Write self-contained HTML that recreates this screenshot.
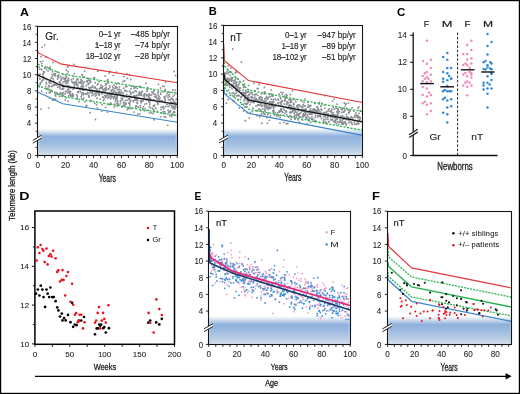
<!DOCTYPE html><html><head><meta charset="utf-8"><style>html,body{margin:0;padding:0;background:#fff;}svg{display:block;will-change:transform;}</style></head><body>
<svg width="520" height="394" viewBox="0 0 520 394" font-family='"Liberation Sans", sans-serif'>
<defs>
<linearGradient id="gb" x1="0" y1="0" x2="0" y2="1">
<stop offset="0" stop-color="#ffffff"/>
<stop offset="0.1" stop-color="#dfe8f3"/>
<stop offset="0.3" stop-color="#8fb1dc"/>
<stop offset="0.55" stop-color="#a0bde1"/>
<stop offset="0.9" stop-color="#c7d5e8"/>
<stop offset="0.96" stop-color="#d9e3ef"/>
<stop offset="1" stop-color="#cdd9ea"/>
</linearGradient>
</defs>
<rect x="0" y="0" width="520" height="394" fill="#fff"/>
<rect x="38.20" y="128.60" width="139.10" height="26.90" fill="url(#gb)"/>
<rect x="38.20" y="131.60" width="1.2" height="23.90" fill="#bcd4f0" opacity="0.8"/>
<rect x="175.70" y="131.60" width="1.0" height="23.90" fill="#c4d8f0" opacity="0.7"/>
<g fill="#898d93"><circle cx="100.85" cy="84.88" r="0.92"/><circle cx="108.59" cy="97.10" r="0.92"/><circle cx="63.48" cy="94.95" r="0.92"/><circle cx="50.84" cy="91.32" r="0.92"/><circle cx="50.36" cy="81.42" r="0.92"/><circle cx="174.81" cy="106.02" r="0.92"/><circle cx="128.99" cy="95.96" r="0.92"/><circle cx="111.46" cy="91.72" r="0.92"/><circle cx="64.25" cy="78.25" r="0.92"/><circle cx="99.20" cy="90.33" r="0.92"/><circle cx="110.17" cy="104.34" r="0.92"/><circle cx="101.54" cy="92.22" r="0.92"/><circle cx="81.71" cy="98.67" r="0.92"/><circle cx="78.05" cy="86.95" r="0.92"/><circle cx="155.88" cy="108.30" r="0.92"/><circle cx="171.44" cy="98.49" r="0.92"/><circle cx="164.77" cy="102.39" r="0.92"/><circle cx="174.56" cy="94.80" r="0.92"/><circle cx="146.38" cy="94.91" r="0.92"/><circle cx="49.87" cy="66.89" r="0.92"/><circle cx="54.17" cy="85.22" r="0.92"/><circle cx="51.81" cy="78.28" r="0.92"/><circle cx="115.78" cy="98.88" r="0.92"/><circle cx="64.32" cy="79.13" r="0.92"/><circle cx="53.96" cy="73.82" r="0.92"/><circle cx="67.42" cy="73.84" r="0.92"/><circle cx="80.16" cy="91.17" r="0.92"/><circle cx="67.12" cy="80.34" r="0.92"/><circle cx="51.71" cy="90.35" r="0.92"/><circle cx="67.47" cy="85.83" r="0.92"/><circle cx="79.07" cy="101.48" r="0.92"/><circle cx="50.28" cy="80.07" r="0.92"/><circle cx="89.59" cy="80.46" r="0.92"/><circle cx="171.60" cy="116.53" r="0.92"/><circle cx="63.22" cy="92.66" r="0.92"/><circle cx="164.52" cy="102.35" r="0.92"/><circle cx="140.92" cy="93.85" r="0.92"/><circle cx="65.14" cy="79.07" r="0.92"/><circle cx="96.54" cy="104.77" r="0.92"/><circle cx="43.10" cy="76.45" r="0.92"/><circle cx="73.57" cy="76.40" r="0.92"/><circle cx="120.97" cy="90.12" r="0.92"/><circle cx="47.30" cy="67.30" r="0.92"/><circle cx="115.79" cy="98.97" r="0.92"/><circle cx="165.76" cy="106.45" r="0.92"/><circle cx="40.01" cy="79.07" r="0.92"/><circle cx="62.31" cy="84.91" r="0.92"/><circle cx="117.57" cy="104.73" r="0.92"/><circle cx="174.58" cy="92.32" r="0.92"/><circle cx="134.19" cy="96.25" r="0.92"/><circle cx="40.20" cy="74.34" r="0.92"/><circle cx="135.56" cy="87.46" r="0.92"/><circle cx="105.02" cy="91.42" r="0.92"/><circle cx="82.22" cy="80.98" r="0.92"/><circle cx="140.59" cy="94.35" r="0.92"/><circle cx="140.60" cy="94.18" r="0.92"/><circle cx="86.82" cy="105.42" r="0.92"/><circle cx="163.46" cy="113.35" r="0.92"/><circle cx="158.24" cy="94.96" r="0.92"/><circle cx="124.94" cy="104.65" r="0.92"/><circle cx="48.90" cy="85.59" r="0.92"/><circle cx="140.31" cy="105.62" r="0.92"/><circle cx="99.20" cy="81.38" r="0.92"/><circle cx="41.86" cy="69.54" r="0.92"/><circle cx="104.84" cy="95.48" r="0.92"/><circle cx="123.48" cy="103.85" r="0.92"/><circle cx="73.41" cy="94.61" r="0.92"/><circle cx="65.98" cy="76.12" r="0.92"/><circle cx="164.14" cy="116.63" r="0.92"/><circle cx="83.34" cy="83.83" r="0.92"/><circle cx="65.41" cy="80.86" r="0.92"/><circle cx="160.59" cy="116.87" r="0.92"/><circle cx="119.10" cy="89.47" r="0.92"/><circle cx="154.56" cy="94.33" r="0.92"/><circle cx="136.99" cy="98.68" r="0.92"/><circle cx="100.61" cy="87.72" r="0.92"/><circle cx="67.59" cy="92.74" r="0.92"/><circle cx="81.73" cy="95.07" r="0.92"/><circle cx="174.79" cy="102.38" r="0.92"/><circle cx="159.55" cy="99.91" r="0.92"/><circle cx="136.62" cy="102.55" r="0.92"/><circle cx="40.37" cy="61.56" r="0.92"/><circle cx="101.19" cy="87.04" r="0.92"/><circle cx="57.37" cy="93.54" r="0.92"/><circle cx="125.53" cy="103.36" r="0.92"/><circle cx="150.41" cy="107.83" r="0.92"/><circle cx="133.26" cy="101.85" r="0.92"/><circle cx="39.20" cy="74.87" r="0.92"/><circle cx="137.40" cy="98.94" r="0.92"/><circle cx="135.04" cy="90.99" r="0.92"/><circle cx="123.48" cy="105.87" r="0.92"/><circle cx="164.21" cy="86.33" r="0.92"/><circle cx="167.89" cy="97.44" r="0.92"/><circle cx="125.03" cy="90.19" r="0.92"/><circle cx="90.30" cy="81.00" r="0.92"/><circle cx="169.52" cy="112.10" r="0.92"/><circle cx="128.62" cy="98.95" r="0.92"/><circle cx="127.27" cy="109.60" r="0.92"/><circle cx="67.48" cy="66.88" r="0.92"/><circle cx="112.66" cy="96.47" r="0.92"/><circle cx="82.43" cy="85.00" r="0.92"/><circle cx="49.26" cy="86.12" r="0.92"/><circle cx="114.52" cy="96.06" r="0.92"/><circle cx="150.66" cy="99.86" r="0.92"/><circle cx="149.36" cy="106.45" r="0.92"/><circle cx="57.31" cy="71.98" r="0.92"/><circle cx="109.81" cy="87.60" r="0.92"/><circle cx="169.73" cy="112.60" r="0.92"/><circle cx="170.20" cy="100.11" r="0.92"/><circle cx="78.21" cy="79.72" r="0.92"/><circle cx="126.89" cy="91.14" r="0.92"/><circle cx="81.21" cy="96.71" r="0.92"/><circle cx="155.70" cy="97.27" r="0.92"/><circle cx="172.89" cy="90.02" r="0.92"/><circle cx="117.69" cy="103.22" r="0.92"/><circle cx="122.19" cy="99.40" r="0.92"/><circle cx="173.03" cy="114.34" r="0.92"/><circle cx="116.28" cy="86.96" r="0.92"/><circle cx="134.16" cy="112.07" r="0.92"/><circle cx="171.28" cy="105.27" r="0.92"/><circle cx="75.28" cy="82.59" r="0.92"/><circle cx="151.57" cy="94.73" r="0.92"/><circle cx="104.22" cy="89.04" r="0.92"/><circle cx="166.87" cy="93.33" r="0.92"/><circle cx="146.49" cy="95.87" r="0.92"/><circle cx="133.61" cy="92.49" r="0.92"/><circle cx="87.31" cy="80.62" r="0.92"/><circle cx="54.84" cy="74.74" r="0.92"/><circle cx="72.68" cy="95.24" r="0.92"/><circle cx="90.15" cy="91.88" r="0.92"/><circle cx="111.60" cy="90.94" r="0.92"/><circle cx="126.83" cy="86.45" r="0.92"/><circle cx="156.54" cy="97.79" r="0.92"/><circle cx="141.11" cy="102.75" r="0.92"/><circle cx="163.71" cy="108.78" r="0.92"/><circle cx="68.15" cy="71.75" r="0.92"/><circle cx="161.60" cy="101.12" r="0.92"/><circle cx="73.93" cy="64.41" r="0.92"/><circle cx="153.87" cy="99.72" r="0.92"/><circle cx="93.93" cy="94.66" r="0.92"/><circle cx="40.18" cy="84.25" r="0.92"/><circle cx="108.29" cy="104.38" r="0.92"/><circle cx="64.09" cy="86.59" r="0.92"/><circle cx="52.52" cy="99.81" r="0.92"/><circle cx="117.10" cy="97.53" r="0.92"/><circle cx="63.46" cy="74.21" r="0.92"/><circle cx="46.35" cy="92.84" r="0.92"/><circle cx="83.33" cy="86.38" r="0.92"/><circle cx="109.63" cy="94.49" r="0.92"/><circle cx="135.56" cy="98.41" r="0.92"/><circle cx="63.01" cy="86.53" r="0.92"/><circle cx="64.94" cy="93.74" r="0.92"/><circle cx="109.25" cy="72.98" r="0.92"/><circle cx="136.07" cy="105.93" r="0.92"/><circle cx="125.56" cy="103.08" r="0.92"/><circle cx="174.88" cy="109.08" r="0.92"/><circle cx="73.75" cy="88.20" r="0.92"/><circle cx="151.42" cy="112.87" r="0.92"/><circle cx="162.86" cy="106.32" r="0.92"/><circle cx="144.53" cy="110.83" r="0.92"/><circle cx="138.58" cy="107.11" r="0.92"/><circle cx="39.18" cy="67.26" r="0.92"/><circle cx="126.86" cy="94.35" r="0.92"/><circle cx="130.69" cy="79.53" r="0.92"/><circle cx="129.80" cy="103.85" r="0.92"/><circle cx="135.59" cy="96.16" r="0.92"/><circle cx="123.61" cy="95.98" r="0.92"/><circle cx="73.53" cy="83.17" r="0.92"/><circle cx="90.14" cy="87.41" r="0.92"/><circle cx="72.72" cy="95.83" r="0.92"/><circle cx="172.71" cy="106.37" r="0.92"/><circle cx="121.12" cy="98.08" r="0.92"/><circle cx="44.00" cy="72.59" r="0.92"/><circle cx="61.31" cy="78.30" r="0.92"/><circle cx="123.02" cy="81.38" r="0.92"/><circle cx="111.24" cy="96.35" r="0.92"/><circle cx="88.73" cy="95.41" r="0.92"/><circle cx="77.28" cy="96.05" r="0.92"/><circle cx="79.03" cy="88.47" r="0.92"/><circle cx="59.56" cy="82.36" r="0.92"/><circle cx="92.14" cy="90.74" r="0.92"/><circle cx="175.73" cy="106.51" r="0.92"/><circle cx="47.96" cy="88.14" r="0.92"/><circle cx="173.55" cy="100.27" r="0.92"/><circle cx="110.76" cy="95.11" r="0.92"/><circle cx="174.34" cy="112.01" r="0.92"/><circle cx="121.97" cy="106.92" r="0.92"/><circle cx="66.13" cy="97.82" r="0.92"/><circle cx="111.42" cy="103.93" r="0.92"/><circle cx="101.30" cy="88.40" r="0.92"/><circle cx="118.98" cy="93.48" r="0.92"/><circle cx="140.21" cy="86.86" r="0.92"/><circle cx="147.19" cy="89.50" r="0.92"/><circle cx="87.84" cy="93.75" r="0.92"/><circle cx="120.30" cy="103.86" r="0.92"/><circle cx="142.87" cy="98.75" r="0.92"/><circle cx="165.53" cy="82.23" r="0.92"/><circle cx="43.22" cy="79.89" r="0.92"/><circle cx="124.72" cy="80.79" r="0.92"/><circle cx="113.31" cy="75.42" r="0.92"/><circle cx="114.57" cy="88.68" r="0.92"/><circle cx="89.80" cy="88.71" r="0.92"/><circle cx="141.68" cy="92.22" r="0.92"/><circle cx="48.08" cy="71.12" r="0.92"/><circle cx="145.02" cy="108.70" r="0.92"/><circle cx="96.94" cy="88.93" r="0.92"/><circle cx="128.95" cy="103.14" r="0.92"/><circle cx="83.12" cy="89.67" r="0.92"/><circle cx="97.40" cy="107.94" r="0.92"/><circle cx="51.24" cy="78.00" r="0.92"/><circle cx="116.46" cy="93.20" r="0.92"/><circle cx="133.37" cy="96.89" r="0.92"/><circle cx="67.47" cy="89.60" r="0.92"/><circle cx="49.11" cy="82.03" r="0.92"/><circle cx="77.19" cy="99.37" r="0.92"/><circle cx="87.65" cy="92.42" r="0.92"/><circle cx="136.71" cy="95.19" r="0.92"/><circle cx="165.93" cy="95.92" r="0.92"/><circle cx="149.81" cy="104.04" r="0.92"/><circle cx="82.04" cy="74.94" r="0.92"/><circle cx="72.36" cy="93.69" r="0.92"/><circle cx="88.73" cy="95.88" r="0.92"/><circle cx="64.92" cy="81.94" r="0.92"/><circle cx="148.97" cy="95.04" r="0.92"/><circle cx="62.35" cy="93.84" r="0.92"/><circle cx="160.67" cy="93.08" r="0.92"/><circle cx="113.66" cy="92.96" r="0.92"/><circle cx="172.61" cy="102.79" r="0.92"/><circle cx="114.04" cy="96.74" r="0.92"/><circle cx="49.43" cy="83.05" r="0.92"/><circle cx="49.52" cy="97.81" r="0.92"/><circle cx="57.79" cy="87.21" r="0.92"/><circle cx="68.47" cy="91.31" r="0.92"/><circle cx="110.51" cy="98.88" r="0.92"/><circle cx="172.87" cy="99.65" r="0.92"/><circle cx="106.62" cy="95.12" r="0.92"/><circle cx="165.43" cy="113.74" r="0.92"/><circle cx="153.04" cy="92.55" r="0.92"/><circle cx="154.10" cy="111.17" r="0.92"/><circle cx="171.41" cy="114.79" r="0.92"/><circle cx="149.69" cy="101.69" r="0.92"/><circle cx="96.40" cy="92.63" r="0.92"/><circle cx="90.12" cy="112.69" r="0.92"/><circle cx="66.23" cy="91.57" r="0.92"/><circle cx="45.97" cy="56.99" r="0.92"/><circle cx="53.73" cy="81.24" r="0.92"/><circle cx="46.40" cy="84.12" r="0.92"/><circle cx="119.24" cy="91.68" r="0.92"/><circle cx="63.46" cy="85.31" r="0.92"/><circle cx="70.56" cy="91.53" r="0.92"/><circle cx="63.52" cy="89.02" r="0.92"/><circle cx="61.78" cy="89.05" r="0.92"/><circle cx="151.77" cy="91.83" r="0.92"/><circle cx="74.06" cy="82.10" r="0.92"/><circle cx="114.11" cy="97.67" r="0.92"/><circle cx="105.07" cy="76.00" r="0.92"/><circle cx="149.58" cy="94.54" r="0.92"/><circle cx="111.35" cy="97.21" r="0.92"/><circle cx="129.49" cy="74.86" r="0.92"/><circle cx="39.22" cy="86.84" r="0.92"/><circle cx="137.27" cy="88.61" r="0.92"/><circle cx="59.66" cy="87.16" r="0.92"/><circle cx="159.05" cy="96.42" r="0.92"/><circle cx="126.62" cy="97.20" r="0.92"/><circle cx="58.73" cy="74.91" r="0.92"/><circle cx="49.21" cy="92.72" r="0.92"/><circle cx="137.73" cy="114.29" r="0.92"/><circle cx="171.09" cy="102.41" r="0.92"/><circle cx="157.39" cy="99.37" r="0.92"/><circle cx="165.68" cy="117.21" r="0.92"/><circle cx="153.06" cy="109.08" r="0.92"/><circle cx="59.69" cy="87.11" r="0.92"/><circle cx="81.17" cy="83.44" r="0.92"/><circle cx="102.92" cy="89.60" r="0.92"/><circle cx="87.92" cy="84.31" r="0.92"/><circle cx="102.16" cy="87.84" r="0.92"/><circle cx="153.53" cy="93.55" r="0.92"/><circle cx="136.82" cy="97.36" r="0.92"/><circle cx="116.45" cy="72.19" r="0.92"/><circle cx="149.30" cy="98.44" r="0.92"/><circle cx="123.70" cy="102.25" r="0.92"/><circle cx="79.33" cy="82.29" r="0.92"/><circle cx="92.45" cy="90.97" r="0.92"/><circle cx="139.81" cy="93.54" r="0.92"/><circle cx="169.63" cy="104.26" r="0.92"/><circle cx="153.13" cy="113.42" r="0.92"/><circle cx="57.36" cy="94.19" r="0.92"/><circle cx="62.81" cy="96.25" r="0.92"/><circle cx="154.53" cy="96.36" r="0.92"/><circle cx="59.63" cy="81.73" r="0.92"/><circle cx="94.50" cy="77.62" r="0.92"/><circle cx="109.11" cy="97.12" r="0.92"/><circle cx="144.75" cy="104.11" r="0.92"/><circle cx="95.23" cy="82.64" r="0.92"/><circle cx="93.64" cy="78.20" r="0.92"/><circle cx="129.87" cy="98.25" r="0.92"/><circle cx="40.29" cy="83.29" r="0.92"/><circle cx="52.54" cy="71.80" r="0.92"/><circle cx="108.81" cy="88.85" r="0.92"/><circle cx="59.80" cy="93.86" r="0.92"/><circle cx="163.76" cy="107.39" r="0.92"/><circle cx="57.49" cy="76.47" r="0.92"/><circle cx="175.45" cy="107.11" r="0.92"/><circle cx="65.23" cy="99.88" r="0.92"/><circle cx="125.25" cy="91.33" r="0.92"/><circle cx="118.18" cy="92.19" r="0.92"/><circle cx="83.65" cy="94.57" r="0.92"/><circle cx="55.01" cy="75.92" r="0.92"/><circle cx="56.63" cy="92.85" r="0.92"/><circle cx="115.92" cy="97.06" r="0.92"/><circle cx="164.64" cy="98.33" r="0.92"/><circle cx="54.82" cy="92.23" r="0.92"/><circle cx="77.99" cy="87.90" r="0.92"/><circle cx="153.67" cy="91.14" r="0.92"/><circle cx="114.18" cy="85.29" r="0.92"/><circle cx="175.49" cy="103.22" r="0.92"/><circle cx="129.61" cy="102.40" r="0.92"/><circle cx="90.98" cy="101.00" r="0.92"/><circle cx="149.91" cy="94.92" r="0.92"/><circle cx="57.66" cy="75.59" r="0.92"/><circle cx="117.20" cy="100.40" r="0.92"/><circle cx="117.00" cy="95.43" r="0.92"/><circle cx="127.28" cy="100.25" r="0.92"/><circle cx="171.62" cy="107.09" r="0.92"/><circle cx="103.30" cy="100.44" r="0.92"/><circle cx="143.52" cy="106.79" r="0.92"/><circle cx="105.52" cy="85.35" r="0.92"/><circle cx="94.80" cy="103.30" r="0.92"/><circle cx="116.71" cy="103.43" r="0.92"/><circle cx="98.04" cy="93.11" r="0.92"/><circle cx="82.47" cy="93.93" r="0.92"/><circle cx="139.89" cy="113.83" r="0.92"/><circle cx="142.66" cy="101.15" r="0.92"/><circle cx="55.07" cy="84.28" r="0.92"/><circle cx="107.87" cy="82.64" r="0.92"/><circle cx="111.16" cy="90.19" r="0.92"/><circle cx="80.46" cy="88.60" r="0.92"/><circle cx="164.92" cy="99.71" r="0.92"/><circle cx="130.63" cy="108.50" r="0.92"/><circle cx="68.66" cy="80.70" r="0.92"/><circle cx="116.83" cy="84.19" r="0.92"/><circle cx="54.98" cy="74.52" r="0.92"/><circle cx="170.46" cy="102.86" r="0.92"/><circle cx="83.04" cy="77.00" r="0.92"/><circle cx="162.66" cy="107.52" r="0.92"/><circle cx="119.44" cy="86.90" r="0.92"/><circle cx="42.05" cy="80.64" r="0.92"/><circle cx="168.08" cy="94.96" r="0.92"/><circle cx="103.68" cy="97.20" r="0.92"/><circle cx="162.89" cy="86.32" r="0.92"/><circle cx="154.67" cy="105.18" r="0.92"/><circle cx="160.51" cy="100.96" r="0.92"/><circle cx="65.90" cy="81.11" r="0.92"/><circle cx="44.68" cy="45.11" r="0.92"/><circle cx="139.02" cy="86.37" r="0.92"/><circle cx="137.25" cy="106.59" r="0.92"/><circle cx="134.85" cy="100.37" r="0.92"/><circle cx="68.86" cy="85.98" r="0.92"/><circle cx="136.89" cy="95.68" r="0.92"/><circle cx="130.48" cy="92.05" r="0.92"/><circle cx="89.70" cy="83.07" r="0.92"/><circle cx="69.67" cy="93.55" r="0.92"/><circle cx="167.07" cy="104.53" r="0.92"/><circle cx="50.26" cy="69.02" r="0.92"/><circle cx="99.17" cy="94.03" r="0.92"/><circle cx="121.42" cy="95.86" r="0.92"/><circle cx="72.73" cy="82.51" r="0.92"/><circle cx="143.19" cy="95.83" r="0.92"/><circle cx="76.66" cy="82.19" r="0.92"/><circle cx="175.59" cy="75.58" r="0.92"/><circle cx="102.14" cy="104.87" r="0.92"/><circle cx="107.49" cy="82.10" r="0.92"/><circle cx="115.32" cy="101.22" r="0.92"/><circle cx="147.01" cy="91.32" r="0.92"/><circle cx="108.29" cy="96.86" r="0.92"/><circle cx="170.53" cy="111.41" r="0.92"/><circle cx="146.54" cy="103.62" r="0.92"/><circle cx="99.18" cy="95.20" r="0.92"/><circle cx="147.50" cy="98.89" r="0.92"/><circle cx="68.58" cy="78.53" r="0.92"/><circle cx="107.36" cy="112.07" r="0.92"/><circle cx="117.64" cy="101.41" r="0.92"/><circle cx="62.83" cy="77.54" r="0.92"/><circle cx="98.38" cy="90.77" r="0.92"/><circle cx="74.41" cy="73.62" r="0.92"/><circle cx="117.12" cy="87.76" r="0.92"/><circle cx="148.21" cy="95.93" r="0.92"/><circle cx="43.61" cy="71.71" r="0.92"/><circle cx="124.42" cy="96.81" r="0.92"/><circle cx="50.05" cy="69.57" r="0.92"/><circle cx="61.66" cy="79.44" r="0.92"/><circle cx="153.70" cy="91.23" r="0.92"/><circle cx="46.24" cy="82.69" r="0.92"/><circle cx="173.19" cy="96.12" r="0.92"/><circle cx="106.04" cy="88.91" r="0.92"/><circle cx="101.26" cy="92.54" r="0.92"/><circle cx="43.18" cy="73.77" r="0.92"/><circle cx="92.55" cy="93.35" r="0.92"/><circle cx="96.95" cy="44.14" r="0.92"/><circle cx="144.25" cy="93.93" r="0.92"/><circle cx="69.79" cy="92.25" r="0.92"/><circle cx="102.13" cy="94.06" r="0.92"/><circle cx="88.51" cy="80.21" r="0.92"/><circle cx="43.24" cy="78.90" r="0.92"/><circle cx="128.41" cy="108.94" r="0.92"/><circle cx="158.37" cy="92.04" r="0.92"/><circle cx="161.44" cy="112.82" r="0.92"/><circle cx="90.91" cy="81.80" r="0.92"/><circle cx="67.77" cy="83.07" r="0.92"/><circle cx="60.58" cy="76.44" r="0.92"/><circle cx="67.64" cy="89.62" r="0.92"/><circle cx="158.14" cy="103.44" r="0.92"/><circle cx="134.21" cy="95.59" r="0.92"/><circle cx="76.02" cy="83.43" r="0.92"/><circle cx="92.56" cy="85.62" r="0.92"/><circle cx="137.54" cy="100.73" r="0.92"/><circle cx="168.45" cy="99.79" r="0.92"/><circle cx="144.59" cy="97.93" r="0.92"/><circle cx="82.66" cy="90.01" r="0.92"/><circle cx="49.31" cy="86.58" r="0.92"/><circle cx="110.19" cy="71.40" r="0.92"/><circle cx="92.70" cy="86.79" r="0.92"/><circle cx="120.82" cy="93.22" r="0.92"/><circle cx="81.29" cy="92.76" r="0.92"/><circle cx="136.34" cy="98.91" r="0.92"/><circle cx="138.98" cy="95.29" r="0.92"/><circle cx="76.84" cy="84.32" r="0.92"/><circle cx="94.28" cy="87.60" r="0.92"/><circle cx="78.47" cy="92.40" r="0.92"/><circle cx="67.82" cy="66.52" r="0.92"/><circle cx="116.71" cy="93.10" r="0.92"/><circle cx="173.89" cy="111.69" r="0.92"/><circle cx="67.88" cy="101.13" r="0.92"/><circle cx="130.76" cy="93.33" r="0.92"/><circle cx="126.00" cy="104.00" r="0.92"/><circle cx="97.41" cy="84.92" r="0.92"/><circle cx="83.51" cy="86.69" r="0.92"/><circle cx="76.76" cy="95.00" r="0.92"/><circle cx="60.97" cy="80.36" r="0.92"/><circle cx="71.18" cy="95.66" r="0.92"/><circle cx="58.75" cy="77.59" r="0.92"/><circle cx="135.61" cy="98.20" r="0.92"/><circle cx="92.34" cy="92.24" r="0.92"/><circle cx="46.49" cy="69.59" r="0.92"/><circle cx="119.49" cy="92.26" r="0.92"/><circle cx="83.14" cy="82.63" r="0.92"/><circle cx="162.19" cy="101.01" r="0.92"/><circle cx="74.26" cy="84.64" r="0.92"/><circle cx="123.59" cy="88.25" r="0.92"/><circle cx="88.32" cy="78.42" r="0.92"/><circle cx="125.28" cy="100.48" r="0.92"/><circle cx="95.07" cy="93.43" r="0.92"/><circle cx="160.51" cy="88.23" r="0.92"/><circle cx="164.68" cy="91.02" r="0.92"/><circle cx="80.78" cy="82.37" r="0.92"/><circle cx="174.09" cy="102.06" r="0.92"/><circle cx="132.65" cy="92.34" r="0.92"/><circle cx="106.61" cy="89.72" r="0.92"/><circle cx="114.22" cy="107.00" r="0.92"/><circle cx="172.95" cy="108.84" r="0.92"/><circle cx="86.10" cy="94.22" r="0.92"/><circle cx="134.78" cy="86.94" r="0.92"/><circle cx="172.26" cy="98.15" r="0.92"/><circle cx="106.20" cy="84.44" r="0.92"/><circle cx="89.29" cy="90.32" r="0.92"/><circle cx="70.79" cy="96.27" r="0.92"/><circle cx="83.07" cy="93.02" r="0.92"/><circle cx="46.53" cy="79.68" r="0.92"/><circle cx="51.97" cy="74.58" r="0.92"/><circle cx="145.49" cy="94.12" r="0.92"/><circle cx="60.39" cy="83.26" r="0.92"/><circle cx="73.14" cy="89.42" r="0.92"/><circle cx="148.88" cy="101.03" r="0.92"/><circle cx="137.62" cy="103.45" r="0.92"/><circle cx="84.30" cy="81.94" r="0.92"/><circle cx="116.92" cy="106.11" r="0.92"/><circle cx="136.39" cy="91.47" r="0.92"/><circle cx="55.18" cy="94.97" r="0.92"/><circle cx="131.14" cy="96.51" r="0.92"/><circle cx="119.44" cy="94.01" r="0.92"/><circle cx="173.17" cy="106.66" r="0.92"/><circle cx="125.85" cy="103.15" r="0.92"/><circle cx="168.00" cy="91.97" r="0.92"/><circle cx="54.23" cy="74.75" r="0.92"/><circle cx="77.63" cy="84.71" r="0.92"/><circle cx="83.78" cy="89.67" r="0.92"/><circle cx="113.44" cy="98.53" r="0.92"/><circle cx="149.45" cy="95.48" r="0.92"/><circle cx="77.31" cy="97.48" r="0.92"/><circle cx="174.64" cy="112.35" r="0.92"/><circle cx="134.59" cy="96.28" r="0.92"/><circle cx="62.14" cy="93.55" r="0.92"/><circle cx="168.02" cy="106.61" r="0.92"/><circle cx="82.88" cy="88.69" r="0.92"/><circle cx="116.70" cy="98.78" r="0.92"/><circle cx="69.47" cy="91.19" r="0.92"/><circle cx="88.77" cy="87.66" r="0.92"/><circle cx="162.31" cy="101.17" r="0.92"/><circle cx="48.65" cy="108.11" r="0.92"/><circle cx="65.93" cy="83.91" r="0.92"/><circle cx="105.30" cy="90.28" r="0.92"/><circle cx="45.75" cy="86.59" r="0.92"/><circle cx="129.40" cy="99.63" r="0.92"/><circle cx="158.40" cy="84.44" r="0.92"/><circle cx="99.57" cy="92.62" r="0.92"/><circle cx="41.44" cy="82.13" r="0.92"/><circle cx="54.28" cy="98.99" r="0.92"/><circle cx="80.98" cy="79.49" r="0.92"/><circle cx="39.16" cy="74.43" r="0.92"/><circle cx="111.30" cy="94.08" r="0.92"/><circle cx="148.30" cy="110.33" r="0.92"/><circle cx="153.24" cy="92.80" r="0.92"/><circle cx="175.34" cy="90.06" r="0.92"/><circle cx="136.15" cy="100.07" r="0.92"/><circle cx="164.69" cy="111.65" r="0.92"/><circle cx="91.92" cy="93.11" r="0.92"/><circle cx="129.41" cy="103.56" r="0.92"/><circle cx="87.13" cy="82.12" r="0.92"/><circle cx="164.06" cy="96.84" r="0.92"/><circle cx="141.23" cy="94.96" r="0.92"/><circle cx="141.45" cy="100.59" r="0.92"/><circle cx="52.47" cy="86.04" r="0.92"/><circle cx="86.61" cy="81.25" r="0.92"/><circle cx="94.01" cy="90.51" r="0.92"/><circle cx="112.68" cy="89.82" r="0.92"/><circle cx="82.50" cy="74.78" r="0.92"/><circle cx="52.83" cy="100.22" r="0.92"/><circle cx="68.36" cy="78.96" r="0.92"/><circle cx="136.26" cy="99.42" r="0.92"/><circle cx="170.00" cy="92.43" r="0.92"/><circle cx="63.31" cy="81.97" r="0.92"/><circle cx="126.31" cy="96.49" r="0.92"/><circle cx="127.59" cy="107.75" r="0.92"/><circle cx="157.25" cy="111.35" r="0.92"/><circle cx="108.18" cy="82.85" r="0.92"/><circle cx="134.00" cy="88.34" r="0.92"/><circle cx="130.60" cy="100.85" r="0.92"/><circle cx="121.55" cy="91.97" r="0.92"/><circle cx="109.63" cy="104.56" r="0.92"/><circle cx="120.53" cy="100.97" r="0.92"/><circle cx="167.75" cy="125.32" r="0.92"/><circle cx="140.72" cy="94.07" r="0.92"/><circle cx="140.55" cy="110.45" r="0.92"/><circle cx="55.39" cy="73.71" r="0.92"/><circle cx="106.25" cy="87.34" r="0.92"/><circle cx="168.60" cy="111.91" r="0.92"/><circle cx="149.06" cy="97.22" r="0.92"/><circle cx="159.17" cy="101.61" r="0.92"/><circle cx="72.70" cy="96.23" r="0.92"/><circle cx="158.53" cy="98.84" r="0.92"/><circle cx="76.74" cy="79.96" r="0.92"/><circle cx="147.58" cy="95.52" r="0.92"/><circle cx="71.46" cy="79.74" r="0.92"/><circle cx="114.38" cy="104.16" r="0.92"/><circle cx="148.93" cy="102.08" r="0.92"/><circle cx="42.84" cy="74.33" r="0.92"/><circle cx="158.43" cy="97.98" r="0.92"/><circle cx="91.95" cy="87.59" r="0.92"/><circle cx="123.84" cy="76.38" r="0.92"/><circle cx="66.56" cy="77.17" r="0.92"/><circle cx="160.07" cy="98.12" r="0.92"/><circle cx="97.84" cy="71.21" r="0.92"/><circle cx="85.11" cy="93.62" r="0.92"/><circle cx="121.89" cy="99.78" r="0.92"/><circle cx="62.92" cy="88.84" r="0.92"/><circle cx="55.72" cy="99.30" r="0.92"/><circle cx="169.07" cy="106.11" r="0.92"/><circle cx="140.48" cy="101.25" r="0.92"/><circle cx="58.12" cy="76.71" r="0.92"/><circle cx="96.99" cy="98.26" r="0.92"/><circle cx="108.41" cy="88.99" r="0.92"/><circle cx="86.05" cy="88.84" r="0.92"/><circle cx="77.47" cy="78.83" r="0.92"/><circle cx="77.69" cy="91.96" r="0.92"/><circle cx="168.04" cy="110.11" r="0.92"/><circle cx="141.46" cy="101.17" r="0.92"/><circle cx="96.21" cy="90.53" r="0.92"/><circle cx="99.25" cy="94.85" r="0.92"/><circle cx="131.52" cy="86.26" r="0.92"/><circle cx="95.15" cy="86.82" r="0.92"/><circle cx="96.42" cy="94.79" r="0.92"/><circle cx="152.24" cy="108.09" r="0.92"/><circle cx="51.58" cy="86.60" r="0.92"/><circle cx="50.04" cy="89.71" r="0.92"/><circle cx="131.12" cy="88.73" r="0.92"/><circle cx="163.05" cy="91.94" r="0.92"/><circle cx="103.20" cy="91.00" r="0.92"/><circle cx="102.59" cy="97.13" r="0.92"/><circle cx="173.17" cy="112.48" r="0.92"/><circle cx="176.27" cy="99.26" r="0.92"/><circle cx="135.57" cy="106.99" r="0.92"/><circle cx="46.99" cy="89.13" r="0.92"/><circle cx="68.14" cy="80.68" r="0.92"/><circle cx="66.94" cy="82.12" r="0.92"/><circle cx="141.26" cy="87.22" r="0.92"/><circle cx="60.99" cy="93.93" r="0.92"/><circle cx="73.08" cy="96.01" r="0.92"/><circle cx="139.73" cy="92.41" r="0.92"/><circle cx="39.91" cy="69.19" r="0.92"/><circle cx="169.56" cy="96.49" r="0.92"/><circle cx="112.51" cy="92.97" r="0.92"/><circle cx="53.23" cy="84.85" r="0.92"/><circle cx="55.09" cy="73.81" r="0.92"/><circle cx="55.81" cy="95.90" r="0.92"/><circle cx="146.24" cy="99.89" r="0.92"/><circle cx="95.48" cy="88.04" r="0.92"/><circle cx="115.61" cy="86.69" r="0.92"/><circle cx="156.46" cy="96.11" r="0.92"/><circle cx="173.16" cy="107.17" r="0.92"/><circle cx="94.44" cy="78.80" r="0.92"/><circle cx="95.41" cy="119.53" r="0.92"/><circle cx="59.16" cy="85.57" r="0.92"/><circle cx="59.55" cy="96.38" r="0.92"/><circle cx="41.68" cy="91.19" r="0.92"/><circle cx="127.47" cy="78.43" r="0.92"/><circle cx="44.13" cy="71.97" r="0.92"/><circle cx="53.30" cy="78.94" r="0.92"/><circle cx="83.60" cy="97.95" r="0.92"/><circle cx="169.82" cy="115.72" r="0.92"/><circle cx="107.63" cy="98.05" r="0.92"/><circle cx="140.91" cy="94.79" r="0.92"/><circle cx="89.05" cy="97.00" r="0.92"/><circle cx="97.80" cy="90.64" r="0.92"/><circle cx="44.62" cy="68.35" r="0.92"/><circle cx="114.14" cy="90.89" r="0.92"/><circle cx="68.78" cy="95.72" r="0.92"/><circle cx="105.27" cy="88.28" r="0.92"/><circle cx="142.32" cy="91.38" r="0.92"/><circle cx="172.60" cy="102.83" r="0.92"/><circle cx="120.53" cy="101.81" r="0.92"/><circle cx="89.20" cy="82.91" r="0.92"/><circle cx="122.74" cy="99.04" r="0.92"/><circle cx="109.76" cy="85.73" r="0.92"/><circle cx="45.11" cy="78.47" r="0.92"/><circle cx="148.77" cy="94.06" r="0.92"/><circle cx="157.76" cy="103.73" r="0.92"/><circle cx="49.63" cy="68.16" r="0.92"/><circle cx="153.78" cy="106.17" r="0.92"/><circle cx="147.75" cy="87.40" r="0.92"/><circle cx="45.62" cy="67.14" r="0.92"/><circle cx="114.77" cy="91.34" r="0.92"/><circle cx="126.86" cy="74.03" r="0.92"/><circle cx="118.64" cy="104.74" r="0.92"/><circle cx="140.57" cy="107.44" r="0.92"/><circle cx="146.78" cy="99.45" r="0.92"/><circle cx="100.20" cy="99.10" r="0.92"/><circle cx="54.17" cy="82.53" r="0.92"/><circle cx="53.87" cy="85.15" r="0.92"/><circle cx="130.71" cy="94.16" r="0.92"/><circle cx="80.98" cy="86.54" r="0.92"/><circle cx="115.90" cy="92.72" r="0.92"/><circle cx="112.57" cy="86.70" r="0.92"/><circle cx="54.92" cy="84.52" r="0.92"/><circle cx="98.00" cy="91.35" r="0.92"/><circle cx="131.84" cy="108.23" r="0.92"/><circle cx="91.86" cy="90.23" r="0.92"/><circle cx="52.39" cy="76.13" r="0.92"/><circle cx="65.92" cy="78.14" r="0.92"/><circle cx="60.57" cy="92.59" r="0.92"/><circle cx="91.94" cy="95.47" r="0.92"/><circle cx="155.28" cy="108.08" r="0.92"/><circle cx="174.59" cy="108.17" r="0.92"/><circle cx="135.06" cy="98.46" r="0.92"/><circle cx="117.97" cy="83.13" r="0.92"/><circle cx="46.66" cy="88.61" r="0.92"/><circle cx="98.11" cy="83.65" r="0.92"/><circle cx="115.81" cy="87.77" r="0.92"/><circle cx="105.66" cy="97.21" r="0.92"/><circle cx="142.84" cy="108.69" r="0.92"/><circle cx="42.60" cy="61.33" r="0.92"/><circle cx="117.00" cy="96.80" r="0.92"/><circle cx="170.44" cy="99.71" r="0.92"/><circle cx="150.18" cy="97.89" r="0.92"/><circle cx="65.52" cy="91.42" r="0.92"/><circle cx="122.83" cy="94.76" r="0.92"/><circle cx="163.25" cy="111.74" r="0.92"/><circle cx="133.92" cy="86.41" r="0.92"/><circle cx="78.31" cy="92.00" r="0.92"/><circle cx="139.17" cy="98.28" r="0.92"/><circle cx="112.69" cy="92.55" r="0.92"/><circle cx="78.61" cy="82.87" r="0.92"/><circle cx="75.76" cy="81.92" r="0.92"/><circle cx="76.45" cy="85.18" r="0.92"/><circle cx="157.70" cy="104.33" r="0.92"/><circle cx="122.77" cy="96.56" r="0.92"/><circle cx="129.83" cy="105.73" r="0.92"/><circle cx="145.92" cy="83.28" r="0.92"/><circle cx="88.33" cy="84.39" r="0.92"/><circle cx="70.29" cy="95.28" r="0.92"/><circle cx="169.43" cy="94.61" r="0.92"/><circle cx="116.72" cy="92.69" r="0.92"/><circle cx="53.09" cy="62.38" r="0.92"/><circle cx="129.44" cy="91.22" r="0.92"/><circle cx="116.63" cy="98.57" r="0.92"/><circle cx="175.74" cy="102.38" r="0.92"/><circle cx="130.72" cy="100.66" r="0.92"/><circle cx="41.84" cy="63.60" r="0.92"/><circle cx="157.10" cy="102.37" r="0.92"/><circle cx="110.46" cy="102.83" r="0.92"/><circle cx="111.23" cy="94.58" r="0.92"/><circle cx="107.36" cy="95.28" r="0.92"/><circle cx="105.53" cy="107.39" r="0.92"/><circle cx="105.68" cy="83.70" r="0.92"/><circle cx="56.53" cy="84.97" r="0.92"/><circle cx="84.55" cy="71.08" r="0.92"/><circle cx="170.31" cy="110.74" r="0.92"/><circle cx="157.57" cy="92.88" r="0.92"/><circle cx="120.15" cy="94.16" r="0.92"/><circle cx="123.24" cy="92.90" r="0.92"/><circle cx="110.19" cy="94.88" r="0.92"/><circle cx="42.15" cy="47.08" r="0.92"/><circle cx="41.06" cy="109.11" r="0.92"/><circle cx="153.53" cy="110.11" r="0.92"/><circle cx="143.43" cy="100.16" r="0.92"/><circle cx="154.04" cy="119.72" r="0.92"/><circle cx="84.54" cy="77.08" r="0.92"/><circle cx="74.31" cy="86.68" r="0.92"/><circle cx="111.15" cy="97.42" r="0.92"/><circle cx="70.42" cy="94.36" r="0.92"/><circle cx="62.23" cy="85.92" r="0.92"/><circle cx="147.10" cy="91.26" r="0.92"/><circle cx="70.96" cy="87.88" r="0.92"/><circle cx="73.29" cy="78.86" r="0.92"/><circle cx="63.46" cy="88.17" r="0.92"/><circle cx="139.11" cy="92.11" r="0.92"/><circle cx="148.03" cy="88.84" r="0.92"/><circle cx="71.82" cy="81.60" r="0.92"/><circle cx="95.55" cy="95.96" r="0.92"/><circle cx="164.88" cy="97.47" r="0.92"/><circle cx="91.75" cy="87.53" r="0.92"/><circle cx="84.91" cy="101.86" r="0.92"/><circle cx="90.67" cy="100.45" r="0.92"/><circle cx="104.13" cy="99.27" r="0.92"/><circle cx="39.63" cy="78.33" r="0.92"/><circle cx="165.37" cy="100.68" r="0.92"/><circle cx="66.40" cy="70.25" r="0.92"/><circle cx="85.43" cy="93.78" r="0.92"/><circle cx="57.49" cy="78.96" r="0.92"/><circle cx="56.64" cy="85.01" r="0.92"/><circle cx="160.90" cy="94.19" r="0.92"/><circle cx="89.67" cy="92.83" r="0.92"/><circle cx="75.81" cy="83.90" r="0.92"/><circle cx="86.21" cy="85.72" r="0.92"/><circle cx="80.55" cy="82.47" r="0.92"/><circle cx="113.13" cy="87.89" r="0.92"/><circle cx="144.11" cy="96.25" r="0.92"/><circle cx="68.82" cy="88.92" r="0.92"/><circle cx="80.89" cy="81.26" r="0.92"/><circle cx="60.08" cy="88.87" r="0.92"/><circle cx="117.05" cy="89.55" r="0.92"/><circle cx="101.88" cy="111.09" r="0.92"/><circle cx="155.80" cy="94.62" r="0.92"/><circle cx="174.22" cy="71.39" r="0.92"/><circle cx="144.17" cy="94.99" r="0.92"/><circle cx="61.86" cy="84.18" r="0.92"/><circle cx="67.24" cy="81.79" r="0.92"/><circle cx="107.39" cy="80.38" r="0.92"/><circle cx="102.63" cy="86.24" r="0.92"/><circle cx="43.50" cy="76.91" r="0.92"/><circle cx="124.08" cy="105.88" r="0.92"/><circle cx="81.97" cy="87.36" r="0.92"/><circle cx="161.09" cy="109.68" r="0.92"/><circle cx="101.96" cy="87.78" r="0.92"/><circle cx="165.25" cy="89.39" r="0.92"/><circle cx="160.83" cy="107.36" r="0.92"/><circle cx="108.74" cy="94.46" r="0.92"/><circle cx="138.69" cy="93.89" r="0.92"/><circle cx="119.17" cy="89.45" r="0.92"/><circle cx="51.23" cy="83.12" r="0.92"/><circle cx="86.16" cy="106.21" r="0.92"/><circle cx="109.48" cy="93.22" r="0.92"/><circle cx="125.91" cy="86.72" r="0.92"/><circle cx="50.26" cy="92.18" r="0.92"/><circle cx="173.13" cy="102.57" r="0.92"/><circle cx="99.51" cy="88.62" r="0.92"/><circle cx="153.44" cy="105.64" r="0.92"/><circle cx="73.25" cy="95.34" r="0.92"/><circle cx="115.20" cy="94.62" r="0.92"/><circle cx="106.09" cy="96.49" r="0.92"/><circle cx="107.92" cy="79.76" r="0.92"/><circle cx="65.13" cy="79.75" r="0.92"/><circle cx="174.32" cy="115.28" r="0.92"/><circle cx="133.34" cy="100.51" r="0.92"/><circle cx="149.56" cy="112.83" r="0.92"/><circle cx="151.44" cy="99.66" r="0.92"/><circle cx="40.89" cy="56.60" r="0.92"/></g>
<polyline points="37.70,50.85 38.26,52.87 60.59,63.86 177.30,82.77" fill="none" stroke="#e8343c" stroke-width="1.1" stroke-linejoin="round" />
<polyline points="37.70,64.18 62.83,74.20 177.30,93.36" fill="none" stroke="#2db54e" stroke-width="1.3" stroke-linejoin="round" stroke-dasharray="2.2 1.4"/>
<polyline points="37.70,75.09 62.83,86.00 177.30,104.43" fill="none" stroke="#151515" stroke-width="1.3" stroke-linejoin="round" />
<polyline points="37.70,85.19 62.83,96.51 177.30,115.50" fill="none" stroke="#2db54e" stroke-width="1.3" stroke-linejoin="round" stroke-dasharray="2.2 1.4"/>
<polyline points="37.70,92.06 62.83,103.78 177.30,122.21" fill="none" stroke="#3a86cc" stroke-width="1.1" stroke-linejoin="round" />
<rect x="37.5" y="26.5" width="140.0" height="129.0" fill="none" stroke="#151515" stroke-width="1.1"/>
<line x1="35.70" y1="34.28" x2="37.70" y2="34.28" stroke="#1a1a1a" stroke-width="0.9" />
<line x1="35.70" y1="50.44" x2="37.70" y2="50.44" stroke="#1a1a1a" stroke-width="0.9" />
<line x1="35.70" y1="66.61" x2="37.70" y2="66.61" stroke="#1a1a1a" stroke-width="0.9" />
<line x1="35.70" y1="82.77" x2="37.70" y2="82.77" stroke="#1a1a1a" stroke-width="0.9" />
<line x1="35.70" y1="98.93" x2="37.70" y2="98.93" stroke="#1a1a1a" stroke-width="0.9" />
<line x1="35.70" y1="115.09" x2="37.70" y2="115.09" stroke="#1a1a1a" stroke-width="0.9" />
<line x1="35.70" y1="131.26" x2="37.70" y2="131.26" stroke="#1a1a1a" stroke-width="0.9" />
<line x1="35.70" y1="139.34" x2="37.70" y2="139.34" stroke="#1a1a1a" stroke-width="0.9" />
<line x1="35.70" y1="147.42" x2="37.70" y2="147.42" stroke="#1a1a1a" stroke-width="0.9" />
<line x1="34.90" y1="26.20" x2="37.70" y2="26.20" stroke="#1a1a1a" stroke-width="0.9" />
<text transform="translate(22.58,29.50) scale(0.9500,1)" font-size="8.30" fill="#1e1e1e" stroke="#1e1e1e" stroke-width="0.08">16</text>
<line x1="34.90" y1="42.36" x2="37.70" y2="42.36" stroke="#1a1a1a" stroke-width="0.9" />
<text transform="translate(22.46,45.66) scale(0.9500,1)" font-size="8.30" fill="#1e1e1e" stroke="#1e1e1e" stroke-width="0.08">14</text>
<line x1="34.90" y1="58.52" x2="37.70" y2="58.52" stroke="#1a1a1a" stroke-width="0.9" />
<text transform="translate(22.63,61.82) scale(0.9500,1)" font-size="8.30" fill="#1e1e1e" stroke="#1e1e1e" stroke-width="0.08">12</text>
<line x1="34.90" y1="74.69" x2="37.70" y2="74.69" stroke="#1a1a1a" stroke-width="0.9" />
<text transform="translate(22.54,77.99) scale(0.9500,1)" font-size="8.30" fill="#1e1e1e" stroke="#1e1e1e" stroke-width="0.08">10</text>
<line x1="34.90" y1="90.85" x2="37.70" y2="90.85" stroke="#1a1a1a" stroke-width="0.9" />
<text transform="translate(26.96,94.15) scale(0.9500,1)" font-size="8.30" fill="#1e1e1e" stroke="#1e1e1e" stroke-width="0.08">8</text>
<line x1="34.90" y1="107.01" x2="37.70" y2="107.01" stroke="#1a1a1a" stroke-width="0.9" />
<text transform="translate(26.96,110.31) scale(0.9500,1)" font-size="8.30" fill="#1e1e1e" stroke="#1e1e1e" stroke-width="0.08">6</text>
<line x1="34.90" y1="123.17" x2="37.70" y2="123.17" stroke="#1a1a1a" stroke-width="0.9" />
<text transform="translate(26.85,126.47) scale(0.9500,1)" font-size="8.30" fill="#1e1e1e" stroke="#1e1e1e" stroke-width="0.08">4</text>
<line x1="34.90" y1="155.50" x2="37.70" y2="155.50" stroke="#1a1a1a" stroke-width="0.9" />
<text transform="translate(26.92,158.80) scale(0.9500,1)" font-size="8.30" fill="#1e1e1e" stroke="#1e1e1e" stroke-width="0.08">0</text>
<line x1="37.70" y1="155.50" x2="37.70" y2="158.00" stroke="#1a1a1a" stroke-width="0.9" />
<line x1="44.68" y1="155.50" x2="44.68" y2="158.00" stroke="#1a1a1a" stroke-width="0.9" />
<line x1="51.66" y1="155.50" x2="51.66" y2="158.00" stroke="#1a1a1a" stroke-width="0.9" />
<line x1="58.64" y1="155.50" x2="58.64" y2="158.00" stroke="#1a1a1a" stroke-width="0.9" />
<line x1="65.62" y1="155.50" x2="65.62" y2="158.00" stroke="#1a1a1a" stroke-width="0.9" />
<line x1="72.60" y1="155.50" x2="72.60" y2="158.00" stroke="#1a1a1a" stroke-width="0.9" />
<line x1="79.58" y1="155.50" x2="79.58" y2="158.00" stroke="#1a1a1a" stroke-width="0.9" />
<line x1="86.56" y1="155.50" x2="86.56" y2="158.00" stroke="#1a1a1a" stroke-width="0.9" />
<line x1="93.54" y1="155.50" x2="93.54" y2="158.00" stroke="#1a1a1a" stroke-width="0.9" />
<line x1="100.52" y1="155.50" x2="100.52" y2="158.00" stroke="#1a1a1a" stroke-width="0.9" />
<line x1="107.50" y1="155.50" x2="107.50" y2="158.00" stroke="#1a1a1a" stroke-width="0.9" />
<line x1="114.48" y1="155.50" x2="114.48" y2="158.00" stroke="#1a1a1a" stroke-width="0.9" />
<line x1="121.46" y1="155.50" x2="121.46" y2="158.00" stroke="#1a1a1a" stroke-width="0.9" />
<line x1="128.44" y1="155.50" x2="128.44" y2="158.00" stroke="#1a1a1a" stroke-width="0.9" />
<line x1="135.42" y1="155.50" x2="135.42" y2="158.00" stroke="#1a1a1a" stroke-width="0.9" />
<line x1="142.40" y1="155.50" x2="142.40" y2="158.00" stroke="#1a1a1a" stroke-width="0.9" />
<line x1="149.38" y1="155.50" x2="149.38" y2="158.00" stroke="#1a1a1a" stroke-width="0.9" />
<line x1="156.36" y1="155.50" x2="156.36" y2="158.00" stroke="#1a1a1a" stroke-width="0.9" />
<line x1="163.34" y1="155.50" x2="163.34" y2="158.00" stroke="#1a1a1a" stroke-width="0.9" />
<line x1="170.32" y1="155.50" x2="170.32" y2="158.00" stroke="#1a1a1a" stroke-width="0.9" />
<line x1="177.30" y1="155.50" x2="177.30" y2="158.00" stroke="#1a1a1a" stroke-width="0.9" />
<text transform="translate(35.44,167.60) scale(0.9800,1)" font-size="8.30" fill="#1e1e1e" stroke="#1e1e1e" stroke-width="0.08">0</text>
<text transform="translate(61.05,167.60) scale(0.9800,1)" font-size="8.30" fill="#1e1e1e" stroke="#1e1e1e" stroke-width="0.08">20</text>
<text transform="translate(89.08,167.60) scale(0.9800,1)" font-size="8.30" fill="#1e1e1e" stroke="#1e1e1e" stroke-width="0.08">40</text>
<text transform="translate(116.89,167.60) scale(0.9800,1)" font-size="8.30" fill="#1e1e1e" stroke="#1e1e1e" stroke-width="0.08">60</text>
<text transform="translate(144.84,167.60) scale(0.9800,1)" font-size="8.30" fill="#1e1e1e" stroke="#1e1e1e" stroke-width="0.08">80</text>
<text transform="translate(170.36,167.60) scale(0.9800,1)" font-size="8.30" fill="#1e1e1e" stroke="#1e1e1e" stroke-width="0.08">100</text>
<polygon points="32.75,140.34 41.65,135.26 41.65,138.06 32.75,143.14" fill="#fff"/>
<line x1="32.75" y1="140.34" x2="41.65" y2="135.26" stroke="#222" stroke-width="1.0" />
<line x1="32.75" y1="143.14" x2="41.65" y2="138.06" stroke="#222" stroke-width="1.0" />
<text transform="translate(19.99,15.50) scale(1.0774,1)" font-size="11.48" font-weight="bold" fill="#000">A</text>
<text transform="translate(45.30,40.40) scale(0.9275,1)" font-size="10.74" fill="#1e1e1e" stroke="#1e1e1e" stroke-width="0.18">Gr</text>
<g fill="#333"><circle cx="57.30" cy="39.50" r="0.75"/></g>
<text transform="translate(98.68,36.60) scale(0.8700,1)" font-size="9.30" fill="#1e1e1e" stroke="#1e1e1e" stroke-width="0.14" letter-spacing="-0.100">0–1 yr</text>
<text transform="translate(131.00,36.60) scale(0.8700,1)" font-size="9.30" fill="#1e1e1e" stroke="#1e1e1e" stroke-width="0.14" letter-spacing="0.102">–485 bp/yr</text>
<text transform="translate(94.78,47.70) scale(0.8700,1)" font-size="9.30" fill="#1e1e1e" stroke="#1e1e1e" stroke-width="0.14" letter-spacing="-0.199">1–18 yr</text>
<text transform="translate(135.30,47.70) scale(0.8700,1)" font-size="9.30" fill="#1e1e1e" stroke="#1e1e1e" stroke-width="0.14" letter-spacing="0.144">–74 bp/yr</text>
<text transform="translate(85.68,58.80) scale(0.8700,1)" font-size="9.30" fill="#1e1e1e" stroke="#1e1e1e" stroke-width="0.14" letter-spacing="-0.135">18–102 yr</text>
<text transform="translate(135.30,58.80) scale(0.8700,1)" font-size="9.30" fill="#1e1e1e" stroke="#1e1e1e" stroke-width="0.14" letter-spacing="0.144">–28 bp/yr</text>
<rect x="224.20" y="128.00" width="138.20" height="27.60" fill="url(#gb)"/>
<rect x="224.20" y="131.00" width="1.2" height="24.60" fill="#bcd4f0" opacity="0.8"/>
<rect x="360.80" y="131.00" width="1.0" height="24.60" fill="#c4d8f0" opacity="0.7"/>
<g fill="#898d93"><circle cx="351.98" cy="117.78" r="0.92"/><circle cx="305.81" cy="112.60" r="0.92"/><circle cx="297.22" cy="106.95" r="0.92"/><circle cx="254.36" cy="94.89" r="0.92"/><circle cx="227.14" cy="85.48" r="0.92"/><circle cx="294.80" cy="115.15" r="0.92"/><circle cx="273.49" cy="101.40" r="0.92"/><circle cx="314.95" cy="120.80" r="0.92"/><circle cx="358.34" cy="120.64" r="0.92"/><circle cx="303.04" cy="116.38" r="0.92"/><circle cx="267.31" cy="123.07" r="0.92"/><circle cx="305.62" cy="109.35" r="0.92"/><circle cx="312.80" cy="109.94" r="0.92"/><circle cx="336.86" cy="111.98" r="0.92"/><circle cx="239.55" cy="81.72" r="0.92"/><circle cx="303.15" cy="109.27" r="0.92"/><circle cx="269.58" cy="105.33" r="0.92"/><circle cx="331.55" cy="110.77" r="0.92"/><circle cx="259.54" cy="98.06" r="0.92"/><circle cx="299.36" cy="122.22" r="0.92"/><circle cx="246.90" cy="106.91" r="0.92"/><circle cx="231.46" cy="72.21" r="0.92"/><circle cx="319.02" cy="111.85" r="0.92"/><circle cx="327.59" cy="119.57" r="0.92"/><circle cx="358.85" cy="120.25" r="0.92"/><circle cx="288.33" cy="105.34" r="0.92"/><circle cx="353.19" cy="119.41" r="0.92"/><circle cx="297.07" cy="106.49" r="0.92"/><circle cx="299.10" cy="109.83" r="0.92"/><circle cx="348.65" cy="112.68" r="0.92"/><circle cx="271.24" cy="99.26" r="0.92"/><circle cx="319.82" cy="116.58" r="0.92"/><circle cx="264.65" cy="106.64" r="0.92"/><circle cx="238.74" cy="95.47" r="0.92"/><circle cx="269.82" cy="101.72" r="0.92"/><circle cx="301.65" cy="109.45" r="0.92"/><circle cx="288.99" cy="99.87" r="0.92"/><circle cx="243.38" cy="87.55" r="0.92"/><circle cx="251.94" cy="97.56" r="0.92"/><circle cx="282.31" cy="94.52" r="0.92"/><circle cx="320.74" cy="116.71" r="0.92"/><circle cx="300.80" cy="117.17" r="0.92"/><circle cx="265.00" cy="92.35" r="0.92"/><circle cx="343.46" cy="111.63" r="0.92"/><circle cx="331.46" cy="119.94" r="0.92"/><circle cx="268.04" cy="106.92" r="0.92"/><circle cx="265.61" cy="106.63" r="0.92"/><circle cx="281.89" cy="101.27" r="0.92"/><circle cx="289.97" cy="108.13" r="0.92"/><circle cx="236.06" cy="83.61" r="0.92"/><circle cx="260.30" cy="105.29" r="0.92"/><circle cx="287.88" cy="107.61" r="0.92"/><circle cx="302.21" cy="107.28" r="0.92"/><circle cx="341.71" cy="121.56" r="0.92"/><circle cx="359.99" cy="110.50" r="0.92"/><circle cx="261.93" cy="99.63" r="0.92"/><circle cx="244.03" cy="87.15" r="0.92"/><circle cx="278.59" cy="100.34" r="0.92"/><circle cx="264.35" cy="87.52" r="0.92"/><circle cx="247.23" cy="103.50" r="0.92"/><circle cx="350.17" cy="111.01" r="0.92"/><circle cx="243.00" cy="94.13" r="0.92"/><circle cx="288.73" cy="117.34" r="0.92"/><circle cx="337.66" cy="121.57" r="0.92"/><circle cx="305.73" cy="109.15" r="0.92"/><circle cx="342.56" cy="115.96" r="0.92"/><circle cx="282.86" cy="112.18" r="0.92"/><circle cx="342.85" cy="123.27" r="0.92"/><circle cx="273.90" cy="105.35" r="0.92"/><circle cx="266.95" cy="117.66" r="0.92"/><circle cx="359.82" cy="117.13" r="0.92"/><circle cx="331.05" cy="111.41" r="0.92"/><circle cx="229.18" cy="85.34" r="0.92"/><circle cx="297.92" cy="119.77" r="0.92"/><circle cx="280.12" cy="111.32" r="0.92"/><circle cx="337.84" cy="111.11" r="0.92"/><circle cx="281.17" cy="109.96" r="0.92"/><circle cx="285.49" cy="98.64" r="0.92"/><circle cx="337.67" cy="109.55" r="0.92"/><circle cx="310.12" cy="113.36" r="0.92"/><circle cx="308.07" cy="102.37" r="0.92"/><circle cx="283.37" cy="108.84" r="0.92"/><circle cx="340.24" cy="119.12" r="0.92"/><circle cx="228.43" cy="80.96" r="0.92"/><circle cx="358.89" cy="123.47" r="0.92"/><circle cx="261.55" cy="111.42" r="0.92"/><circle cx="307.25" cy="123.92" r="0.92"/><circle cx="298.94" cy="113.58" r="0.92"/><circle cx="233.08" cy="80.42" r="0.92"/><circle cx="266.63" cy="96.48" r="0.92"/><circle cx="327.75" cy="119.19" r="0.92"/><circle cx="271.86" cy="105.31" r="0.92"/><circle cx="260.95" cy="110.19" r="0.92"/><circle cx="333.38" cy="115.92" r="0.92"/><circle cx="357.24" cy="116.77" r="0.92"/><circle cx="319.29" cy="115.06" r="0.92"/><circle cx="351.43" cy="122.31" r="0.92"/><circle cx="239.07" cy="89.37" r="0.92"/><circle cx="334.02" cy="115.15" r="0.92"/><circle cx="303.16" cy="110.84" r="0.92"/><circle cx="313.39" cy="109.16" r="0.92"/><circle cx="325.20" cy="95.60" r="0.92"/><circle cx="337.46" cy="116.58" r="0.92"/><circle cx="315.61" cy="110.70" r="0.92"/><circle cx="359.03" cy="113.51" r="0.92"/><circle cx="302.66" cy="120.10" r="0.92"/><circle cx="334.38" cy="109.36" r="0.92"/><circle cx="272.78" cy="96.19" r="0.92"/><circle cx="294.77" cy="119.29" r="0.92"/><circle cx="235.05" cy="81.30" r="0.92"/><circle cx="316.71" cy="110.97" r="0.92"/><circle cx="335.24" cy="120.27" r="0.92"/><circle cx="243.52" cy="111.02" r="0.92"/><circle cx="308.82" cy="119.99" r="0.92"/><circle cx="294.00" cy="116.33" r="0.92"/><circle cx="305.99" cy="112.09" r="0.92"/><circle cx="334.72" cy="117.35" r="0.92"/><circle cx="337.86" cy="108.76" r="0.92"/><circle cx="355.72" cy="115.38" r="0.92"/><circle cx="273.32" cy="99.48" r="0.92"/><circle cx="293.16" cy="108.24" r="0.92"/><circle cx="258.06" cy="104.68" r="0.92"/><circle cx="346.47" cy="114.53" r="0.92"/><circle cx="257.99" cy="88.67" r="0.92"/><circle cx="305.90" cy="109.36" r="0.92"/><circle cx="244.87" cy="107.16" r="0.92"/><circle cx="312.04" cy="114.11" r="0.92"/><circle cx="352.37" cy="119.20" r="0.92"/><circle cx="326.12" cy="113.83" r="0.92"/><circle cx="236.52" cy="95.83" r="0.92"/><circle cx="290.28" cy="115.56" r="0.92"/><circle cx="275.89" cy="100.06" r="0.92"/><circle cx="247.87" cy="98.10" r="0.92"/><circle cx="342.76" cy="118.50" r="0.92"/><circle cx="319.82" cy="115.94" r="0.92"/><circle cx="310.56" cy="122.47" r="0.92"/><circle cx="355.04" cy="117.31" r="0.92"/><circle cx="265.07" cy="104.77" r="0.92"/><circle cx="296.20" cy="114.81" r="0.92"/><circle cx="309.87" cy="118.26" r="0.92"/><circle cx="279.24" cy="110.99" r="0.92"/><circle cx="270.72" cy="107.98" r="0.92"/><circle cx="225.21" cy="80.89" r="0.92"/><circle cx="291.04" cy="105.74" r="0.92"/><circle cx="261.80" cy="123.23" r="0.92"/><circle cx="308.26" cy="104.97" r="0.92"/><circle cx="346.61" cy="119.38" r="0.92"/><circle cx="236.70" cy="91.66" r="0.92"/><circle cx="352.25" cy="124.30" r="0.92"/><circle cx="319.02" cy="110.02" r="0.92"/><circle cx="325.00" cy="115.02" r="0.92"/><circle cx="325.21" cy="122.63" r="0.92"/><circle cx="341.59" cy="122.24" r="0.92"/><circle cx="275.74" cy="104.45" r="0.92"/><circle cx="232.26" cy="92.90" r="0.92"/><circle cx="239.79" cy="88.25" r="0.92"/><circle cx="237.73" cy="95.48" r="0.92"/><circle cx="269.84" cy="104.22" r="0.92"/><circle cx="325.41" cy="121.55" r="0.92"/><circle cx="341.84" cy="109.52" r="0.92"/><circle cx="262.84" cy="108.74" r="0.92"/><circle cx="330.81" cy="117.22" r="0.92"/><circle cx="350.40" cy="118.09" r="0.92"/><circle cx="284.63" cy="100.12" r="0.92"/><circle cx="250.27" cy="112.31" r="0.92"/><circle cx="345.49" cy="104.06" r="0.92"/><circle cx="305.15" cy="98.94" r="0.92"/><circle cx="335.55" cy="120.43" r="0.92"/><circle cx="308.64" cy="112.06" r="0.92"/><circle cx="333.27" cy="112.85" r="0.92"/><circle cx="357.21" cy="115.82" r="0.92"/><circle cx="254.92" cy="90.69" r="0.92"/><circle cx="312.13" cy="111.40" r="0.92"/><circle cx="248.22" cy="97.18" r="0.92"/><circle cx="323.60" cy="116.51" r="0.92"/><circle cx="275.22" cy="98.85" r="0.92"/><circle cx="268.91" cy="102.91" r="0.92"/><circle cx="310.89" cy="105.42" r="0.92"/><circle cx="330.79" cy="119.41" r="0.92"/><circle cx="236.71" cy="85.28" r="0.92"/><circle cx="243.06" cy="90.29" r="0.92"/><circle cx="336.12" cy="116.45" r="0.92"/><circle cx="229.99" cy="75.31" r="0.92"/><circle cx="310.37" cy="111.53" r="0.92"/><circle cx="228.28" cy="73.49" r="0.92"/><circle cx="291.28" cy="101.64" r="0.92"/><circle cx="254.79" cy="91.20" r="0.92"/><circle cx="349.26" cy="110.77" r="0.92"/><circle cx="303.04" cy="115.00" r="0.92"/><circle cx="348.89" cy="113.02" r="0.92"/><circle cx="254.78" cy="97.15" r="0.92"/><circle cx="238.99" cy="95.79" r="0.92"/><circle cx="260.68" cy="103.20" r="0.92"/><circle cx="236.87" cy="88.49" r="0.92"/><circle cx="335.61" cy="117.59" r="0.92"/><circle cx="324.89" cy="115.44" r="0.92"/><circle cx="259.63" cy="116.53" r="0.92"/><circle cx="270.92" cy="103.64" r="0.92"/><circle cx="348.79" cy="122.73" r="0.92"/><circle cx="356.46" cy="115.22" r="0.92"/><circle cx="227.09" cy="71.35" r="0.92"/><circle cx="298.11" cy="108.36" r="0.92"/><circle cx="287.42" cy="101.76" r="0.92"/><circle cx="304.32" cy="111.46" r="0.92"/><circle cx="335.12" cy="120.50" r="0.92"/><circle cx="336.64" cy="119.22" r="0.92"/><circle cx="287.29" cy="108.08" r="0.92"/><circle cx="342.44" cy="109.16" r="0.92"/><circle cx="318.09" cy="112.54" r="0.92"/><circle cx="302.41" cy="111.13" r="0.92"/><circle cx="346.14" cy="117.54" r="0.92"/><circle cx="228.70" cy="78.66" r="0.92"/><circle cx="332.34" cy="114.74" r="0.92"/><circle cx="250.81" cy="92.69" r="0.92"/><circle cx="271.36" cy="106.10" r="0.92"/><circle cx="269.67" cy="108.45" r="0.92"/><circle cx="354.33" cy="121.96" r="0.92"/><circle cx="267.39" cy="99.02" r="0.92"/><circle cx="337.47" cy="118.31" r="0.92"/><circle cx="303.03" cy="116.91" r="0.92"/><circle cx="307.33" cy="115.95" r="0.92"/><circle cx="332.45" cy="120.25" r="0.92"/><circle cx="280.28" cy="105.66" r="0.92"/><circle cx="240.78" cy="92.30" r="0.92"/><circle cx="236.44" cy="84.61" r="0.92"/><circle cx="310.01" cy="106.31" r="0.92"/><circle cx="283.74" cy="107.62" r="0.92"/><circle cx="336.17" cy="123.85" r="0.92"/><circle cx="329.24" cy="108.95" r="0.92"/><circle cx="244.55" cy="98.48" r="0.92"/><circle cx="239.83" cy="88.03" r="0.92"/><circle cx="243.33" cy="85.37" r="0.92"/><circle cx="310.43" cy="109.59" r="0.92"/><circle cx="355.49" cy="120.46" r="0.92"/><circle cx="261.58" cy="93.79" r="0.92"/><circle cx="305.70" cy="109.77" r="0.92"/><circle cx="327.49" cy="115.71" r="0.92"/><circle cx="256.33" cy="98.53" r="0.92"/><circle cx="291.66" cy="102.10" r="0.92"/><circle cx="273.79" cy="111.64" r="0.92"/><circle cx="234.81" cy="80.15" r="0.92"/><circle cx="272.75" cy="110.87" r="0.92"/><circle cx="328.82" cy="116.34" r="0.92"/><circle cx="314.66" cy="103.38" r="0.92"/><circle cx="294.84" cy="109.68" r="0.92"/><circle cx="303.92" cy="114.79" r="0.92"/><circle cx="309.34" cy="105.99" r="0.92"/><circle cx="333.25" cy="116.29" r="0.92"/><circle cx="275.49" cy="104.55" r="0.92"/><circle cx="284.62" cy="100.97" r="0.92"/><circle cx="294.19" cy="113.19" r="0.92"/><circle cx="296.54" cy="115.22" r="0.92"/><circle cx="343.92" cy="122.11" r="0.92"/><circle cx="279.43" cy="112.15" r="0.92"/><circle cx="317.86" cy="109.32" r="0.92"/><circle cx="231.12" cy="80.64" r="0.92"/><circle cx="273.53" cy="108.81" r="0.92"/><circle cx="256.02" cy="100.36" r="0.92"/><circle cx="263.98" cy="113.50" r="0.92"/><circle cx="232.12" cy="84.56" r="0.92"/><circle cx="285.83" cy="111.15" r="0.92"/><circle cx="338.19" cy="113.21" r="0.92"/><circle cx="333.39" cy="115.26" r="0.92"/><circle cx="348.57" cy="103.20" r="0.92"/><circle cx="280.76" cy="109.48" r="0.92"/><circle cx="297.97" cy="105.14" r="0.92"/><circle cx="243.98" cy="85.66" r="0.92"/><circle cx="235.92" cy="90.34" r="0.92"/><circle cx="288.78" cy="105.95" r="0.92"/><circle cx="226.21" cy="82.01" r="0.92"/><circle cx="298.76" cy="105.26" r="0.92"/><circle cx="231.25" cy="79.84" r="0.92"/><circle cx="315.15" cy="113.57" r="0.92"/><circle cx="258.18" cy="102.37" r="0.92"/><circle cx="286.59" cy="97.43" r="0.92"/><circle cx="255.60" cy="100.70" r="0.92"/><circle cx="341.76" cy="112.50" r="0.92"/><circle cx="344.63" cy="122.58" r="0.92"/><circle cx="278.40" cy="103.30" r="0.92"/><circle cx="242.51" cy="107.68" r="0.92"/><circle cx="247.64" cy="95.84" r="0.92"/><circle cx="265.55" cy="101.53" r="0.92"/><circle cx="349.17" cy="118.88" r="0.92"/><circle cx="268.32" cy="109.36" r="0.92"/><circle cx="255.98" cy="105.99" r="0.92"/><circle cx="230.78" cy="68.15" r="0.92"/><circle cx="255.87" cy="94.26" r="0.92"/><circle cx="324.25" cy="112.75" r="0.92"/><circle cx="243.60" cy="80.96" r="0.92"/><circle cx="337.18" cy="115.27" r="0.92"/><circle cx="343.75" cy="123.12" r="0.92"/><circle cx="304.83" cy="115.76" r="0.92"/><circle cx="342.24" cy="120.09" r="0.92"/><circle cx="231.83" cy="86.62" r="0.92"/><circle cx="273.17" cy="94.88" r="0.92"/><circle cx="245.26" cy="98.07" r="0.92"/><circle cx="290.70" cy="108.80" r="0.92"/><circle cx="354.73" cy="115.40" r="0.92"/><circle cx="300.10" cy="109.84" r="0.92"/><circle cx="332.29" cy="119.92" r="0.92"/><circle cx="244.57" cy="84.13" r="0.92"/><circle cx="349.00" cy="119.92" r="0.92"/><circle cx="311.96" cy="112.89" r="0.92"/><circle cx="273.29" cy="112.41" r="0.92"/><circle cx="293.18" cy="106.39" r="0.92"/><circle cx="262.53" cy="105.28" r="0.92"/><circle cx="253.06" cy="107.98" r="0.92"/><circle cx="314.15" cy="109.77" r="0.92"/><circle cx="230.69" cy="79.73" r="0.92"/><circle cx="287.07" cy="103.68" r="0.92"/><circle cx="225.66" cy="73.31" r="0.92"/><circle cx="341.38" cy="109.33" r="0.92"/><circle cx="303.54" cy="113.63" r="0.92"/><circle cx="317.26" cy="106.73" r="0.92"/><circle cx="345.27" cy="106.10" r="0.92"/><circle cx="252.43" cy="94.29" r="0.92"/><circle cx="294.33" cy="116.72" r="0.92"/><circle cx="264.40" cy="92.04" r="0.92"/><circle cx="246.13" cy="91.81" r="0.92"/><circle cx="226.55" cy="73.06" r="0.92"/><circle cx="335.76" cy="122.08" r="0.92"/><circle cx="336.04" cy="108.23" r="0.92"/><circle cx="309.85" cy="114.10" r="0.92"/><circle cx="259.25" cy="97.07" r="0.92"/><circle cx="294.89" cy="107.95" r="0.92"/><circle cx="227.12" cy="78.59" r="0.92"/><circle cx="245.35" cy="94.24" r="0.92"/><circle cx="313.02" cy="119.44" r="0.92"/><circle cx="234.03" cy="87.09" r="0.92"/><circle cx="266.76" cy="107.01" r="0.92"/><circle cx="321.58" cy="118.63" r="0.92"/><circle cx="299.40" cy="105.78" r="0.92"/><circle cx="244.01" cy="92.49" r="0.92"/><circle cx="248.21" cy="101.49" r="0.92"/><circle cx="310.23" cy="113.97" r="0.92"/><circle cx="312.60" cy="111.71" r="0.92"/><circle cx="284.92" cy="113.19" r="0.92"/><circle cx="272.60" cy="104.48" r="0.92"/><circle cx="309.41" cy="111.23" r="0.92"/><circle cx="278.48" cy="105.38" r="0.92"/><circle cx="306.74" cy="118.18" r="0.92"/><circle cx="358.68" cy="121.27" r="0.92"/><circle cx="260.05" cy="104.73" r="0.92"/><circle cx="257.23" cy="105.57" r="0.92"/><circle cx="297.15" cy="105.66" r="0.92"/><circle cx="264.80" cy="105.80" r="0.92"/><circle cx="287.03" cy="102.01" r="0.92"/><circle cx="248.54" cy="85.46" r="0.92"/><circle cx="320.63" cy="112.56" r="0.92"/><circle cx="251.54" cy="99.61" r="0.92"/><circle cx="228.09" cy="70.18" r="0.92"/><circle cx="335.34" cy="115.45" r="0.92"/><circle cx="336.74" cy="115.62" r="0.92"/><circle cx="332.84" cy="116.19" r="0.92"/><circle cx="247.45" cy="97.45" r="0.92"/><circle cx="295.52" cy="110.39" r="0.92"/><circle cx="352.14" cy="119.59" r="0.92"/><circle cx="304.87" cy="105.56" r="0.92"/><circle cx="298.45" cy="114.22" r="0.92"/><circle cx="244.26" cy="100.41" r="0.92"/><circle cx="244.30" cy="100.42" r="0.92"/><circle cx="264.41" cy="93.79" r="0.92"/><circle cx="280.01" cy="105.77" r="0.92"/><circle cx="288.70" cy="102.95" r="0.92"/><circle cx="237.46" cy="88.35" r="0.92"/><circle cx="326.68" cy="115.40" r="0.92"/><circle cx="320.36" cy="112.02" r="0.92"/><circle cx="226.39" cy="94.00" r="0.92"/><circle cx="298.35" cy="115.57" r="0.92"/><circle cx="237.96" cy="78.56" r="0.92"/><circle cx="264.29" cy="105.51" r="0.92"/><circle cx="357.99" cy="124.04" r="0.92"/><circle cx="247.10" cy="91.68" r="0.92"/><circle cx="233.65" cy="85.62" r="0.92"/><circle cx="328.44" cy="114.18" r="0.92"/><circle cx="245.85" cy="93.07" r="0.92"/><circle cx="261.57" cy="106.34" r="0.92"/><circle cx="272.62" cy="103.21" r="0.92"/><circle cx="261.47" cy="113.60" r="0.92"/><circle cx="330.81" cy="114.88" r="0.92"/><circle cx="250.95" cy="102.20" r="0.92"/><circle cx="241.75" cy="104.33" r="0.92"/><circle cx="288.12" cy="107.73" r="0.92"/><circle cx="319.00" cy="103.95" r="0.92"/><circle cx="292.62" cy="111.77" r="0.92"/><circle cx="264.54" cy="93.44" r="0.92"/><circle cx="241.50" cy="96.62" r="0.92"/><circle cx="282.20" cy="100.98" r="0.92"/><circle cx="320.63" cy="114.71" r="0.92"/><circle cx="349.12" cy="118.39" r="0.92"/><circle cx="323.53" cy="122.51" r="0.92"/><circle cx="277.84" cy="112.76" r="0.92"/><circle cx="305.92" cy="117.74" r="0.92"/><circle cx="291.50" cy="112.25" r="0.92"/><circle cx="232.70" cy="77.78" r="0.92"/><circle cx="245.29" cy="120.66" r="0.92"/><circle cx="279.28" cy="94.20" r="0.92"/><circle cx="319.20" cy="122.55" r="0.92"/><circle cx="355.94" cy="112.96" r="0.92"/><circle cx="296.51" cy="117.26" r="0.92"/><circle cx="236.70" cy="95.55" r="0.92"/><circle cx="286.81" cy="114.75" r="0.92"/><circle cx="253.84" cy="100.06" r="0.92"/><circle cx="290.17" cy="112.06" r="0.92"/><circle cx="301.29" cy="112.09" r="0.92"/><circle cx="249.35" cy="99.05" r="0.92"/><circle cx="284.09" cy="122.46" r="0.92"/><circle cx="319.42" cy="102.53" r="0.92"/><circle cx="278.66" cy="114.85" r="0.92"/><circle cx="256.36" cy="94.19" r="0.92"/><circle cx="338.85" cy="124.34" r="0.92"/><circle cx="265.36" cy="103.21" r="0.92"/><circle cx="279.95" cy="123.07" r="0.92"/><circle cx="300.21" cy="113.26" r="0.92"/><circle cx="307.67" cy="114.80" r="0.92"/><circle cx="228.21" cy="65.90" r="0.92"/><circle cx="255.13" cy="98.99" r="0.92"/><circle cx="266.35" cy="108.48" r="0.92"/><circle cx="248.73" cy="91.99" r="0.92"/><circle cx="260.70" cy="97.38" r="0.92"/><circle cx="356.54" cy="124.21" r="0.92"/><circle cx="243.44" cy="94.18" r="0.92"/><circle cx="265.95" cy="97.84" r="0.92"/><circle cx="305.05" cy="112.52" r="0.92"/><circle cx="260.78" cy="99.42" r="0.92"/><circle cx="263.52" cy="101.78" r="0.92"/><circle cx="258.25" cy="100.96" r="0.92"/><circle cx="266.76" cy="103.64" r="0.92"/><circle cx="257.17" cy="110.82" r="0.92"/><circle cx="273.73" cy="111.50" r="0.92"/><circle cx="303.91" cy="102.61" r="0.92"/><circle cx="247.64" cy="100.87" r="0.92"/><circle cx="352.05" cy="107.78" r="0.92"/><circle cx="233.77" cy="83.84" r="0.92"/><circle cx="281.43" cy="108.89" r="0.92"/><circle cx="292.51" cy="90.84" r="0.92"/><circle cx="293.48" cy="110.44" r="0.92"/><circle cx="317.16" cy="112.94" r="0.92"/><circle cx="247.03" cy="100.32" r="0.92"/><circle cx="295.48" cy="118.40" r="0.92"/><circle cx="258.61" cy="109.25" r="0.92"/><circle cx="263.81" cy="113.47" r="0.92"/><circle cx="330.79" cy="116.01" r="0.92"/><circle cx="325.93" cy="122.37" r="0.92"/><circle cx="289.01" cy="108.25" r="0.92"/><circle cx="252.91" cy="97.94" r="0.92"/><circle cx="281.62" cy="110.08" r="0.92"/><circle cx="264.80" cy="103.52" r="0.92"/><circle cx="295.36" cy="111.59" r="0.92"/><circle cx="274.37" cy="114.33" r="0.92"/><circle cx="317.67" cy="116.75" r="0.92"/><circle cx="295.52" cy="110.44" r="0.92"/><circle cx="332.96" cy="117.87" r="0.92"/><circle cx="258.59" cy="101.58" r="0.92"/><circle cx="305.03" cy="111.75" r="0.92"/><circle cx="271.28" cy="101.84" r="0.92"/><circle cx="225.27" cy="76.24" r="0.92"/><circle cx="234.21" cy="101.48" r="0.92"/><circle cx="247.05" cy="112.51" r="0.92"/><circle cx="357.32" cy="116.68" r="0.92"/><circle cx="230.91" cy="77.66" r="0.92"/><circle cx="339.37" cy="111.43" r="0.92"/><circle cx="293.60" cy="103.48" r="0.92"/><circle cx="249.20" cy="94.78" r="0.92"/><circle cx="236.05" cy="71.97" r="0.92"/><circle cx="342.30" cy="124.18" r="0.92"/><circle cx="290.12" cy="99.92" r="0.92"/><circle cx="337.27" cy="118.66" r="0.92"/><circle cx="262.25" cy="97.87" r="0.92"/><circle cx="296.82" cy="112.94" r="0.92"/><circle cx="295.81" cy="112.16" r="0.92"/><circle cx="310.54" cy="108.62" r="0.92"/><circle cx="294.51" cy="109.21" r="0.92"/><circle cx="246.05" cy="97.62" r="0.92"/><circle cx="321.15" cy="106.16" r="0.92"/><circle cx="287.84" cy="123.47" r="0.92"/><circle cx="346.78" cy="108.64" r="0.92"/><circle cx="270.96" cy="93.90" r="0.92"/><circle cx="230.10" cy="95.41" r="0.92"/><circle cx="279.18" cy="111.81" r="0.92"/><circle cx="274.77" cy="115.03" r="0.92"/><circle cx="308.15" cy="112.76" r="0.92"/><circle cx="280.96" cy="109.27" r="0.92"/><circle cx="249.30" cy="117.91" r="0.92"/><circle cx="251.93" cy="92.30" r="0.92"/><circle cx="308.33" cy="120.21" r="0.92"/><circle cx="333.37" cy="107.41" r="0.92"/><circle cx="310.58" cy="110.89" r="0.92"/><circle cx="231.61" cy="78.65" r="0.92"/><circle cx="308.79" cy="117.31" r="0.92"/><circle cx="339.92" cy="122.16" r="0.92"/><circle cx="264.98" cy="106.73" r="0.92"/><circle cx="287.07" cy="95.44" r="0.92"/><circle cx="291.09" cy="109.39" r="0.92"/><circle cx="290.18" cy="109.09" r="0.92"/><circle cx="290.73" cy="112.73" r="0.92"/><circle cx="281.33" cy="101.89" r="0.92"/><circle cx="248.51" cy="89.57" r="0.92"/><circle cx="269.08" cy="107.54" r="0.92"/><circle cx="253.21" cy="100.48" r="0.92"/><circle cx="337.70" cy="116.11" r="0.92"/><circle cx="235.60" cy="77.65" r="0.92"/><circle cx="340.08" cy="120.16" r="0.92"/><circle cx="305.81" cy="114.25" r="0.92"/><circle cx="280.13" cy="117.22" r="0.92"/><circle cx="281.23" cy="103.96" r="0.92"/><circle cx="299.00" cy="114.73" r="0.92"/><circle cx="325.53" cy="117.25" r="0.92"/><circle cx="261.03" cy="102.12" r="0.92"/><circle cx="248.45" cy="99.00" r="0.92"/><circle cx="282.15" cy="105.63" r="0.92"/><circle cx="232.79" cy="100.52" r="0.92"/><circle cx="324.93" cy="108.05" r="0.92"/><circle cx="269.35" cy="120.33" r="0.92"/><circle cx="230.18" cy="72.04" r="0.92"/><circle cx="268.87" cy="107.09" r="0.92"/><circle cx="261.17" cy="100.09" r="0.92"/><circle cx="345.37" cy="122.15" r="0.92"/><circle cx="294.43" cy="109.61" r="0.92"/><circle cx="299.79" cy="105.46" r="0.92"/><circle cx="260.69" cy="103.96" r="0.92"/><circle cx="354.55" cy="124.18" r="0.92"/><circle cx="337.60" cy="111.76" r="0.92"/><circle cx="305.15" cy="111.03" r="0.92"/><circle cx="247.91" cy="99.54" r="0.92"/><circle cx="351.72" cy="123.33" r="0.92"/><circle cx="273.61" cy="110.40" r="0.92"/><circle cx="332.11" cy="116.19" r="0.92"/><circle cx="284.80" cy="100.15" r="0.92"/><circle cx="344.65" cy="122.47" r="0.92"/><circle cx="239.28" cy="108.12" r="0.92"/><circle cx="226.68" cy="83.05" r="0.92"/><circle cx="346.25" cy="119.51" r="0.92"/><circle cx="319.21" cy="116.12" r="0.92"/><circle cx="269.96" cy="96.71" r="0.92"/><circle cx="314.35" cy="121.59" r="0.92"/><circle cx="259.07" cy="84.39" r="0.92"/><circle cx="276.76" cy="116.28" r="0.92"/><circle cx="344.33" cy="111.13" r="0.92"/><circle cx="245.75" cy="90.25" r="0.92"/><circle cx="239.84" cy="90.05" r="0.92"/><circle cx="329.08" cy="121.42" r="0.92"/><circle cx="295.03" cy="99.80" r="0.92"/><circle cx="321.82" cy="103.17" r="0.92"/><circle cx="225.22" cy="84.27" r="0.92"/><circle cx="286.42" cy="123.71" r="0.92"/><circle cx="227.20" cy="79.91" r="0.92"/><circle cx="330.05" cy="111.50" r="0.92"/><circle cx="315.16" cy="117.42" r="0.92"/><circle cx="226.14" cy="83.15" r="0.92"/><circle cx="320.93" cy="106.22" r="0.92"/><circle cx="249.94" cy="94.08" r="0.92"/><circle cx="270.34" cy="115.89" r="0.92"/><circle cx="314.33" cy="113.00" r="0.92"/><circle cx="333.41" cy="115.38" r="0.92"/><circle cx="267.48" cy="98.38" r="0.92"/><circle cx="240.39" cy="99.34" r="0.92"/><circle cx="314.99" cy="120.37" r="0.92"/><circle cx="285.69" cy="106.55" r="0.92"/><circle cx="357.73" cy="117.91" r="0.92"/><circle cx="311.75" cy="118.96" r="0.92"/><circle cx="229.35" cy="79.74" r="0.92"/><circle cx="282.96" cy="92.69" r="0.92"/><circle cx="225.90" cy="83.74" r="0.92"/><circle cx="268.16" cy="97.47" r="0.92"/><circle cx="315.34" cy="112.77" r="0.92"/><circle cx="270.86" cy="103.20" r="0.92"/><circle cx="226.60" cy="79.32" r="0.92"/><circle cx="337.78" cy="108.74" r="0.92"/><circle cx="334.84" cy="122.08" r="0.92"/><circle cx="313.84" cy="109.06" r="0.92"/><circle cx="283.00" cy="115.09" r="0.92"/><circle cx="235.22" cy="72.90" r="0.92"/><circle cx="317.04" cy="107.37" r="0.92"/><circle cx="312.37" cy="119.00" r="0.92"/><circle cx="236.68" cy="89.89" r="0.92"/><circle cx="247.18" cy="103.38" r="0.92"/><circle cx="280.55" cy="97.77" r="0.92"/><circle cx="304.80" cy="106.19" r="0.92"/><circle cx="286.57" cy="97.25" r="0.92"/><circle cx="227.65" cy="78.05" r="0.92"/><circle cx="247.83" cy="92.21" r="0.92"/><circle cx="331.77" cy="112.91" r="0.92"/><circle cx="345.03" cy="118.80" r="0.92"/><circle cx="268.64" cy="105.43" r="0.92"/><circle cx="269.48" cy="94.48" r="0.92"/><circle cx="310.95" cy="113.10" r="0.92"/><circle cx="262.55" cy="100.44" r="0.92"/><circle cx="270.77" cy="107.89" r="0.92"/><circle cx="346.17" cy="123.91" r="0.92"/><circle cx="290.77" cy="102.37" r="0.92"/><circle cx="316.79" cy="111.05" r="0.92"/><circle cx="284.82" cy="95.87" r="0.92"/><circle cx="259.94" cy="109.44" r="0.92"/><circle cx="224.96" cy="88.22" r="0.92"/><circle cx="321.02" cy="109.06" r="0.92"/><circle cx="286.39" cy="104.13" r="0.92"/><circle cx="272.82" cy="101.71" r="0.92"/><circle cx="337.68" cy="114.71" r="0.92"/><circle cx="348.54" cy="120.10" r="0.92"/><circle cx="228.35" cy="80.64" r="0.92"/><circle cx="284.21" cy="103.96" r="0.92"/><circle cx="357.69" cy="121.97" r="0.92"/><circle cx="242.37" cy="92.82" r="0.92"/><circle cx="315.00" cy="111.08" r="0.92"/><circle cx="315.77" cy="115.61" r="0.92"/><circle cx="308.64" cy="120.82" r="0.92"/><circle cx="343.19" cy="123.96" r="0.92"/><circle cx="236.72" cy="82.21" r="0.92"/><circle cx="256.79" cy="100.52" r="0.92"/><circle cx="347.26" cy="117.86" r="0.92"/><circle cx="233.57" cy="82.91" r="0.92"/><circle cx="305.75" cy="117.34" r="0.92"/><circle cx="334.34" cy="117.28" r="0.92"/><circle cx="339.59" cy="121.55" r="0.92"/><circle cx="361.14" cy="121.51" r="0.92"/><circle cx="311.05" cy="111.21" r="0.92"/><circle cx="333.07" cy="114.35" r="0.92"/><circle cx="246.16" cy="103.91" r="0.92"/><circle cx="341.68" cy="123.27" r="0.92"/><circle cx="249.87" cy="104.51" r="0.92"/><circle cx="243.28" cy="92.83" r="0.92"/><circle cx="240.95" cy="96.66" r="0.92"/><circle cx="248.47" cy="100.25" r="0.92"/><circle cx="248.67" cy="94.82" r="0.92"/><circle cx="244.25" cy="95.57" r="0.92"/><circle cx="291.08" cy="119.27" r="0.92"/><circle cx="231.83" cy="80.01" r="0.92"/><circle cx="231.90" cy="81.23" r="0.92"/><circle cx="232.11" cy="88.75" r="0.92"/><circle cx="225.47" cy="73.94" r="0.92"/><circle cx="338.05" cy="110.31" r="0.92"/><circle cx="351.26" cy="116.75" r="0.92"/><circle cx="277.88" cy="102.90" r="0.92"/><circle cx="343.73" cy="112.37" r="0.92"/><circle cx="228.55" cy="90.28" r="0.92"/><circle cx="262.73" cy="102.28" r="0.92"/><circle cx="234.48" cy="94.84" r="0.92"/><circle cx="298.21" cy="110.77" r="0.92"/><circle cx="344.38" cy="108.51" r="0.92"/><circle cx="237.03" cy="72.10" r="0.92"/><circle cx="336.87" cy="104.12" r="0.92"/><circle cx="311.93" cy="116.75" r="0.92"/><circle cx="332.56" cy="101.12" r="0.92"/><circle cx="249.62" cy="100.66" r="0.92"/><circle cx="225.99" cy="78.72" r="0.92"/><circle cx="318.14" cy="108.52" r="0.92"/><circle cx="258.28" cy="105.06" r="0.92"/><circle cx="314.11" cy="111.08" r="0.92"/><circle cx="311.38" cy="113.90" r="0.92"/><circle cx="235.58" cy="87.40" r="0.92"/><circle cx="358.45" cy="116.44" r="0.92"/><circle cx="290.95" cy="99.99" r="0.92"/><circle cx="232.72" cy="49.00" r="0.92"/><circle cx="268.27" cy="112.83" r="0.92"/><circle cx="303.52" cy="114.16" r="0.92"/><circle cx="359.43" cy="120.13" r="0.92"/><circle cx="293.03" cy="99.36" r="0.92"/><circle cx="228.99" cy="83.98" r="0.92"/><circle cx="241.46" cy="61.99" r="0.92"/><circle cx="280.40" cy="102.75" r="0.92"/><circle cx="259.93" cy="99.61" r="0.92"/><circle cx="343.82" cy="118.76" r="0.92"/><circle cx="290.03" cy="115.73" r="0.92"/><circle cx="241.24" cy="97.33" r="0.92"/><circle cx="251.88" cy="96.53" r="0.92"/><circle cx="304.86" cy="109.41" r="0.92"/><circle cx="356.00" cy="123.83" r="0.92"/><circle cx="293.52" cy="104.43" r="0.92"/><circle cx="273.46" cy="102.44" r="0.92"/><circle cx="346.28" cy="103.91" r="0.92"/><circle cx="323.56" cy="120.75" r="0.92"/><circle cx="313.74" cy="111.64" r="0.92"/><circle cx="284.76" cy="97.14" r="0.92"/><circle cx="317.51" cy="113.63" r="0.92"/><circle cx="280.43" cy="102.47" r="0.92"/><circle cx="235.86" cy="93.36" r="0.92"/><circle cx="342.89" cy="119.33" r="0.92"/><circle cx="267.75" cy="114.50" r="0.92"/><circle cx="238.01" cy="87.26" r="0.92"/><circle cx="299.47" cy="117.12" r="0.92"/><circle cx="334.58" cy="114.99" r="0.92"/><circle cx="359.91" cy="117.85" r="0.92"/><circle cx="321.69" cy="110.00" r="0.92"/><circle cx="278.59" cy="115.77" r="0.92"/><circle cx="357.83" cy="108.33" r="0.92"/><circle cx="273.75" cy="106.13" r="0.92"/><circle cx="265.79" cy="100.53" r="0.92"/><circle cx="290.63" cy="100.08" r="0.92"/><circle cx="286.24" cy="111.22" r="0.92"/><circle cx="333.74" cy="121.56" r="0.92"/><circle cx="326.44" cy="111.96" r="0.92"/><circle cx="271.76" cy="103.74" r="0.92"/><circle cx="323.27" cy="113.01" r="0.92"/><circle cx="302.83" cy="115.76" r="0.92"/><circle cx="237.17" cy="86.28" r="0.92"/><circle cx="342.26" cy="116.17" r="0.92"/><circle cx="325.49" cy="119.11" r="0.92"/><circle cx="271.83" cy="95.98" r="0.92"/><circle cx="267.74" cy="102.66" r="0.92"/><circle cx="255.41" cy="94.62" r="0.92"/><circle cx="253.10" cy="102.45" r="0.92"/><circle cx="346.29" cy="124.55" r="0.92"/><circle cx="302.08" cy="101.35" r="0.92"/><circle cx="257.27" cy="88.52" r="0.92"/><circle cx="253.96" cy="102.39" r="0.92"/><circle cx="257.70" cy="95.33" r="0.92"/><circle cx="264.68" cy="110.46" r="0.92"/><circle cx="244.61" cy="93.66" r="0.92"/><circle cx="257.43" cy="100.29" r="0.92"/><circle cx="316.01" cy="121.51" r="0.92"/><circle cx="238.36" cy="85.28" r="0.92"/><circle cx="235.57" cy="86.04" r="0.92"/><circle cx="307.21" cy="118.82" r="0.92"/><circle cx="244.75" cy="103.46" r="0.92"/><circle cx="333.98" cy="99.07" r="0.92"/><circle cx="248.49" cy="102.21" r="0.92"/><circle cx="290.30" cy="105.86" r="0.92"/><circle cx="264.86" cy="98.74" r="0.92"/><circle cx="291.43" cy="107.46" r="0.92"/><circle cx="322.63" cy="114.61" r="0.92"/><circle cx="345.17" cy="110.20" r="0.92"/><circle cx="350.10" cy="121.79" r="0.92"/><circle cx="239.23" cy="83.69" r="0.92"/><circle cx="238.22" cy="99.39" r="0.92"/><circle cx="357.46" cy="116.28" r="0.92"/><circle cx="337.67" cy="122.41" r="0.92"/><circle cx="328.37" cy="109.88" r="0.92"/><circle cx="354.16" cy="117.05" r="0.92"/><circle cx="292.48" cy="109.99" r="0.92"/><circle cx="264.90" cy="109.06" r="0.92"/><circle cx="259.84" cy="102.15" r="0.92"/><circle cx="277.91" cy="99.18" r="0.92"/><circle cx="317.38" cy="111.09" r="0.92"/><circle cx="348.16" cy="117.54" r="0.92"/><circle cx="336.17" cy="115.59" r="0.92"/><circle cx="232.25" cy="85.56" r="0.92"/><circle cx="303.16" cy="104.72" r="0.92"/><circle cx="346.29" cy="124.86" r="0.92"/><circle cx="299.80" cy="116.59" r="0.92"/><circle cx="265.14" cy="114.41" r="0.92"/><circle cx="289.78" cy="104.59" r="0.92"/><circle cx="347.92" cy="109.70" r="0.92"/><circle cx="317.56" cy="116.25" r="0.92"/><circle cx="256.31" cy="110.73" r="0.92"/><circle cx="256.94" cy="115.46" r="0.92"/><circle cx="252.46" cy="111.59" r="0.92"/><circle cx="308.77" cy="107.01" r="0.92"/><circle cx="335.39" cy="117.54" r="0.92"/><circle cx="326.94" cy="123.71" r="0.92"/><circle cx="242.87" cy="94.78" r="0.92"/><circle cx="331.82" cy="109.14" r="0.92"/><circle cx="297.87" cy="114.47" r="0.92"/><circle cx="280.64" cy="98.66" r="0.92"/><circle cx="233.71" cy="86.35" r="0.92"/><circle cx="228.64" cy="72.57" r="0.92"/><circle cx="289.54" cy="98.99" r="0.92"/><circle cx="315.41" cy="109.73" r="0.92"/><circle cx="266.32" cy="105.14" r="0.92"/><circle cx="286.54" cy="111.92" r="0.92"/><circle cx="302.85" cy="106.49" r="0.92"/><circle cx="261.52" cy="114.85" r="0.92"/><circle cx="290.45" cy="101.05" r="0.92"/><circle cx="289.37" cy="107.05" r="0.92"/><circle cx="298.44" cy="105.18" r="0.92"/><circle cx="293.82" cy="104.50" r="0.92"/><circle cx="233.93" cy="93.21" r="0.92"/><circle cx="245.80" cy="98.76" r="0.92"/><circle cx="324.34" cy="105.33" r="0.92"/><circle cx="250.45" cy="97.25" r="0.92"/><circle cx="228.16" cy="99.44" r="0.92"/><circle cx="344.44" cy="117.39" r="0.92"/><circle cx="242.63" cy="95.47" r="0.92"/><circle cx="326.22" cy="112.20" r="0.92"/><circle cx="284.48" cy="110.12" r="0.92"/><circle cx="234.83" cy="82.91" r="0.92"/><circle cx="323.87" cy="119.41" r="0.92"/><circle cx="253.83" cy="83.22" r="0.92"/><circle cx="233.72" cy="86.81" r="0.92"/><circle cx="275.56" cy="112.82" r="0.92"/><circle cx="246.52" cy="104.03" r="0.92"/><circle cx="298.48" cy="108.23" r="0.92"/><circle cx="338.51" cy="113.26" r="0.92"/><circle cx="239.97" cy="87.96" r="0.92"/><circle cx="285.94" cy="97.59" r="0.92"/><circle cx="275.70" cy="106.24" r="0.92"/><circle cx="265.24" cy="104.06" r="0.92"/><circle cx="313.97" cy="109.27" r="0.92"/><circle cx="273.95" cy="107.34" r="0.92"/><circle cx="235.70" cy="78.61" r="0.92"/><circle cx="245.75" cy="95.56" r="0.92"/><circle cx="291.67" cy="116.70" r="0.92"/><circle cx="267.93" cy="108.37" r="0.92"/><circle cx="360.16" cy="118.71" r="0.92"/><circle cx="324.35" cy="113.09" r="0.92"/><circle cx="353.71" cy="111.08" r="0.92"/><circle cx="357.55" cy="115.74" r="0.92"/><circle cx="341.62" cy="108.11" r="0.92"/><circle cx="281.80" cy="111.62" r="0.92"/><circle cx="225.58" cy="85.39" r="0.92"/><circle cx="241.97" cy="92.68" r="0.92"/><circle cx="259.26" cy="98.99" r="0.92"/><circle cx="295.82" cy="101.82" r="0.92"/><circle cx="333.28" cy="115.08" r="0.92"/><circle cx="272.84" cy="106.63" r="0.92"/><circle cx="358.83" cy="106.98" r="0.92"/><circle cx="358.64" cy="117.17" r="0.92"/><circle cx="343.28" cy="118.02" r="0.92"/><circle cx="344.24" cy="103.01" r="0.92"/><circle cx="246.08" cy="92.66" r="0.92"/><circle cx="347.15" cy="116.57" r="0.92"/><circle cx="255.98" cy="100.22" r="0.92"/><circle cx="327.61" cy="117.65" r="0.92"/><circle cx="340.71" cy="116.59" r="0.92"/><circle cx="227.20" cy="84.97" r="0.92"/><circle cx="328.73" cy="122.09" r="0.92"/><circle cx="264.81" cy="101.29" r="0.92"/><circle cx="280.95" cy="92.36" r="0.92"/><circle cx="230.36" cy="72.14" r="0.92"/><circle cx="286.26" cy="94.37" r="0.92"/><circle cx="226.40" cy="103.19" r="0.92"/><circle cx="342.18" cy="116.82" r="0.92"/><circle cx="327.84" cy="113.90" r="0.92"/><circle cx="328.01" cy="111.05" r="0.92"/><circle cx="233.73" cy="96.66" r="0.92"/><circle cx="289.73" cy="112.45" r="0.92"/><circle cx="225.12" cy="84.66" r="0.92"/><circle cx="271.12" cy="89.90" r="0.92"/><circle cx="307.50" cy="107.32" r="0.92"/><circle cx="326.29" cy="114.68" r="0.92"/><circle cx="343.27" cy="119.20" r="0.92"/><circle cx="340.37" cy="116.09" r="0.92"/><circle cx="293.22" cy="110.36" r="0.92"/><circle cx="267.59" cy="98.92" r="0.92"/><circle cx="226.62" cy="73.44" r="0.92"/><circle cx="260.85" cy="96.83" r="0.92"/><circle cx="301.29" cy="106.70" r="0.92"/><circle cx="265.25" cy="111.05" r="0.92"/><circle cx="229.93" cy="87.29" r="0.92"/><circle cx="290.42" cy="94.65" r="0.92"/><circle cx="229.31" cy="80.73" r="0.92"/></g>
<polyline points="223.70,43.95 224.53,60.76 248.67,80.57 362.40,102.48" fill="none" stroke="#e8343c" stroke-width="1.1" stroke-linejoin="round" />
<polyline points="223.70,54.95 224.81,66.46 248.67,90.17 362.40,111.58" fill="none" stroke="#2db54e" stroke-width="1.3" stroke-linejoin="round" stroke-dasharray="2.2 1.4"/>
<polyline points="223.70,71.96 224.81,79.56 248.67,100.07 362.40,121.78" fill="none" stroke="#151515" stroke-width="1.3" stroke-linejoin="round" />
<polyline points="223.70,79.97 224.81,89.17 248.67,109.28 362.40,130.29" fill="none" stroke="#2db54e" stroke-width="1.3" stroke-linejoin="round" stroke-dasharray="2.2 1.4"/>
<polyline points="223.70,87.97 224.81,94.17 248.67,113.38 362.40,135.39" fill="none" stroke="#3a86cc" stroke-width="1.1" stroke-linejoin="round" />
<rect x="223.5" y="25.5" width="139.0" height="130.0" fill="none" stroke="#151515" stroke-width="1.1"/>
<line x1="221.70" y1="33.44" x2="223.70" y2="33.44" stroke="#1a1a1a" stroke-width="0.9" />
<line x1="221.70" y1="49.73" x2="223.70" y2="49.73" stroke="#1a1a1a" stroke-width="0.9" />
<line x1="221.70" y1="66.02" x2="223.70" y2="66.02" stroke="#1a1a1a" stroke-width="0.9" />
<line x1="221.70" y1="82.31" x2="223.70" y2="82.31" stroke="#1a1a1a" stroke-width="0.9" />
<line x1="221.70" y1="98.59" x2="223.70" y2="98.59" stroke="#1a1a1a" stroke-width="0.9" />
<line x1="221.70" y1="114.88" x2="223.70" y2="114.88" stroke="#1a1a1a" stroke-width="0.9" />
<line x1="221.70" y1="131.17" x2="223.70" y2="131.17" stroke="#1a1a1a" stroke-width="0.9" />
<line x1="221.70" y1="139.31" x2="223.70" y2="139.31" stroke="#1a1a1a" stroke-width="0.9" />
<line x1="221.70" y1="147.46" x2="223.70" y2="147.46" stroke="#1a1a1a" stroke-width="0.9" />
<line x1="220.90" y1="25.30" x2="223.70" y2="25.30" stroke="#1a1a1a" stroke-width="0.9" />
<text transform="translate(208.58,28.60) scale(0.9500,1)" font-size="8.30" fill="#1e1e1e" stroke="#1e1e1e" stroke-width="0.08">16</text>
<line x1="220.90" y1="41.59" x2="223.70" y2="41.59" stroke="#1a1a1a" stroke-width="0.9" />
<text transform="translate(208.46,44.89) scale(0.9500,1)" font-size="8.30" fill="#1e1e1e" stroke="#1e1e1e" stroke-width="0.08">14</text>
<line x1="220.90" y1="57.88" x2="223.70" y2="57.88" stroke="#1a1a1a" stroke-width="0.9" />
<text transform="translate(208.63,61.17) scale(0.9500,1)" font-size="8.30" fill="#1e1e1e" stroke="#1e1e1e" stroke-width="0.08">12</text>
<line x1="220.90" y1="74.16" x2="223.70" y2="74.16" stroke="#1a1a1a" stroke-width="0.9" />
<text transform="translate(208.54,77.46) scale(0.9500,1)" font-size="8.30" fill="#1e1e1e" stroke="#1e1e1e" stroke-width="0.08">10</text>
<line x1="220.90" y1="90.45" x2="223.70" y2="90.45" stroke="#1a1a1a" stroke-width="0.9" />
<text transform="translate(212.96,93.75) scale(0.9500,1)" font-size="8.30" fill="#1e1e1e" stroke="#1e1e1e" stroke-width="0.08">8</text>
<line x1="220.90" y1="106.74" x2="223.70" y2="106.74" stroke="#1a1a1a" stroke-width="0.9" />
<text transform="translate(212.96,110.04) scale(0.9500,1)" font-size="8.30" fill="#1e1e1e" stroke="#1e1e1e" stroke-width="0.08">6</text>
<line x1="220.90" y1="123.03" x2="223.70" y2="123.03" stroke="#1a1a1a" stroke-width="0.9" />
<text transform="translate(212.85,126.33) scale(0.9500,1)" font-size="8.30" fill="#1e1e1e" stroke="#1e1e1e" stroke-width="0.08">4</text>
<line x1="220.90" y1="155.60" x2="223.70" y2="155.60" stroke="#1a1a1a" stroke-width="0.9" />
<text transform="translate(212.92,158.90) scale(0.9500,1)" font-size="8.30" fill="#1e1e1e" stroke="#1e1e1e" stroke-width="0.08">0</text>
<line x1="223.70" y1="155.60" x2="223.70" y2="158.10" stroke="#1a1a1a" stroke-width="0.9" />
<line x1="230.63" y1="155.60" x2="230.63" y2="158.10" stroke="#1a1a1a" stroke-width="0.9" />
<line x1="237.57" y1="155.60" x2="237.57" y2="158.10" stroke="#1a1a1a" stroke-width="0.9" />
<line x1="244.50" y1="155.60" x2="244.50" y2="158.10" stroke="#1a1a1a" stroke-width="0.9" />
<line x1="251.44" y1="155.60" x2="251.44" y2="158.10" stroke="#1a1a1a" stroke-width="0.9" />
<line x1="258.38" y1="155.60" x2="258.38" y2="158.10" stroke="#1a1a1a" stroke-width="0.9" />
<line x1="265.31" y1="155.60" x2="265.31" y2="158.10" stroke="#1a1a1a" stroke-width="0.9" />
<line x1="272.25" y1="155.60" x2="272.25" y2="158.10" stroke="#1a1a1a" stroke-width="0.9" />
<line x1="279.18" y1="155.60" x2="279.18" y2="158.10" stroke="#1a1a1a" stroke-width="0.9" />
<line x1="286.12" y1="155.60" x2="286.12" y2="158.10" stroke="#1a1a1a" stroke-width="0.9" />
<line x1="293.05" y1="155.60" x2="293.05" y2="158.10" stroke="#1a1a1a" stroke-width="0.9" />
<line x1="299.98" y1="155.60" x2="299.98" y2="158.10" stroke="#1a1a1a" stroke-width="0.9" />
<line x1="306.92" y1="155.60" x2="306.92" y2="158.10" stroke="#1a1a1a" stroke-width="0.9" />
<line x1="313.85" y1="155.60" x2="313.85" y2="158.10" stroke="#1a1a1a" stroke-width="0.9" />
<line x1="320.79" y1="155.60" x2="320.79" y2="158.10" stroke="#1a1a1a" stroke-width="0.9" />
<line x1="327.72" y1="155.60" x2="327.72" y2="158.10" stroke="#1a1a1a" stroke-width="0.9" />
<line x1="334.66" y1="155.60" x2="334.66" y2="158.10" stroke="#1a1a1a" stroke-width="0.9" />
<line x1="341.59" y1="155.60" x2="341.59" y2="158.10" stroke="#1a1a1a" stroke-width="0.9" />
<line x1="348.53" y1="155.60" x2="348.53" y2="158.10" stroke="#1a1a1a" stroke-width="0.9" />
<line x1="355.46" y1="155.60" x2="355.46" y2="158.10" stroke="#1a1a1a" stroke-width="0.9" />
<line x1="362.40" y1="155.60" x2="362.40" y2="158.10" stroke="#1a1a1a" stroke-width="0.9" />
<text transform="translate(221.44,167.80) scale(0.9800,1)" font-size="8.30" fill="#1e1e1e" stroke="#1e1e1e" stroke-width="0.08">0</text>
<text transform="translate(246.87,167.80) scale(0.9800,1)" font-size="8.30" fill="#1e1e1e" stroke="#1e1e1e" stroke-width="0.08">20</text>
<text transform="translate(274.72,167.80) scale(0.9800,1)" font-size="8.30" fill="#1e1e1e" stroke="#1e1e1e" stroke-width="0.08">40</text>
<text transform="translate(302.35,167.80) scale(0.9800,1)" font-size="8.30" fill="#1e1e1e" stroke="#1e1e1e" stroke-width="0.08">60</text>
<text transform="translate(330.12,167.80) scale(0.9800,1)" font-size="8.30" fill="#1e1e1e" stroke="#1e1e1e" stroke-width="0.08">80</text>
<text transform="translate(355.46,167.80) scale(0.9800,1)" font-size="8.30" fill="#1e1e1e" stroke="#1e1e1e" stroke-width="0.08">100</text>
<polygon points="219.15,140.19 228.05,135.11 228.05,137.91 219.15,142.99" fill="#fff"/>
<line x1="219.15" y1="140.19" x2="228.05" y2="135.11" stroke="#222" stroke-width="1.0" />
<line x1="219.15" y1="142.99" x2="228.05" y2="137.91" stroke="#222" stroke-width="1.0" />
<text transform="translate(208.75,15.30) scale(0.9962,1)" font-size="11.19" font-weight="bold" fill="#000">B</text>
<text transform="translate(230.23,41.00) scale(0.9993,1)" font-size="10.03" fill="#1e1e1e" stroke="#1e1e1e" stroke-width="0.18">nT</text>
<text transform="translate(285.08,38.10) scale(0.8700,1)" font-size="9.30" fill="#1e1e1e" stroke="#1e1e1e" stroke-width="0.14" letter-spacing="-0.169">0–1 yr</text>
<text transform="translate(317.40,38.10) scale(0.8700,1)" font-size="9.30" fill="#1e1e1e" stroke="#1e1e1e" stroke-width="0.14" letter-spacing="0.025">–947 bp/yr</text>
<text transform="translate(281.38,49.30) scale(0.8700,1)" font-size="9.30" fill="#1e1e1e" stroke="#1e1e1e" stroke-width="0.14" letter-spacing="-0.294">1–18 yr</text>
<text transform="translate(322.10,49.30) scale(0.8700,1)" font-size="9.30" fill="#1e1e1e" stroke="#1e1e1e" stroke-width="0.14" letter-spacing="-0.000">–89 bp/yr</text>
<text transform="translate(272.48,60.30) scale(0.8700,1)" font-size="9.30" fill="#1e1e1e" stroke="#1e1e1e" stroke-width="0.14" letter-spacing="-0.235">18–102 yr</text>
<text transform="translate(322.10,60.30) scale(0.8700,1)" font-size="9.30" fill="#1e1e1e" stroke="#1e1e1e" stroke-width="0.14" letter-spacing="-0.000">–51 bp/yr</text>
<text transform="translate(98.65,181.70) scale(0.6601,1)" font-size="10.32" fill="#1e1e1e" stroke="#1e1e1e" stroke-width="0.3">Years</text>
<text transform="translate(284.25,181.20) scale(0.6734,1)" font-size="10.17" fill="#1e1e1e" stroke="#1e1e1e" stroke-width="0.3">Years</text>
<line x1="413.20" y1="32.50" x2="413.20" y2="155.50" stroke="#111" stroke-width="1.3" />
<line x1="412.60" y1="155.50" x2="497.50" y2="155.50" stroke="#111" stroke-width="1.3" />
<line x1="410.20" y1="35.30" x2="413.20" y2="35.30" stroke="#111" stroke-width="1.1" />
<text transform="translate(397.75,38.30) scale(0.9500,1)" font-size="8.60" fill="#1e1e1e" stroke="#1e1e1e" stroke-width="0.08">14</text>
<line x1="410.20" y1="62.30" x2="413.20" y2="62.30" stroke="#111" stroke-width="1.1" />
<text transform="translate(397.92,65.30) scale(0.9500,1)" font-size="8.60" fill="#1e1e1e" stroke="#1e1e1e" stroke-width="0.08">12</text>
<line x1="410.20" y1="89.30" x2="413.20" y2="89.30" stroke="#111" stroke-width="1.1" />
<text transform="translate(397.83,92.30) scale(0.9500,1)" font-size="8.60" fill="#1e1e1e" stroke="#1e1e1e" stroke-width="0.08">10</text>
<line x1="410.20" y1="116.30" x2="413.20" y2="116.30" stroke="#111" stroke-width="1.1" />
<text transform="translate(402.41,119.30) scale(0.9500,1)" font-size="8.60" fill="#1e1e1e" stroke="#1e1e1e" stroke-width="0.08">8</text>
<line x1="410.20" y1="155.50" x2="413.20" y2="155.50" stroke="#111" stroke-width="1.1" />
<text transform="translate(402.38,158.50) scale(0.9500,1)" font-size="8.60" fill="#1e1e1e" stroke="#1e1e1e" stroke-width="0.08">0</text>
<polygon points="409.10,134.71 417.70,129.29 417.70,132.09 409.10,137.51" fill="#fff"/>
<line x1="409.10" y1="134.71" x2="417.70" y2="129.29" stroke="#222" stroke-width="1.3" />
<line x1="409.10" y1="137.51" x2="417.70" y2="132.09" stroke="#222" stroke-width="1.3" />
<line x1="457.60" y1="32.50" x2="457.60" y2="155.50" stroke="#222" stroke-width="1.0" stroke-dasharray="2.6 1.7"/>
<text transform="translate(396.93,16.00) scale(1.0012,1)" font-size="11.46" font-weight="bold" fill="#000">C</text>
<text transform="translate(423.78,27.00) scale(0.9607,1)" font-size="9.16" fill="#1e1e1e" stroke="#1e1e1e" stroke-width="0.18">F</text>
<text transform="translate(441.65,27.00) scale(1.4039,1)" font-size="9.16" fill="#1e1e1e" stroke="#1e1e1e" stroke-width="0.18">M</text>
<text transform="translate(464.39,27.00) scale(1.0725,1)" font-size="9.16" fill="#1e1e1e" stroke="#1e1e1e" stroke-width="0.18">F</text>
<text transform="translate(482.91,27.00) scale(1.3223,1)" font-size="9.16" fill="#1e1e1e" stroke="#1e1e1e" stroke-width="0.18">M</text>
<text transform="translate(429.49,140.00) scale(1.0641,1)" font-size="9.45" fill="#1e1e1e" stroke="#1e1e1e" stroke-width="0.12">Gr</text>
<text transform="translate(471.32,140.00) scale(1.0973,1)" font-size="9.30" fill="#1e1e1e" stroke="#1e1e1e" stroke-width="0.12">nT</text>
<text transform="translate(437.35,170.00) scale(0.7812,1)" font-size="10.07" fill="#1e1e1e" stroke="#1e1e1e" stroke-width="0.3">Newborns</text>
<g fill="#f08bbb"><circle cx="426.90" cy="40.70" r="1.25"/><circle cx="423.00" cy="61.00" r="1.25"/><circle cx="430.90" cy="59.80" r="1.25"/><circle cx="426.90" cy="63.70" r="1.25"/><circle cx="430.90" cy="67.90" r="1.25"/><circle cx="424.80" cy="73.20" r="1.25"/><circle cx="426.90" cy="72.00" r="1.25"/><circle cx="430.90" cy="74.80" r="1.25"/><circle cx="422.70" cy="76.00" r="1.25"/><circle cx="426.90" cy="77.20" r="1.25"/><circle cx="428.40" cy="78.80" r="1.25"/><circle cx="424.80" cy="78.80" r="1.25"/><circle cx="422.70" cy="81.30" r="1.25"/><circle cx="430.90" cy="81.30" r="1.25"/><circle cx="426.90" cy="82.30" r="1.25"/><circle cx="422.70" cy="87.10" r="1.25"/><circle cx="426.90" cy="88.60" r="1.25"/><circle cx="429.10" cy="92.40" r="1.25"/><circle cx="422.70" cy="95.10" r="1.25"/><circle cx="426.90" cy="96.50" r="1.25"/><circle cx="430.90" cy="95.10" r="1.25"/><circle cx="422.70" cy="103.30" r="1.25"/><circle cx="424.80" cy="101.80" r="1.25"/><circle cx="426.90" cy="104.80" r="1.25"/><circle cx="430.90" cy="103.30" r="1.25"/><circle cx="430.90" cy="111.10" r="1.25"/><circle cx="426.90" cy="114.30" r="1.25"/><circle cx="471.40" cy="40.70" r="1.25"/><circle cx="467.20" cy="44.90" r="1.25"/><circle cx="471.40" cy="50.10" r="1.25"/><circle cx="463.30" cy="54.10" r="1.25"/><circle cx="467.20" cy="54.10" r="1.25"/><circle cx="467.20" cy="59.50" r="1.25"/><circle cx="471.40" cy="58.30" r="1.25"/><circle cx="463.30" cy="65.10" r="1.25"/><circle cx="465.40" cy="63.50" r="1.25"/><circle cx="467.20" cy="65.30" r="1.25"/><circle cx="471.40" cy="63.50" r="1.25"/><circle cx="469.60" cy="67.80" r="1.25"/><circle cx="463.30" cy="74.50" r="1.25"/><circle cx="465.40" cy="72.90" r="1.25"/><circle cx="467.20" cy="76.20" r="1.25"/><circle cx="469.60" cy="72.00" r="1.25"/><circle cx="471.40" cy="72.90" r="1.25"/><circle cx="471.40" cy="77.40" r="1.25"/><circle cx="471.40" cy="74.60" r="1.25"/><circle cx="465.40" cy="82.80" r="1.25"/><circle cx="467.20" cy="81.60" r="1.25"/><circle cx="469.60" cy="82.80" r="1.25"/><circle cx="463.30" cy="85.60" r="1.25"/><circle cx="467.20" cy="86.80" r="1.25"/><circle cx="471.40" cy="85.60" r="1.25"/><circle cx="467.20" cy="95.30" r="1.25"/></g>
<g fill="#2f86d6"><circle cx="447.30" cy="52.90" r="1.25"/><circle cx="443.10" cy="56.90" r="1.25"/><circle cx="447.30" cy="59.80" r="1.25"/><circle cx="447.30" cy="67.90" r="1.25"/><circle cx="451.20" cy="67.90" r="1.25"/><circle cx="443.10" cy="72.00" r="1.25"/><circle cx="447.30" cy="73.20" r="1.25"/><circle cx="449.10" cy="76.00" r="1.25"/><circle cx="451.20" cy="78.80" r="1.25"/><circle cx="443.10" cy="78.80" r="1.25"/><circle cx="447.30" cy="80.20" r="1.25"/><circle cx="451.20" cy="78.60" r="1.25"/><circle cx="443.10" cy="81.70" r="1.25"/><circle cx="447.30" cy="85.90" r="1.25"/><circle cx="443.10" cy="91.20" r="1.25"/><circle cx="444.90" cy="89.90" r="1.25"/><circle cx="447.30" cy="91.20" r="1.25"/><circle cx="451.20" cy="91.20" r="1.25"/><circle cx="449.30" cy="91.20" r="1.25"/><circle cx="443.10" cy="99.30" r="1.25"/><circle cx="444.90" cy="97.70" r="1.25"/><circle cx="447.30" cy="100.50" r="1.25"/><circle cx="451.20" cy="99.30" r="1.25"/><circle cx="447.30" cy="107.50" r="1.25"/><circle cx="451.20" cy="106.30" r="1.25"/><circle cx="443.10" cy="112.70" r="1.25"/><circle cx="447.30" cy="114.30" r="1.25"/><circle cx="447.30" cy="122.50" r="1.25"/><circle cx="487.50" cy="33.90" r="1.25"/><circle cx="491.50" cy="41.90" r="1.25"/><circle cx="487.50" cy="46.10" r="1.25"/><circle cx="487.50" cy="54.40" r="1.25"/><circle cx="483.60" cy="62.30" r="1.25"/><circle cx="485.50" cy="61.10" r="1.25"/><circle cx="490.30" cy="62.30" r="1.25"/><circle cx="491.50" cy="63.50" r="1.25"/><circle cx="487.50" cy="65.30" r="1.25"/><circle cx="483.60" cy="69.00" r="1.25"/><circle cx="487.50" cy="67.50" r="1.25"/><circle cx="490.30" cy="68.40" r="1.25"/><circle cx="491.50" cy="69.20" r="1.25"/><circle cx="485.50" cy="69.50" r="1.25"/><circle cx="491.50" cy="73.20" r="1.25"/><circle cx="487.50" cy="76.20" r="1.25"/><circle cx="491.50" cy="74.00" r="1.25"/><circle cx="491.50" cy="80.10" r="1.25"/><circle cx="483.60" cy="82.80" r="1.25"/><circle cx="487.50" cy="82.80" r="1.25"/><circle cx="489.70" cy="84.40" r="1.25"/><circle cx="483.60" cy="85.60" r="1.25"/><circle cx="483.60" cy="89.60" r="1.25"/><circle cx="487.50" cy="88.40" r="1.25"/><circle cx="491.50" cy="88.40" r="1.25"/><circle cx="487.50" cy="93.70" r="1.25"/><circle cx="487.50" cy="107.50" r="1.25"/></g>
<line x1="420.20" y1="83.60" x2="433.90" y2="83.60" stroke="#111" stroke-width="1.4" />
<line x1="440.30" y1="86.80" x2="454.00" y2="86.80" stroke="#111" stroke-width="1.4" />
<line x1="460.80" y1="69.80" x2="474.50" y2="69.80" stroke="#111" stroke-width="1.4" />
<line x1="481.20" y1="72.00" x2="494.60" y2="72.00" stroke="#111" stroke-width="1.4" />
<rect x="34.9" y="211.0" width="139.60" height="133.30" fill="none" stroke="#000" stroke-width="1.5"/>
<line x1="31.90" y1="227.50" x2="34.90" y2="227.50" stroke="#111" stroke-width="1.0" />
<text transform="translate(20.25,230.40) scale(1.0000,1)" font-size="8.00" fill="#1e1e1e" stroke="#1e1e1e" stroke-width="0.08">16</text>
<line x1="31.90" y1="266.30" x2="34.90" y2="266.30" stroke="#111" stroke-width="1.0" />
<text transform="translate(20.14,269.20) scale(1.0000,1)" font-size="8.00" fill="#1e1e1e" stroke="#1e1e1e" stroke-width="0.08">14</text>
<line x1="31.90" y1="305.10" x2="34.90" y2="305.10" stroke="#111" stroke-width="1.0" />
<text transform="translate(20.30,308.00) scale(1.0000,1)" font-size="8.00" fill="#1e1e1e" stroke="#1e1e1e" stroke-width="0.08">12</text>
<line x1="31.90" y1="343.90" x2="34.90" y2="343.90" stroke="#111" stroke-width="1.0" />
<text transform="translate(20.21,346.80) scale(1.0000,1)" font-size="8.00" fill="#1e1e1e" stroke="#1e1e1e" stroke-width="0.08">10</text>
<line x1="32.90" y1="246.90" x2="34.90" y2="246.90" stroke="#111" stroke-width="1.0" />
<line x1="32.90" y1="285.70" x2="34.90" y2="285.70" stroke="#111" stroke-width="1.0" />
<line x1="32.90" y1="324.50" x2="34.90" y2="324.50" stroke="#111" stroke-width="1.0" />
<line x1="34.90" y1="344.30" x2="34.90" y2="346.80" stroke="#111" stroke-width="1.0" />
<line x1="52.35" y1="344.30" x2="52.35" y2="346.80" stroke="#111" stroke-width="1.0" />
<line x1="69.80" y1="344.30" x2="69.80" y2="346.80" stroke="#111" stroke-width="1.0" />
<line x1="87.25" y1="344.30" x2="87.25" y2="346.80" stroke="#111" stroke-width="1.0" />
<line x1="104.70" y1="344.30" x2="104.70" y2="346.80" stroke="#111" stroke-width="1.0" />
<line x1="122.15" y1="344.30" x2="122.15" y2="346.80" stroke="#111" stroke-width="1.0" />
<line x1="139.60" y1="344.30" x2="139.60" y2="346.80" stroke="#111" stroke-width="1.0" />
<line x1="157.05" y1="344.30" x2="157.05" y2="346.80" stroke="#111" stroke-width="1.0" />
<line x1="174.50" y1="344.30" x2="174.50" y2="346.80" stroke="#111" stroke-width="1.0" />
<text transform="translate(32.68,356.80) scale(1.0000,1)" font-size="8.00" fill="#1e1e1e" stroke="#1e1e1e" stroke-width="0.08">0</text>
<text transform="translate(65.35,356.80) scale(1.0000,1)" font-size="8.00" fill="#1e1e1e" stroke="#1e1e1e" stroke-width="0.08">50</text>
<text transform="translate(97.88,356.80) scale(1.0000,1)" font-size="8.00" fill="#1e1e1e" stroke="#1e1e1e" stroke-width="0.08">100</text>
<text transform="translate(132.78,356.80) scale(1.0000,1)" font-size="8.00" fill="#1e1e1e" stroke="#1e1e1e" stroke-width="0.08">150</text>
<text transform="translate(167.78,356.80) scale(1.0000,1)" font-size="8.00" fill="#1e1e1e" stroke="#1e1e1e" stroke-width="0.08">200</text>
<text transform="translate(93.67,370.20) scale(0.7766,1)" font-size="9.52" fill="#1e1e1e" stroke="#1e1e1e" stroke-width="0.3">Weeks</text>
<text transform="translate(19.35,199.90) scale(1.3746,1)" font-size="10.32" font-weight="bold" fill="#000">D</text>
<g fill="#000"><circle cx="36.00" cy="293.70" r="1.35"/><circle cx="37.80" cy="289.60" r="1.35"/><circle cx="40.80" cy="285.70" r="1.35"/><circle cx="39.40" cy="295.50" r="1.35"/><circle cx="42.40" cy="289.60" r="1.35"/><circle cx="43.50" cy="297.10" r="1.35"/><circle cx="46.50" cy="289.60" r="1.35"/><circle cx="47.60" cy="293.70" r="1.35"/><circle cx="50.40" cy="287.50" r="1.35"/><circle cx="45.10" cy="306.90" r="1.35"/><circle cx="49.20" cy="297.10" r="1.35"/><circle cx="52.20" cy="297.10" r="1.35"/><circle cx="53.80" cy="297.10" r="1.35"/><circle cx="55.60" cy="301.20" r="1.35"/><circle cx="57.20" cy="307.40" r="1.35"/><circle cx="58.40" cy="310.40" r="1.35"/><circle cx="60.00" cy="316.50" r="1.35"/><circle cx="61.80" cy="313.60" r="1.35"/><circle cx="62.50" cy="320.40" r="1.35"/><circle cx="64.10" cy="318.10" r="1.35"/><circle cx="65.70" cy="320.40" r="1.35"/><circle cx="68.00" cy="314.90" r="1.35"/><circle cx="70.50" cy="322.20" r="1.35"/><circle cx="73.20" cy="326.80" r="1.35"/><circle cx="74.80" cy="324.50" r="1.35"/><circle cx="76.60" cy="325.20" r="1.35"/><circle cx="78.90" cy="320.60" r="1.35"/><circle cx="81.20" cy="320.60" r="1.35"/><circle cx="84.00" cy="317.00" r="1.35"/><circle cx="72.10" cy="302.80" r="1.35"/><circle cx="99.20" cy="324.60" r="1.35"/><circle cx="101.20" cy="324.60" r="1.35"/><circle cx="100.20" cy="325.70" r="1.35"/><circle cx="96.70" cy="328.40" r="1.35"/><circle cx="103.30" cy="328.20" r="1.35"/><circle cx="104.30" cy="327.00" r="1.35"/><circle cx="108.90" cy="328.20" r="1.35"/><circle cx="105.80" cy="332.50" r="1.35"/><circle cx="95.00" cy="334.30" r="1.35"/><circle cx="98.00" cy="328.40" r="1.35"/><circle cx="161.80" cy="318.80" r="1.35"/><circle cx="150.20" cy="320.50" r="1.35"/><circle cx="148.30" cy="322.70" r="1.35"/><circle cx="156.20" cy="322.40" r="1.35"/><circle cx="159.30" cy="324.40" r="1.35"/></g>
<g fill="#e8101e"><circle cx="36.70" cy="260.50" r="1.3"/><circle cx="37.80" cy="247.30" r="1.3"/><circle cx="40.60" cy="245.00" r="1.3"/><circle cx="39.40" cy="253.00" r="1.3"/><circle cx="42.40" cy="249.10" r="1.3"/><circle cx="43.50" cy="250.70" r="1.3"/><circle cx="46.50" cy="248.60" r="1.3"/><circle cx="44.70" cy="262.10" r="1.3"/><circle cx="47.60" cy="264.40" r="1.3"/><circle cx="48.80" cy="256.00" r="1.3"/><circle cx="50.40" cy="254.30" r="1.3"/><circle cx="51.50" cy="256.60" r="1.3"/><circle cx="53.10" cy="250.70" r="1.3"/><circle cx="55.60" cy="258.20" r="1.3"/><circle cx="57.20" cy="271.90" r="1.3"/><circle cx="58.40" cy="270.30" r="1.3"/><circle cx="62.50" cy="270.10" r="1.3"/><circle cx="60.00" cy="281.50" r="1.3"/><circle cx="61.80" cy="279.90" r="1.3"/><circle cx="63.60" cy="279.90" r="1.3"/><circle cx="66.40" cy="276.00" r="1.3"/><circle cx="68.00" cy="272.10" r="1.3"/><circle cx="72.10" cy="283.80" r="1.3"/><circle cx="65.20" cy="295.50" r="1.3"/><circle cx="70.50" cy="301.70" r="1.3"/><circle cx="73.20" cy="304.70" r="1.3"/><circle cx="74.80" cy="314.70" r="1.3"/><circle cx="76.20" cy="313.10" r="1.3"/><circle cx="79.60" cy="314.70" r="1.3"/><circle cx="81.20" cy="314.70" r="1.3"/><circle cx="77.80" cy="322.20" r="1.3"/><circle cx="78.90" cy="321.10" r="1.3"/><circle cx="84.60" cy="322.20" r="1.3"/><circle cx="83.00" cy="328.40" r="1.3"/><circle cx="99.00" cy="307.10" r="1.3"/><circle cx="108.40" cy="305.30" r="1.3"/><circle cx="97.70" cy="312.90" r="1.3"/><circle cx="103.00" cy="312.90" r="1.3"/><circle cx="96.20" cy="320.50" r="1.3"/><circle cx="95.00" cy="322.60" r="1.3"/><circle cx="101.80" cy="320.60" r="1.3"/><circle cx="104.30" cy="318.90" r="1.3"/><circle cx="105.80" cy="322.60" r="1.3"/><circle cx="100.20" cy="328.40" r="1.3"/><circle cx="156.40" cy="299.40" r="1.3"/><circle cx="159.30" cy="309.10" r="1.3"/><circle cx="148.60" cy="312.90" r="1.3"/><circle cx="161.80" cy="315.00" r="1.3"/><circle cx="150.20" cy="322.70" r="1.3"/><circle cx="153.70" cy="332.50" r="1.3"/></g>
<g fill="#e8101e"><circle cx="148.00" cy="228.10" r="1.25"/></g>
<g fill="#000"><circle cx="148.00" cy="239.90" r="1.25"/></g>
<text transform="translate(152.64,230.40) scale(0.9782,1)" font-size="7.41" fill="#1e1e1e" stroke="#1e1e1e" stroke-width="0.05">T</text>
<text transform="translate(152.42,242.40) scale(1.0161,1)" font-size="7.45" fill="#1e1e1e" stroke="#1e1e1e" stroke-width="0.05">Gr</text>
<rect x="209.20" y="316.00" width="140.90" height="28.40" fill="url(#gb)"/>
<rect x="209.20" y="319.00" width="1.2" height="25.40" fill="#bcd4f0" opacity="0.8"/>
<rect x="348.50" y="319.00" width="1.0" height="25.40" fill="#c4d8f0" opacity="0.7"/>
<g fill="#f3a3c6"><circle cx="265.82" cy="278.99" r="0.9"/><circle cx="243.83" cy="268.86" r="0.9"/><circle cx="316.15" cy="295.54" r="0.9"/><circle cx="305.46" cy="283.35" r="0.9"/><circle cx="284.86" cy="276.49" r="0.9"/><circle cx="268.32" cy="285.50" r="0.9"/><circle cx="295.41" cy="285.31" r="0.9"/><circle cx="261.58" cy="260.20" r="0.9"/><circle cx="263.58" cy="282.28" r="0.9"/><circle cx="302.10" cy="296.17" r="0.9"/><circle cx="328.89" cy="310.96" r="0.9"/><circle cx="283.46" cy="267.08" r="0.9"/><circle cx="318.21" cy="305.21" r="0.9"/><circle cx="246.79" cy="273.40" r="0.9"/><circle cx="209.78" cy="249.43" r="0.9"/><circle cx="284.25" cy="259.63" r="0.9"/><circle cx="274.04" cy="273.04" r="0.9"/><circle cx="346.81" cy="311.78" r="0.9"/><circle cx="259.25" cy="274.44" r="0.9"/><circle cx="231.44" cy="250.16" r="0.9"/><circle cx="320.67" cy="318.38" r="0.9"/><circle cx="342.17" cy="317.84" r="0.9"/><circle cx="302.07" cy="289.42" r="0.9"/><circle cx="275.68" cy="283.19" r="0.9"/><circle cx="324.60" cy="289.53" r="0.9"/><circle cx="220.86" cy="259.38" r="0.9"/><circle cx="252.51" cy="268.67" r="0.9"/><circle cx="282.71" cy="285.41" r="0.9"/><circle cx="237.09" cy="271.64" r="0.9"/><circle cx="238.60" cy="275.81" r="0.9"/><circle cx="245.12" cy="287.53" r="0.9"/><circle cx="258.73" cy="269.86" r="0.9"/><circle cx="306.97" cy="288.51" r="0.9"/><circle cx="330.86" cy="302.06" r="0.9"/><circle cx="293.49" cy="289.07" r="0.9"/><circle cx="266.43" cy="293.48" r="0.9"/><circle cx="222.34" cy="261.45" r="0.9"/><circle cx="233.82" cy="266.95" r="0.9"/><circle cx="229.28" cy="265.95" r="0.9"/><circle cx="317.66" cy="284.58" r="0.9"/><circle cx="321.53" cy="294.46" r="0.9"/><circle cx="324.98" cy="301.83" r="0.9"/><circle cx="234.99" cy="264.96" r="0.9"/><circle cx="291.52" cy="284.96" r="0.9"/><circle cx="215.44" cy="258.95" r="0.9"/><circle cx="324.98" cy="289.02" r="0.9"/><circle cx="265.18" cy="288.14" r="0.9"/><circle cx="221.80" cy="260.11" r="0.9"/><circle cx="333.07" cy="287.45" r="0.9"/><circle cx="265.06" cy="287.35" r="0.9"/><circle cx="271.48" cy="287.44" r="0.9"/><circle cx="301.09" cy="278.70" r="0.9"/><circle cx="252.63" cy="266.60" r="0.9"/><circle cx="239.61" cy="283.50" r="0.9"/><circle cx="323.13" cy="300.70" r="0.9"/><circle cx="250.61" cy="282.49" r="0.9"/><circle cx="314.96" cy="286.52" r="0.9"/><circle cx="344.98" cy="299.17" r="0.9"/><circle cx="244.93" cy="294.63" r="0.9"/><circle cx="332.37" cy="300.62" r="0.9"/><circle cx="320.15" cy="317.32" r="0.9"/><circle cx="245.02" cy="279.06" r="0.9"/><circle cx="333.36" cy="311.82" r="0.9"/><circle cx="295.10" cy="282.08" r="0.9"/><circle cx="248.62" cy="281.17" r="0.9"/><circle cx="348.30" cy="316.12" r="0.9"/><circle cx="302.98" cy="299.96" r="0.9"/><circle cx="334.19" cy="297.46" r="0.9"/><circle cx="257.54" cy="285.36" r="0.9"/><circle cx="345.10" cy="316.18" r="0.9"/><circle cx="236.03" cy="274.91" r="0.9"/><circle cx="299.21" cy="295.37" r="0.9"/><circle cx="301.62" cy="292.04" r="0.9"/><circle cx="241.40" cy="291.98" r="0.9"/><circle cx="330.38" cy="304.87" r="0.9"/><circle cx="224.58" cy="258.64" r="0.9"/><circle cx="283.89" cy="278.14" r="0.9"/><circle cx="303.76" cy="291.79" r="0.9"/><circle cx="314.40" cy="287.00" r="0.9"/><circle cx="271.50" cy="268.47" r="0.9"/><circle cx="237.73" cy="272.68" r="0.9"/><circle cx="274.88" cy="298.43" r="0.9"/><circle cx="283.79" cy="295.47" r="0.9"/><circle cx="316.88" cy="304.55" r="0.9"/><circle cx="317.43" cy="295.28" r="0.9"/><circle cx="223.57" cy="263.90" r="0.9"/><circle cx="252.18" cy="297.20" r="0.9"/><circle cx="267.63" cy="292.61" r="0.9"/><circle cx="260.91" cy="300.20" r="0.9"/><circle cx="291.84" cy="296.22" r="0.9"/><circle cx="250.44" cy="275.07" r="0.9"/><circle cx="265.04" cy="275.75" r="0.9"/><circle cx="226.87" cy="258.63" r="0.9"/><circle cx="227.18" cy="284.67" r="0.9"/><circle cx="307.94" cy="287.19" r="0.9"/><circle cx="267.83" cy="275.83" r="0.9"/><circle cx="244.07" cy="276.03" r="0.9"/><circle cx="247.38" cy="292.64" r="0.9"/><circle cx="262.81" cy="288.36" r="0.9"/><circle cx="325.59" cy="288.58" r="0.9"/><circle cx="334.96" cy="305.02" r="0.9"/><circle cx="334.44" cy="306.35" r="0.9"/><circle cx="219.27" cy="262.32" r="0.9"/><circle cx="242.58" cy="275.53" r="0.9"/><circle cx="255.33" cy="277.29" r="0.9"/><circle cx="278.57" cy="292.14" r="0.9"/><circle cx="289.24" cy="274.81" r="0.9"/><circle cx="284.07" cy="294.20" r="0.9"/><circle cx="267.23" cy="290.19" r="0.9"/><circle cx="232.17" cy="273.18" r="0.9"/><circle cx="213.81" cy="261.44" r="0.9"/><circle cx="257.11" cy="276.28" r="0.9"/><circle cx="231.11" cy="254.87" r="0.9"/><circle cx="270.79" cy="285.41" r="0.9"/><circle cx="322.58" cy="306.34" r="0.9"/><circle cx="225.27" cy="263.21" r="0.9"/><circle cx="260.33" cy="272.67" r="0.9"/><circle cx="287.84" cy="283.45" r="0.9"/><circle cx="307.94" cy="281.97" r="0.9"/><circle cx="300.98" cy="289.54" r="0.9"/><circle cx="304.55" cy="295.55" r="0.9"/><circle cx="311.18" cy="291.65" r="0.9"/><circle cx="220.93" cy="268.79" r="0.9"/><circle cx="316.05" cy="298.80" r="0.9"/><circle cx="331.84" cy="304.47" r="0.9"/><circle cx="310.08" cy="305.33" r="0.9"/><circle cx="295.11" cy="299.57" r="0.9"/><circle cx="256.79" cy="270.19" r="0.9"/><circle cx="297.08" cy="287.17" r="0.9"/><circle cx="235.28" cy="269.92" r="0.9"/><circle cx="278.91" cy="280.57" r="0.9"/><circle cx="345.38" cy="304.21" r="0.9"/><circle cx="261.98" cy="281.08" r="0.9"/><circle cx="305.15" cy="278.89" r="0.9"/><circle cx="241.98" cy="264.45" r="0.9"/><circle cx="271.46" cy="277.44" r="0.9"/><circle cx="220.04" cy="281.59" r="0.9"/><circle cx="324.26" cy="285.44" r="0.9"/><circle cx="318.15" cy="308.41" r="0.9"/><circle cx="261.46" cy="280.57" r="0.9"/><circle cx="264.77" cy="277.87" r="0.9"/><circle cx="251.21" cy="264.57" r="0.9"/><circle cx="333.27" cy="282.02" r="0.9"/><circle cx="323.19" cy="298.87" r="0.9"/><circle cx="269.15" cy="277.22" r="0.9"/><circle cx="218.92" cy="270.54" r="0.9"/><circle cx="253.57" cy="267.23" r="0.9"/><circle cx="256.00" cy="285.90" r="0.9"/><circle cx="213.59" cy="244.55" r="0.9"/><circle cx="323.78" cy="306.60" r="0.9"/><circle cx="306.78" cy="300.12" r="0.9"/><circle cx="211.32" cy="253.53" r="0.9"/><circle cx="265.20" cy="286.31" r="0.9"/><circle cx="281.14" cy="279.88" r="0.9"/><circle cx="282.81" cy="289.56" r="0.9"/><circle cx="348.92" cy="301.95" r="0.9"/><circle cx="231.87" cy="257.70" r="0.9"/><circle cx="288.90" cy="298.36" r="0.9"/><circle cx="212.76" cy="254.59" r="0.9"/><circle cx="237.27" cy="267.73" r="0.9"/><circle cx="251.19" cy="279.85" r="0.9"/><circle cx="348.57" cy="305.31" r="0.9"/><circle cx="269.59" cy="269.80" r="0.9"/><circle cx="341.18" cy="311.30" r="0.9"/><circle cx="346.80" cy="293.53" r="0.9"/><circle cx="256.96" cy="272.69" r="0.9"/><circle cx="227.38" cy="264.46" r="0.9"/><circle cx="279.68" cy="286.81" r="0.9"/><circle cx="241.59" cy="279.29" r="0.9"/><circle cx="329.56" cy="302.17" r="0.9"/><circle cx="270.40" cy="277.18" r="0.9"/><circle cx="227.73" cy="252.43" r="0.9"/><circle cx="313.07" cy="294.41" r="0.9"/><circle cx="244.97" cy="257.09" r="0.9"/><circle cx="300.82" cy="296.09" r="0.9"/><circle cx="331.81" cy="309.65" r="0.9"/><circle cx="285.51" cy="285.45" r="0.9"/><circle cx="305.86" cy="281.35" r="0.9"/><circle cx="268.23" cy="284.98" r="0.9"/><circle cx="244.12" cy="274.96" r="0.9"/><circle cx="317.17" cy="298.77" r="0.9"/><circle cx="320.90" cy="291.75" r="0.9"/><circle cx="212.89" cy="256.20" r="0.9"/><circle cx="235.51" cy="271.12" r="0.9"/><circle cx="215.77" cy="263.01" r="0.9"/><circle cx="339.23" cy="295.25" r="0.9"/><circle cx="244.75" cy="281.38" r="0.9"/><circle cx="311.31" cy="297.64" r="0.9"/><circle cx="224.83" cy="269.27" r="0.9"/><circle cx="251.84" cy="272.46" r="0.9"/><circle cx="245.52" cy="295.82" r="0.9"/><circle cx="212.55" cy="252.71" r="0.9"/><circle cx="241.45" cy="287.15" r="0.9"/><circle cx="262.37" cy="290.69" r="0.9"/><circle cx="259.44" cy="282.58" r="0.9"/><circle cx="284.82" cy="278.23" r="0.9"/><circle cx="318.96" cy="290.65" r="0.9"/><circle cx="240.11" cy="272.47" r="0.9"/><circle cx="296.47" cy="289.49" r="0.9"/><circle cx="224.81" cy="279.35" r="0.9"/><circle cx="346.23" cy="298.76" r="0.9"/><circle cx="260.98" cy="295.97" r="0.9"/><circle cx="317.25" cy="287.17" r="0.9"/><circle cx="336.57" cy="302.62" r="0.9"/><circle cx="323.01" cy="283.07" r="0.9"/><circle cx="247.34" cy="274.49" r="0.9"/><circle cx="239.77" cy="252.01" r="0.9"/><circle cx="254.81" cy="262.55" r="0.9"/><circle cx="296.56" cy="278.50" r="0.9"/><circle cx="243.07" cy="283.40" r="0.9"/><circle cx="211.08" cy="254.80" r="0.9"/><circle cx="313.86" cy="286.85" r="0.9"/><circle cx="313.01" cy="290.34" r="0.9"/><circle cx="248.62" cy="273.92" r="0.9"/><circle cx="308.24" cy="312.84" r="0.9"/><circle cx="268.91" cy="274.38" r="0.9"/><circle cx="294.24" cy="307.20" r="0.9"/><circle cx="223.67" cy="269.74" r="0.9"/><circle cx="249.22" cy="275.36" r="0.9"/><circle cx="339.53" cy="305.72" r="0.9"/><circle cx="272.86" cy="313.30" r="0.9"/><circle cx="220.74" cy="262.11" r="0.9"/><circle cx="211.51" cy="270.56" r="0.9"/><circle cx="330.65" cy="304.74" r="0.9"/><circle cx="235.90" cy="262.05" r="0.9"/><circle cx="290.53" cy="296.98" r="0.9"/><circle cx="211.47" cy="256.59" r="0.9"/><circle cx="303.12" cy="297.79" r="0.9"/><circle cx="341.41" cy="302.09" r="0.9"/><circle cx="249.26" cy="267.03" r="0.9"/><circle cx="306.37" cy="307.04" r="0.9"/><circle cx="327.75" cy="303.02" r="0.9"/><circle cx="315.00" cy="298.26" r="0.9"/><circle cx="246.73" cy="272.47" r="0.9"/><circle cx="283.13" cy="285.86" r="0.9"/><circle cx="231.08" cy="243.17" r="0.9"/><circle cx="247.46" cy="264.53" r="0.9"/><circle cx="325.84" cy="287.64" r="0.9"/><circle cx="244.16" cy="289.30" r="0.9"/><circle cx="293.22" cy="276.65" r="0.9"/><circle cx="239.46" cy="257.35" r="0.9"/><circle cx="252.06" cy="277.05" r="0.9"/><circle cx="272.03" cy="295.58" r="0.9"/><circle cx="273.67" cy="283.06" r="0.9"/><circle cx="229.77" cy="271.63" r="0.9"/><circle cx="279.75" cy="280.61" r="0.9"/><circle cx="295.47" cy="292.24" r="0.9"/><circle cx="287.29" cy="289.13" r="0.9"/><circle cx="319.18" cy="303.83" r="0.9"/><circle cx="319.76" cy="300.21" r="0.9"/><circle cx="265.20" cy="280.22" r="0.9"/><circle cx="221.20" cy="265.57" r="0.9"/><circle cx="273.45" cy="277.77" r="0.9"/><circle cx="340.66" cy="299.62" r="0.9"/><circle cx="318.52" cy="297.54" r="0.9"/><circle cx="312.12" cy="289.99" r="0.9"/><circle cx="308.82" cy="287.93" r="0.9"/><circle cx="299.36" cy="280.24" r="0.9"/><circle cx="221.28" cy="262.76" r="0.9"/><circle cx="327.12" cy="297.36" r="0.9"/><circle cx="250.80" cy="277.75" r="0.9"/><circle cx="300.43" cy="288.55" r="0.9"/><circle cx="244.07" cy="282.60" r="0.9"/><circle cx="257.92" cy="280.68" r="0.9"/><circle cx="214.78" cy="269.70" r="0.9"/><circle cx="342.07" cy="285.04" r="0.9"/><circle cx="337.93" cy="291.95" r="0.9"/><circle cx="297.51" cy="303.51" r="0.9"/><circle cx="294.23" cy="293.67" r="0.9"/><circle cx="294.07" cy="311.86" r="0.9"/><circle cx="287.51" cy="289.49" r="0.9"/><circle cx="284.19" cy="303.67" r="0.9"/><circle cx="211.60" cy="265.25" r="0.9"/><circle cx="226.84" cy="272.81" r="0.9"/><circle cx="215.18" cy="283.05" r="0.9"/><circle cx="287.61" cy="291.96" r="0.9"/><circle cx="326.63" cy="294.74" r="0.9"/><circle cx="343.77" cy="296.31" r="0.9"/><circle cx="306.09" cy="293.66" r="0.9"/><circle cx="303.15" cy="299.27" r="0.9"/><circle cx="257.22" cy="276.54" r="0.9"/><circle cx="233.52" cy="266.22" r="0.9"/><circle cx="221.78" cy="278.90" r="0.9"/><circle cx="285.73" cy="274.93" r="0.9"/><circle cx="261.39" cy="292.51" r="0.9"/><circle cx="245.32" cy="290.85" r="0.9"/><circle cx="338.57" cy="293.56" r="0.9"/><circle cx="217.62" cy="263.15" r="0.9"/><circle cx="305.00" cy="284.55" r="0.9"/><circle cx="253.02" cy="281.29" r="0.9"/><circle cx="242.20" cy="264.23" r="0.9"/><circle cx="249.61" cy="266.49" r="0.9"/><circle cx="340.66" cy="306.68" r="0.9"/><circle cx="303.01" cy="289.00" r="0.9"/><circle cx="347.50" cy="287.99" r="0.9"/><circle cx="302.23" cy="273.75" r="0.9"/><circle cx="317.26" cy="284.92" r="0.9"/><circle cx="284.36" cy="290.06" r="0.9"/><circle cx="228.84" cy="278.65" r="0.9"/><circle cx="246.19" cy="268.87" r="0.9"/><circle cx="270.10" cy="295.04" r="0.9"/><circle cx="257.57" cy="266.70" r="0.9"/><circle cx="335.43" cy="299.33" r="0.9"/><circle cx="279.37" cy="271.54" r="0.9"/><circle cx="251.34" cy="271.46" r="0.9"/><circle cx="226.64" cy="294.50" r="0.9"/><circle cx="323.41" cy="289.83" r="0.9"/><circle cx="344.01" cy="299.98" r="0.9"/><circle cx="345.17" cy="296.27" r="0.9"/><circle cx="313.38" cy="298.47" r="0.9"/><circle cx="346.87" cy="288.66" r="0.9"/><circle cx="311.12" cy="287.21" r="0.9"/><circle cx="340.51" cy="315.14" r="0.9"/><circle cx="316.45" cy="291.58" r="0.9"/><circle cx="278.92" cy="285.86" r="0.9"/><circle cx="215.02" cy="266.92" r="0.9"/><circle cx="239.83" cy="263.46" r="0.9"/><circle cx="334.28" cy="301.68" r="0.9"/><circle cx="345.90" cy="294.16" r="0.9"/><circle cx="249.50" cy="281.77" r="0.9"/><circle cx="294.78" cy="287.38" r="0.9"/><circle cx="213.31" cy="274.19" r="0.9"/><circle cx="216.69" cy="254.84" r="0.9"/><circle cx="264.33" cy="278.92" r="0.9"/><circle cx="261.22" cy="278.46" r="0.9"/><circle cx="248.89" cy="291.36" r="0.9"/><circle cx="257.99" cy="267.59" r="0.9"/><circle cx="213.21" cy="268.48" r="0.9"/><circle cx="255.32" cy="272.63" r="0.9"/><circle cx="237.11" cy="282.54" r="0.9"/><circle cx="267.37" cy="283.76" r="0.9"/><circle cx="244.62" cy="279.69" r="0.9"/><circle cx="327.59" cy="306.08" r="0.9"/><circle cx="348.63" cy="298.92" r="0.9"/><circle cx="344.16" cy="303.72" r="0.9"/><circle cx="233.01" cy="271.03" r="0.9"/><circle cx="346.64" cy="306.36" r="0.9"/><circle cx="336.56" cy="307.81" r="0.9"/><circle cx="332.72" cy="300.74" r="0.9"/><circle cx="283.44" cy="287.60" r="0.9"/><circle cx="240.15" cy="273.59" r="0.9"/><circle cx="265.42" cy="271.48" r="0.9"/><circle cx="333.73" cy="304.51" r="0.9"/><circle cx="230.72" cy="265.98" r="0.9"/><circle cx="274.26" cy="286.26" r="0.9"/><circle cx="297.76" cy="272.84" r="0.9"/><circle cx="312.14" cy="289.08" r="0.9"/><circle cx="306.37" cy="281.98" r="0.9"/><circle cx="215.52" cy="271.90" r="0.9"/><circle cx="230.38" cy="261.62" r="0.9"/><circle cx="344.03" cy="302.55" r="0.9"/><circle cx="305.93" cy="288.04" r="0.9"/><circle cx="348.03" cy="303.17" r="0.9"/><circle cx="255.15" cy="288.81" r="0.9"/><circle cx="239.18" cy="266.97" r="0.9"/><circle cx="297.60" cy="287.49" r="0.9"/><circle cx="243.68" cy="268.95" r="0.9"/><circle cx="243.27" cy="274.55" r="0.9"/><circle cx="266.33" cy="272.89" r="0.9"/><circle cx="234.80" cy="274.08" r="0.9"/><circle cx="311.18" cy="285.17" r="0.9"/><circle cx="239.14" cy="267.63" r="0.9"/><circle cx="346.70" cy="314.47" r="0.9"/><circle cx="343.89" cy="299.44" r="0.9"/><circle cx="300.95" cy="281.35" r="0.9"/><circle cx="332.03" cy="300.58" r="0.9"/><circle cx="270.15" cy="285.97" r="0.9"/><circle cx="296.79" cy="266.83" r="0.9"/><circle cx="228.97" cy="281.63" r="0.9"/><circle cx="227.90" cy="274.11" r="0.9"/><circle cx="277.06" cy="289.52" r="0.9"/><circle cx="305.79" cy="290.44" r="0.9"/><circle cx="277.59" cy="293.56" r="0.9"/><circle cx="295.61" cy="295.90" r="0.9"/></g>
<g fill="#3b8fd8"><circle cx="336.29" cy="303.14" r="0.9"/><circle cx="272.97" cy="277.70" r="0.9"/><circle cx="262.57" cy="274.79" r="0.9"/><circle cx="334.36" cy="306.37" r="0.9"/><circle cx="236.32" cy="271.12" r="0.9"/><circle cx="332.83" cy="289.40" r="0.9"/><circle cx="269.45" cy="270.08" r="0.9"/><circle cx="285.20" cy="289.02" r="0.9"/><circle cx="224.68" cy="288.36" r="0.9"/><circle cx="291.95" cy="282.77" r="0.9"/><circle cx="317.78" cy="277.73" r="0.9"/><circle cx="244.59" cy="291.63" r="0.9"/><circle cx="344.19" cy="286.59" r="0.9"/><circle cx="317.15" cy="293.08" r="0.9"/><circle cx="294.01" cy="290.72" r="0.9"/><circle cx="237.92" cy="275.80" r="0.9"/><circle cx="273.92" cy="286.15" r="0.9"/><circle cx="276.04" cy="282.51" r="0.9"/><circle cx="335.98" cy="313.34" r="0.9"/><circle cx="243.19" cy="265.93" r="0.9"/><circle cx="232.37" cy="271.76" r="0.9"/><circle cx="343.74" cy="298.17" r="0.9"/><circle cx="238.89" cy="295.22" r="0.9"/><circle cx="332.40" cy="297.73" r="0.9"/><circle cx="323.93" cy="305.77" r="0.9"/><circle cx="260.85" cy="276.31" r="0.9"/><circle cx="255.97" cy="267.14" r="0.9"/><circle cx="251.35" cy="287.46" r="0.9"/><circle cx="210.76" cy="273.16" r="0.9"/><circle cx="212.76" cy="267.28" r="0.9"/><circle cx="223.98" cy="269.70" r="0.9"/><circle cx="340.84" cy="292.65" r="0.9"/><circle cx="339.30" cy="311.08" r="0.9"/><circle cx="306.27" cy="295.49" r="0.9"/><circle cx="261.40" cy="282.46" r="0.9"/><circle cx="260.37" cy="285.81" r="0.9"/><circle cx="253.93" cy="273.32" r="0.9"/><circle cx="313.86" cy="278.04" r="0.9"/><circle cx="263.86" cy="289.64" r="0.9"/><circle cx="293.97" cy="291.35" r="0.9"/><circle cx="337.59" cy="297.88" r="0.9"/><circle cx="284.85" cy="280.12" r="0.9"/><circle cx="320.27" cy="294.85" r="0.9"/><circle cx="304.97" cy="288.53" r="0.9"/><circle cx="254.07" cy="273.67" r="0.9"/><circle cx="239.93" cy="274.84" r="0.9"/><circle cx="286.94" cy="271.86" r="0.9"/><circle cx="322.24" cy="315.89" r="0.9"/><circle cx="209.72" cy="250.56" r="0.9"/><circle cx="256.94" cy="277.94" r="0.9"/><circle cx="312.65" cy="291.16" r="0.9"/><circle cx="233.98" cy="264.40" r="0.9"/><circle cx="332.52" cy="313.21" r="0.9"/><circle cx="211.94" cy="260.53" r="0.9"/><circle cx="348.27" cy="308.48" r="0.9"/><circle cx="275.06" cy="279.05" r="0.9"/><circle cx="258.75" cy="278.37" r="0.9"/><circle cx="245.31" cy="279.85" r="0.9"/><circle cx="243.82" cy="270.07" r="0.9"/><circle cx="269.73" cy="274.90" r="0.9"/><circle cx="322.84" cy="292.99" r="0.9"/><circle cx="233.58" cy="282.85" r="0.9"/><circle cx="253.48" cy="290.67" r="0.9"/><circle cx="263.06" cy="274.15" r="0.9"/><circle cx="347.02" cy="298.82" r="0.9"/><circle cx="318.52" cy="297.83" r="0.9"/><circle cx="280.76" cy="278.30" r="0.9"/><circle cx="248.40" cy="258.87" r="0.9"/><circle cx="271.81" cy="289.87" r="0.9"/><circle cx="240.76" cy="275.41" r="0.9"/><circle cx="309.78" cy="308.90" r="0.9"/><circle cx="332.37" cy="287.89" r="0.9"/><circle cx="237.72" cy="277.63" r="0.9"/><circle cx="286.99" cy="291.34" r="0.9"/><circle cx="348.57" cy="315.33" r="0.9"/><circle cx="247.17" cy="276.66" r="0.9"/><circle cx="221.01" cy="268.65" r="0.9"/><circle cx="210.92" cy="259.11" r="0.9"/><circle cx="219.87" cy="264.76" r="0.9"/><circle cx="310.97" cy="282.66" r="0.9"/><circle cx="324.41" cy="310.11" r="0.9"/><circle cx="318.89" cy="295.84" r="0.9"/><circle cx="215.33" cy="256.10" r="0.9"/><circle cx="234.11" cy="269.96" r="0.9"/><circle cx="339.26" cy="296.51" r="0.9"/><circle cx="258.82" cy="286.55" r="0.9"/><circle cx="252.15" cy="292.23" r="0.9"/><circle cx="214.74" cy="262.86" r="0.9"/><circle cx="281.55" cy="282.17" r="0.9"/><circle cx="253.41" cy="287.21" r="0.9"/><circle cx="224.36" cy="279.71" r="0.9"/><circle cx="330.30" cy="309.48" r="0.9"/><circle cx="213.46" cy="260.26" r="0.9"/><circle cx="276.64" cy="275.15" r="0.9"/><circle cx="237.23" cy="263.59" r="0.9"/><circle cx="232.92" cy="276.58" r="0.9"/><circle cx="337.35" cy="304.26" r="0.9"/><circle cx="329.71" cy="297.33" r="0.9"/><circle cx="326.51" cy="299.12" r="0.9"/><circle cx="317.28" cy="313.71" r="0.9"/><circle cx="271.01" cy="288.33" r="0.9"/><circle cx="294.71" cy="304.14" r="0.9"/><circle cx="346.12" cy="319.53" r="0.9"/><circle cx="282.09" cy="277.34" r="0.9"/><circle cx="346.44" cy="296.86" r="0.9"/><circle cx="284.67" cy="274.78" r="0.9"/><circle cx="314.85" cy="305.37" r="0.9"/><circle cx="320.82" cy="304.36" r="0.9"/><circle cx="227.81" cy="273.54" r="0.9"/><circle cx="331.48" cy="307.81" r="0.9"/><circle cx="242.00" cy="280.58" r="0.9"/><circle cx="332.38" cy="295.45" r="0.9"/><circle cx="316.23" cy="290.33" r="0.9"/><circle cx="249.86" cy="269.07" r="0.9"/><circle cx="303.59" cy="294.39" r="0.9"/><circle cx="332.88" cy="307.60" r="0.9"/><circle cx="236.67" cy="276.47" r="0.9"/><circle cx="280.69" cy="288.23" r="0.9"/><circle cx="230.55" cy="266.89" r="0.9"/><circle cx="319.08" cy="311.14" r="0.9"/><circle cx="343.98" cy="292.85" r="0.9"/><circle cx="257.25" cy="283.84" r="0.9"/><circle cx="248.04" cy="283.72" r="0.9"/><circle cx="240.09" cy="279.83" r="0.9"/><circle cx="322.73" cy="301.58" r="0.9"/><circle cx="307.43" cy="291.11" r="0.9"/><circle cx="245.06" cy="271.48" r="0.9"/><circle cx="342.19" cy="302.12" r="0.9"/><circle cx="296.71" cy="297.13" r="0.9"/><circle cx="314.96" cy="306.64" r="0.9"/><circle cx="328.91" cy="304.39" r="0.9"/><circle cx="210.72" cy="247.44" r="0.9"/><circle cx="296.63" cy="299.39" r="0.9"/><circle cx="247.18" cy="269.60" r="0.9"/><circle cx="281.25" cy="283.24" r="0.9"/><circle cx="289.72" cy="287.16" r="0.9"/><circle cx="230.77" cy="263.71" r="0.9"/><circle cx="212.13" cy="273.87" r="0.9"/><circle cx="294.39" cy="293.29" r="0.9"/><circle cx="270.05" cy="296.50" r="0.9"/><circle cx="265.11" cy="302.99" r="0.9"/><circle cx="291.31" cy="302.48" r="0.9"/><circle cx="220.55" cy="278.31" r="0.9"/><circle cx="260.83" cy="287.95" r="0.9"/><circle cx="257.45" cy="269.35" r="0.9"/><circle cx="299.65" cy="285.45" r="0.9"/><circle cx="225.58" cy="265.76" r="0.9"/><circle cx="248.92" cy="272.09" r="0.9"/><circle cx="288.27" cy="286.93" r="0.9"/><circle cx="320.35" cy="312.48" r="0.9"/><circle cx="252.39" cy="289.82" r="0.9"/><circle cx="327.31" cy="293.26" r="0.9"/><circle cx="337.98" cy="307.29" r="0.9"/><circle cx="292.09" cy="297.62" r="0.9"/><circle cx="220.52" cy="262.93" r="0.9"/><circle cx="296.87" cy="283.85" r="0.9"/><circle cx="238.29" cy="282.07" r="0.9"/><circle cx="223.74" cy="265.09" r="0.9"/><circle cx="334.56" cy="297.18" r="0.9"/><circle cx="229.10" cy="286.09" r="0.9"/><circle cx="325.67" cy="299.04" r="0.9"/><circle cx="243.62" cy="278.08" r="0.9"/><circle cx="250.04" cy="274.67" r="0.9"/><circle cx="312.15" cy="286.40" r="0.9"/><circle cx="291.65" cy="281.20" r="0.9"/><circle cx="312.25" cy="305.94" r="0.9"/><circle cx="272.13" cy="285.70" r="0.9"/><circle cx="274.33" cy="291.46" r="0.9"/><circle cx="244.42" cy="283.33" r="0.9"/><circle cx="219.36" cy="259.81" r="0.9"/><circle cx="281.50" cy="285.80" r="0.9"/><circle cx="284.22" cy="277.97" r="0.9"/><circle cx="271.23" cy="276.74" r="0.9"/><circle cx="304.07" cy="303.75" r="0.9"/><circle cx="266.72" cy="276.92" r="0.9"/><circle cx="211.31" cy="261.38" r="0.9"/><circle cx="300.34" cy="287.20" r="0.9"/><circle cx="232.94" cy="278.08" r="0.9"/><circle cx="300.64" cy="301.11" r="0.9"/><circle cx="336.95" cy="313.91" r="0.9"/><circle cx="291.40" cy="303.95" r="0.9"/><circle cx="289.65" cy="306.90" r="0.9"/><circle cx="267.07" cy="281.79" r="0.9"/><circle cx="265.80" cy="277.89" r="0.9"/><circle cx="210.13" cy="276.78" r="0.9"/><circle cx="253.28" cy="282.82" r="0.9"/><circle cx="225.97" cy="262.89" r="0.9"/><circle cx="275.52" cy="299.52" r="0.9"/><circle cx="263.95" cy="279.55" r="0.9"/><circle cx="319.91" cy="301.79" r="0.9"/><circle cx="212.65" cy="285.41" r="0.9"/><circle cx="325.18" cy="290.90" r="0.9"/><circle cx="282.64" cy="291.09" r="0.9"/><circle cx="336.96" cy="313.16" r="0.9"/><circle cx="274.19" cy="269.94" r="0.9"/><circle cx="329.30" cy="304.25" r="0.9"/><circle cx="230.85" cy="282.96" r="0.9"/><circle cx="249.40" cy="284.03" r="0.9"/><circle cx="236.02" cy="280.49" r="0.9"/><circle cx="246.77" cy="290.01" r="0.9"/><circle cx="311.97" cy="296.37" r="0.9"/><circle cx="213.49" cy="266.93" r="0.9"/><circle cx="283.65" cy="291.46" r="0.9"/><circle cx="239.33" cy="277.49" r="0.9"/><circle cx="225.28" cy="280.03" r="0.9"/><circle cx="279.41" cy="302.19" r="0.9"/><circle cx="335.89" cy="301.02" r="0.9"/><circle cx="283.41" cy="289.65" r="0.9"/><circle cx="264.19" cy="280.07" r="0.9"/><circle cx="338.38" cy="313.04" r="0.9"/><circle cx="227.99" cy="266.13" r="0.9"/><circle cx="257.81" cy="275.19" r="0.9"/><circle cx="322.99" cy="310.62" r="0.9"/><circle cx="329.62" cy="295.21" r="0.9"/><circle cx="222.31" cy="281.58" r="0.9"/><circle cx="310.70" cy="297.57" r="0.9"/><circle cx="216.15" cy="274.35" r="0.9"/><circle cx="226.79" cy="260.09" r="0.9"/><circle cx="210.26" cy="260.59" r="0.9"/><circle cx="281.21" cy="293.25" r="0.9"/><circle cx="257.04" cy="297.69" r="0.9"/><circle cx="319.13" cy="292.91" r="0.9"/><circle cx="310.37" cy="286.66" r="0.9"/><circle cx="317.25" cy="315.70" r="0.9"/><circle cx="218.21" cy="270.98" r="0.9"/><circle cx="336.17" cy="308.30" r="0.9"/><circle cx="316.50" cy="295.03" r="0.9"/><circle cx="265.39" cy="294.56" r="0.9"/><circle cx="254.94" cy="261.60" r="0.9"/><circle cx="229.66" cy="279.30" r="0.9"/><circle cx="219.71" cy="271.02" r="0.9"/><circle cx="283.92" cy="295.73" r="0.9"/><circle cx="295.60" cy="297.03" r="0.9"/><circle cx="280.06" cy="286.22" r="0.9"/><circle cx="336.45" cy="311.10" r="0.9"/><circle cx="227.93" cy="269.41" r="0.9"/><circle cx="345.16" cy="311.72" r="0.9"/><circle cx="280.72" cy="296.02" r="0.9"/><circle cx="333.66" cy="310.82" r="0.9"/><circle cx="326.48" cy="299.74" r="0.9"/><circle cx="292.00" cy="297.88" r="0.9"/><circle cx="299.53" cy="293.73" r="0.9"/><circle cx="285.38" cy="294.13" r="0.9"/><circle cx="277.29" cy="250.44" r="0.9"/><circle cx="297.69" cy="298.09" r="0.9"/><circle cx="214.33" cy="267.38" r="0.9"/><circle cx="332.58" cy="310.31" r="0.9"/><circle cx="239.38" cy="266.52" r="0.9"/><circle cx="292.09" cy="292.03" r="0.9"/><circle cx="271.72" cy="294.76" r="0.9"/><circle cx="236.65" cy="280.85" r="0.9"/><circle cx="320.17" cy="305.59" r="0.9"/><circle cx="331.33" cy="291.31" r="0.9"/><circle cx="256.67" cy="280.54" r="0.9"/><circle cx="244.56" cy="276.29" r="0.9"/><circle cx="221.51" cy="259.40" r="0.9"/><circle cx="226.93" cy="262.14" r="0.9"/><circle cx="339.57" cy="303.97" r="0.9"/><circle cx="256.68" cy="277.20" r="0.9"/><circle cx="309.48" cy="302.23" r="0.9"/><circle cx="343.51" cy="304.74" r="0.9"/><circle cx="311.36" cy="285.52" r="0.9"/><circle cx="245.29" cy="275.12" r="0.9"/><circle cx="261.17" cy="298.22" r="0.9"/><circle cx="243.75" cy="280.32" r="0.9"/><circle cx="327.60" cy="305.04" r="0.9"/><circle cx="334.46" cy="291.02" r="0.9"/><circle cx="223.84" cy="268.15" r="0.9"/><circle cx="220.30" cy="267.13" r="0.9"/><circle cx="294.81" cy="309.42" r="0.9"/><circle cx="302.42" cy="308.19" r="0.9"/><circle cx="234.47" cy="297.88" r="0.9"/><circle cx="324.88" cy="308.36" r="0.9"/><circle cx="309.75" cy="297.29" r="0.9"/><circle cx="290.86" cy="281.02" r="0.9"/><circle cx="226.40" cy="278.50" r="0.9"/><circle cx="262.85" cy="276.54" r="0.9"/><circle cx="317.98" cy="300.65" r="0.9"/><circle cx="342.41" cy="296.47" r="0.9"/><circle cx="293.81" cy="307.70" r="0.9"/><circle cx="307.46" cy="298.54" r="0.9"/><circle cx="286.64" cy="298.83" r="0.9"/><circle cx="339.50" cy="297.64" r="0.9"/><circle cx="267.82" cy="287.99" r="0.9"/><circle cx="282.49" cy="295.16" r="0.9"/><circle cx="251.19" cy="281.07" r="0.9"/><circle cx="233.34" cy="267.20" r="0.9"/><circle cx="222.36" cy="245.20" r="0.9"/><circle cx="303.88" cy="288.05" r="0.9"/><circle cx="236.07" cy="291.58" r="0.9"/><circle cx="226.01" cy="263.94" r="0.9"/><circle cx="233.60" cy="264.59" r="0.9"/><circle cx="273.84" cy="279.94" r="0.9"/><circle cx="216.27" cy="276.69" r="0.9"/><circle cx="305.50" cy="300.80" r="0.9"/><circle cx="294.52" cy="289.26" r="0.9"/><circle cx="278.27" cy="286.69" r="0.9"/><circle cx="241.45" cy="280.96" r="0.9"/><circle cx="308.04" cy="283.12" r="0.9"/><circle cx="255.62" cy="278.10" r="0.9"/><circle cx="225.77" cy="273.97" r="0.9"/><circle cx="233.08" cy="263.83" r="0.9"/><circle cx="301.63" cy="302.54" r="0.9"/><circle cx="280.50" cy="294.48" r="0.9"/><circle cx="309.46" cy="301.72" r="0.9"/><circle cx="325.66" cy="295.66" r="0.9"/><circle cx="316.86" cy="290.94" r="0.9"/><circle cx="224.94" cy="267.83" r="0.9"/><circle cx="236.16" cy="279.41" r="0.9"/><circle cx="337.78" cy="300.09" r="0.9"/><circle cx="334.45" cy="311.06" r="0.9"/><circle cx="262.97" cy="288.60" r="0.9"/><circle cx="333.84" cy="296.54" r="0.9"/><circle cx="222.05" cy="262.77" r="0.9"/><circle cx="295.96" cy="305.21" r="0.9"/><circle cx="223.51" cy="268.46" r="0.9"/><circle cx="258.85" cy="272.29" r="0.9"/><circle cx="274.59" cy="265.55" r="0.9"/><circle cx="218.00" cy="261.52" r="0.9"/><circle cx="254.05" cy="269.83" r="0.9"/><circle cx="294.88" cy="283.37" r="0.9"/><circle cx="291.72" cy="296.08" r="0.9"/><circle cx="245.56" cy="269.11" r="0.9"/><circle cx="348.55" cy="319.34" r="0.9"/><circle cx="278.42" cy="282.39" r="0.9"/><circle cx="335.75" cy="308.37" r="0.9"/><circle cx="284.73" cy="279.88" r="0.9"/><circle cx="252.42" cy="270.60" r="0.9"/><circle cx="268.84" cy="283.98" r="0.9"/><circle cx="325.61" cy="313.86" r="0.9"/><circle cx="226.16" cy="277.79" r="0.9"/><circle cx="298.15" cy="298.25" r="0.9"/><circle cx="272.65" cy="283.81" r="0.9"/><circle cx="326.95" cy="310.83" r="0.9"/><circle cx="245.51" cy="274.08" r="0.9"/><circle cx="233.42" cy="273.32" r="0.9"/><circle cx="265.09" cy="277.09" r="0.9"/><circle cx="335.89" cy="302.82" r="0.9"/><circle cx="299.40" cy="302.40" r="0.9"/><circle cx="332.03" cy="317.84" r="0.9"/><circle cx="225.78" cy="269.71" r="0.9"/><circle cx="256.19" cy="278.69" r="0.9"/><circle cx="303.40" cy="303.53" r="0.9"/><circle cx="271.88" cy="295.67" r="0.9"/><circle cx="273.24" cy="292.12" r="0.9"/><circle cx="224.49" cy="282.54" r="0.9"/><circle cx="314.10" cy="287.84" r="0.9"/><circle cx="332.75" cy="289.63" r="0.9"/><circle cx="264.09" cy="294.19" r="0.9"/><circle cx="347.91" cy="314.29" r="0.9"/><circle cx="232.56" cy="266.10" r="0.9"/><circle cx="243.81" cy="282.18" r="0.9"/><circle cx="216.79" cy="280.95" r="0.9"/><circle cx="320.73" cy="289.78" r="0.9"/><circle cx="224.95" cy="274.45" r="0.9"/><circle cx="283.63" cy="294.17" r="0.9"/><circle cx="210.12" cy="250.04" r="0.9"/><circle cx="214.44" cy="269.61" r="0.9"/><circle cx="316.92" cy="293.99" r="0.9"/><circle cx="218.69" cy="256.92" r="0.9"/><circle cx="308.60" cy="286.40" r="0.9"/><circle cx="342.64" cy="310.26" r="0.9"/><circle cx="248.23" cy="283.76" r="0.9"/><circle cx="313.69" cy="300.15" r="0.9"/><circle cx="287.71" cy="290.43" r="0.9"/><circle cx="267.26" cy="284.55" r="0.9"/><circle cx="287.68" cy="292.51" r="0.9"/><circle cx="338.24" cy="315.62" r="0.9"/><circle cx="235.41" cy="276.08" r="0.9"/><circle cx="227.59" cy="279.60" r="0.9"/><circle cx="289.60" cy="287.02" r="0.9"/><circle cx="222.23" cy="278.67" r="0.9"/><circle cx="224.12" cy="254.04" r="0.9"/><circle cx="240.92" cy="271.92" r="0.9"/><circle cx="264.35" cy="289.03" r="0.9"/><circle cx="294.98" cy="274.12" r="0.9"/><circle cx="267.97" cy="293.71" r="0.9"/><circle cx="280.07" cy="296.08" r="0.9"/><circle cx="308.03" cy="298.02" r="0.9"/><circle cx="214.47" cy="265.51" r="0.9"/><circle cx="253.68" cy="281.76" r="0.9"/><circle cx="253.53" cy="278.90" r="0.9"/><circle cx="266.41" cy="290.15" r="0.9"/><circle cx="273.25" cy="272.79" r="0.9"/><circle cx="234.63" cy="268.98" r="0.9"/><circle cx="222.03" cy="246.42" r="0.9"/><circle cx="277.32" cy="291.96" r="0.9"/><circle cx="243.17" cy="286.65" r="0.9"/><circle cx="320.62" cy="296.02" r="0.9"/><circle cx="242.32" cy="263.95" r="0.9"/><circle cx="331.78" cy="287.31" r="0.9"/><circle cx="320.55" cy="304.84" r="0.9"/><circle cx="319.19" cy="310.58" r="0.9"/><circle cx="332.63" cy="301.51" r="0.9"/><circle cx="242.81" cy="279.38" r="0.9"/><circle cx="245.80" cy="278.43" r="0.9"/><circle cx="324.82" cy="303.62" r="0.9"/><circle cx="332.34" cy="303.90" r="0.9"/><circle cx="324.11" cy="294.63" r="0.9"/><circle cx="273.61" cy="282.62" r="0.9"/><circle cx="224.30" cy="258.74" r="0.9"/><circle cx="309.66" cy="307.33" r="0.9"/><circle cx="339.52" cy="309.00" r="0.9"/><circle cx="328.10" cy="300.55" r="0.9"/><circle cx="273.01" cy="276.86" r="0.9"/><circle cx="221.01" cy="263.28" r="0.9"/><circle cx="314.07" cy="291.20" r="0.9"/><circle cx="271.89" cy="283.76" r="0.9"/><circle cx="329.96" cy="289.18" r="0.9"/><circle cx="270.91" cy="290.79" r="0.9"/><circle cx="284.39" cy="284.17" r="0.9"/></g>
<polyline points="209.00,249.50 209.50,254.00 210.60,257.40 212.50,258.80 233.00,271.40 350.10,305.50" fill="none" stroke="#e3287a" stroke-width="1.8" stroke-linejoin="round" />
<polyline points="209.10,229.00 209.30,259.00 210.00,263.00 233.00,273.30 350.10,310.00" fill="none" stroke="#1e3a6e" stroke-width="1.6" stroke-linejoin="round" />
<rect x="208.5" y="211.5" width="142.0" height="133.0" fill="none" stroke="#151515" stroke-width="1.1"/>
<line x1="205.90" y1="211.10" x2="208.70" y2="211.10" stroke="#1a1a1a" stroke-width="0.9" />
<text transform="translate(194.48,214.40) scale(0.9500,1)" font-size="8.30" fill="#1e1e1e" stroke="#1e1e1e" stroke-width="0.08">16</text>
<line x1="205.90" y1="227.76" x2="208.70" y2="227.76" stroke="#1a1a1a" stroke-width="0.9" />
<text transform="translate(194.36,231.06) scale(0.9500,1)" font-size="8.30" fill="#1e1e1e" stroke="#1e1e1e" stroke-width="0.08">14</text>
<line x1="205.90" y1="244.42" x2="208.70" y2="244.42" stroke="#1a1a1a" stroke-width="0.9" />
<text transform="translate(194.53,247.72) scale(0.9500,1)" font-size="8.30" fill="#1e1e1e" stroke="#1e1e1e" stroke-width="0.08">12</text>
<line x1="205.90" y1="261.09" x2="208.70" y2="261.09" stroke="#1a1a1a" stroke-width="0.9" />
<text transform="translate(194.44,264.39) scale(0.9500,1)" font-size="8.30" fill="#1e1e1e" stroke="#1e1e1e" stroke-width="0.08">10</text>
<line x1="205.90" y1="277.75" x2="208.70" y2="277.75" stroke="#1a1a1a" stroke-width="0.9" />
<text transform="translate(198.86,281.05) scale(0.9500,1)" font-size="8.30" fill="#1e1e1e" stroke="#1e1e1e" stroke-width="0.08">8</text>
<line x1="205.90" y1="294.41" x2="208.70" y2="294.41" stroke="#1a1a1a" stroke-width="0.9" />
<text transform="translate(198.86,297.71) scale(0.9500,1)" font-size="8.30" fill="#1e1e1e" stroke="#1e1e1e" stroke-width="0.08">6</text>
<line x1="205.90" y1="311.07" x2="208.70" y2="311.07" stroke="#1a1a1a" stroke-width="0.9" />
<text transform="translate(198.75,314.38) scale(0.9500,1)" font-size="8.30" fill="#1e1e1e" stroke="#1e1e1e" stroke-width="0.08">4</text>
<line x1="205.90" y1="344.40" x2="208.70" y2="344.40" stroke="#1a1a1a" stroke-width="0.9" />
<text transform="translate(198.82,347.70) scale(0.9500,1)" font-size="8.30" fill="#1e1e1e" stroke="#1e1e1e" stroke-width="0.08">0</text>
<line x1="208.70" y1="344.40" x2="208.70" y2="346.90" stroke="#1a1a1a" stroke-width="0.9" />
<line x1="215.77" y1="344.40" x2="215.77" y2="346.90" stroke="#1a1a1a" stroke-width="0.9" />
<line x1="222.84" y1="344.40" x2="222.84" y2="346.90" stroke="#1a1a1a" stroke-width="0.9" />
<line x1="229.91" y1="344.40" x2="229.91" y2="346.90" stroke="#1a1a1a" stroke-width="0.9" />
<line x1="236.98" y1="344.40" x2="236.98" y2="346.90" stroke="#1a1a1a" stroke-width="0.9" />
<line x1="244.05" y1="344.40" x2="244.05" y2="346.90" stroke="#1a1a1a" stroke-width="0.9" />
<line x1="251.12" y1="344.40" x2="251.12" y2="346.90" stroke="#1a1a1a" stroke-width="0.9" />
<line x1="258.19" y1="344.40" x2="258.19" y2="346.90" stroke="#1a1a1a" stroke-width="0.9" />
<line x1="265.26" y1="344.40" x2="265.26" y2="346.90" stroke="#1a1a1a" stroke-width="0.9" />
<line x1="272.33" y1="344.40" x2="272.33" y2="346.90" stroke="#1a1a1a" stroke-width="0.9" />
<line x1="279.40" y1="344.40" x2="279.40" y2="346.90" stroke="#1a1a1a" stroke-width="0.9" />
<line x1="286.47" y1="344.40" x2="286.47" y2="346.90" stroke="#1a1a1a" stroke-width="0.9" />
<line x1="293.54" y1="344.40" x2="293.54" y2="346.90" stroke="#1a1a1a" stroke-width="0.9" />
<line x1="300.61" y1="344.40" x2="300.61" y2="346.90" stroke="#1a1a1a" stroke-width="0.9" />
<line x1="307.68" y1="344.40" x2="307.68" y2="346.90" stroke="#1a1a1a" stroke-width="0.9" />
<line x1="314.75" y1="344.40" x2="314.75" y2="346.90" stroke="#1a1a1a" stroke-width="0.9" />
<line x1="321.82" y1="344.40" x2="321.82" y2="346.90" stroke="#1a1a1a" stroke-width="0.9" />
<line x1="328.89" y1="344.40" x2="328.89" y2="346.90" stroke="#1a1a1a" stroke-width="0.9" />
<line x1="335.96" y1="344.40" x2="335.96" y2="346.90" stroke="#1a1a1a" stroke-width="0.9" />
<line x1="343.03" y1="344.40" x2="343.03" y2="346.90" stroke="#1a1a1a" stroke-width="0.9" />
<line x1="350.10" y1="344.40" x2="350.10" y2="346.90" stroke="#1a1a1a" stroke-width="0.9" />
<text transform="translate(206.44,356.70) scale(0.9800,1)" font-size="8.30" fill="#1e1e1e" stroke="#1e1e1e" stroke-width="0.08">0</text>
<text transform="translate(232.41,356.70) scale(0.9800,1)" font-size="8.30" fill="#1e1e1e" stroke="#1e1e1e" stroke-width="0.08">20</text>
<text transform="translate(260.80,356.70) scale(0.9800,1)" font-size="8.30" fill="#1e1e1e" stroke="#1e1e1e" stroke-width="0.08">40</text>
<text transform="translate(288.97,356.70) scale(0.9800,1)" font-size="8.30" fill="#1e1e1e" stroke="#1e1e1e" stroke-width="0.08">60</text>
<text transform="translate(317.28,356.70) scale(0.9800,1)" font-size="8.30" fill="#1e1e1e" stroke="#1e1e1e" stroke-width="0.08">80</text>
<text transform="translate(343.16,356.70) scale(0.9800,1)" font-size="8.30" fill="#1e1e1e" stroke="#1e1e1e" stroke-width="0.08">100</text>
<polygon points="204.05,328.79 212.95,323.71 212.95,326.51 204.05,331.59" fill="#fff"/>
<line x1="204.05" y1="328.79" x2="212.95" y2="323.71" stroke="#222" stroke-width="1.0" />
<line x1="204.05" y1="331.59" x2="212.95" y2="326.51" stroke="#222" stroke-width="1.0" />
<text transform="translate(194.62,200.20) scale(0.9575,1)" font-size="10.61" font-weight="bold" fill="#000">E</text>
<text transform="translate(215.97,225.80) scale(1.0503,1)" font-size="9.01" fill="#1e1e1e" stroke="#1e1e1e" stroke-width="0.18">nT</text>
<g fill="#f3a3c6"><circle cx="326.60" cy="232.30" r="1.25"/></g>
<g fill="#3b8fd8"><circle cx="326.60" cy="244.40" r="1.25"/></g>
<text transform="translate(330.56,234.70) scale(0.9725,1)" font-size="7.99" fill="#1e1e1e" stroke="#1e1e1e" stroke-width="0.05">F</text>
<text transform="translate(330.37,246.90) scale(1.2716,1)" font-size="7.99" fill="#1e1e1e" stroke="#1e1e1e" stroke-width="0.05">M</text>
<text transform="translate(270.85,370.10) scale(0.6774,1)" font-size="9.88" fill="#1e1e1e" stroke="#1e1e1e" stroke-width="0.3">Years</text>
<rect x="388.10" y="316.00" width="123.70" height="28.40" fill="url(#gb)"/>
<rect x="388.10" y="319.00" width="1.2" height="25.40" fill="#bcd4f0" opacity="0.8"/>
<rect x="510.20" y="319.00" width="1.0" height="25.40" fill="#c4d8f0" opacity="0.7"/>
<polyline points="387.90,233.00 388.60,246.50 411.60,267.90 511.80,288.00" fill="none" stroke="#e8343c" stroke-width="1.2" stroke-linejoin="round" />
<polyline points="387.90,248.00 388.60,257.00 411.60,277.00 511.80,297.20" fill="none" stroke="#2db54e" stroke-width="1.3" stroke-linejoin="round" stroke-dasharray="2 1.1"/>
<polyline points="387.90,262.00 388.60,266.60 411.60,286.90 511.80,307.10" fill="none" stroke="#25b04a" stroke-width="1.3" stroke-linejoin="round" />
<polyline points="387.90,272.00 388.60,276.50 411.60,297.00 511.80,316.00" fill="none" stroke="#2db54e" stroke-width="1.3" stroke-linejoin="round" stroke-dasharray="2 1.1"/>
<polyline points="387.90,278.00 388.60,280.30 411.60,301.30 511.80,321.50" fill="none" stroke="#3a86cc" stroke-width="1.3" stroke-linejoin="round" />
<g fill="#111"><circle cx="391.80" cy="272.80" r="1.05"/><circle cx="404.20" cy="283.10" r="1.05"/><circle cx="406.80" cy="283.70" r="1.05"/><circle cx="407.00" cy="285.50" r="1.05"/><circle cx="414.00" cy="284.00" r="1.05"/><circle cx="417.80" cy="285.00" r="1.05"/><circle cx="419.10" cy="285.50" r="1.05"/><circle cx="424.80" cy="282.70" r="1.05"/><circle cx="400.40" cy="289.70" r="1.05"/><circle cx="403.00" cy="293.90" r="1.05"/><circle cx="430.10" cy="292.60" r="1.05"/><circle cx="442.40" cy="282.40" r="1.05"/><circle cx="461.10" cy="290.30" r="1.05"/><circle cx="446.20" cy="294.10" r="1.05"/><circle cx="441.40" cy="297.30" r="1.05"/><circle cx="442.40" cy="297.30" r="1.05"/><circle cx="453.10" cy="296.00" r="1.05"/><circle cx="456.90" cy="298.20" r="1.05"/><circle cx="461.10" cy="298.90" r="1.05"/><circle cx="446.20" cy="300.70" r="1.05"/><circle cx="449.00" cy="302.40" r="1.05"/><circle cx="442.10" cy="304.30" r="1.05"/><circle cx="456.90" cy="305.30" r="1.05"/><circle cx="466.20" cy="302.00" r="1.05"/><circle cx="466.80" cy="302.40" r="1.05"/><circle cx="447.80" cy="307.40" r="1.05"/><circle cx="445.90" cy="308.70" r="1.05"/><circle cx="463.60" cy="308.70" r="1.05"/><circle cx="467.40" cy="308.70" r="1.05"/><circle cx="466.80" cy="310.60" r="1.05"/><circle cx="461.10" cy="314.20" r="1.05"/><circle cx="479.50" cy="313.10" r="1.05"/><circle cx="481.40" cy="300.80" r="1.05"/><circle cx="483.10" cy="303.70" r="1.05"/><circle cx="495.70" cy="309.40" r="1.05"/><circle cx="496.80" cy="310.50" r="1.05"/><circle cx="479.10" cy="313.40" r="1.05"/><circle cx="498.00" cy="314.80" r="1.05"/></g>
<g fill="#e8101e"><circle cx="400.40" cy="298.20" r="1.0"/><circle cx="401.70" cy="301.50" r="1.0"/><circle cx="405.80" cy="300.20" r="1.0"/><circle cx="400.70" cy="306.80" r="1.0"/><circle cx="401.70" cy="305.80" r="1.0"/><circle cx="406.80" cy="304.90" r="1.0"/><circle cx="411.10" cy="306.80" r="1.0"/><circle cx="416.60" cy="303.60" r="1.0"/><circle cx="430.10" cy="300.20" r="1.0"/><circle cx="415.30" cy="311.60" r="1.0"/><circle cx="410.20" cy="313.40" r="1.0"/><circle cx="416.60" cy="315.90" r="1.0"/><circle cx="420.40" cy="313.40" r="1.0"/><circle cx="423.80" cy="311.60" r="1.0"/><circle cx="427.60" cy="311.60" r="1.0"/><circle cx="432.70" cy="310.40" r="1.0"/><circle cx="403.00" cy="318.20" r="1.0"/><circle cx="430.10" cy="318.20" r="1.0"/><circle cx="421.80" cy="321.10" r="1.0"/><circle cx="430.00" cy="300.20" r="1.0"/><circle cx="438.90" cy="304.30" r="1.0"/><circle cx="439.50" cy="304.90" r="1.0"/><circle cx="473.80" cy="304.00" r="1.0"/><circle cx="432.50" cy="310.60" r="1.0"/><circle cx="439.50" cy="310.90" r="1.0"/><circle cx="443.30" cy="307.10" r="1.0"/><circle cx="445.20" cy="310.90" r="1.0"/><circle cx="446.50" cy="311.90" r="1.0"/><circle cx="445.00" cy="312.90" r="1.0"/><circle cx="443.70" cy="313.80" r="1.0"/><circle cx="450.30" cy="312.50" r="1.0"/><circle cx="449.70" cy="314.70" r="1.0"/><circle cx="454.70" cy="307.40" r="1.0"/><circle cx="454.70" cy="313.10" r="1.0"/><circle cx="456.60" cy="315.00" r="1.0"/><circle cx="457.90" cy="318.00" r="1.0"/><circle cx="438.60" cy="314.70" r="1.0"/><circle cx="446.50" cy="315.00" r="1.0"/><circle cx="474.40" cy="310.00" r="1.0"/><circle cx="477.60" cy="309.60" r="1.0"/><circle cx="464.90" cy="315.00" r="1.0"/><circle cx="438.60" cy="318.20" r="1.0"/><circle cx="445.20" cy="318.20" r="1.0"/><circle cx="473.40" cy="304.00" r="1.0"/><circle cx="474.60" cy="310.00" r="1.0"/><circle cx="477.40" cy="309.40" r="1.0"/><circle cx="481.40" cy="310.20" r="1.0"/><circle cx="484.30" cy="310.20" r="1.0"/><circle cx="488.30" cy="310.50" r="1.0"/><circle cx="490.80" cy="307.40" r="1.0"/><circle cx="482.60" cy="316.60" r="1.0"/><circle cx="439.00" cy="318.30" r="1.0"/><circle cx="439.50" cy="320.00" r="1.0"/></g>
<rect x="387.5" y="211.5" width="124.0" height="133.0" fill="none" stroke="#151515" stroke-width="1.1"/>
<line x1="384.80" y1="211.10" x2="387.60" y2="211.10" stroke="#1a1a1a" stroke-width="0.9" />
<text transform="translate(372.58,214.40) scale(0.9500,1)" font-size="8.30" fill="#1e1e1e" stroke="#1e1e1e" stroke-width="0.08">16</text>
<line x1="384.80" y1="227.76" x2="387.60" y2="227.76" stroke="#1a1a1a" stroke-width="0.9" />
<text transform="translate(372.46,231.06) scale(0.9500,1)" font-size="8.30" fill="#1e1e1e" stroke="#1e1e1e" stroke-width="0.08">14</text>
<line x1="384.80" y1="244.42" x2="387.60" y2="244.42" stroke="#1a1a1a" stroke-width="0.9" />
<text transform="translate(372.63,247.72) scale(0.9500,1)" font-size="8.30" fill="#1e1e1e" stroke="#1e1e1e" stroke-width="0.08">12</text>
<line x1="384.80" y1="261.09" x2="387.60" y2="261.09" stroke="#1a1a1a" stroke-width="0.9" />
<text transform="translate(372.54,264.39) scale(0.9500,1)" font-size="8.30" fill="#1e1e1e" stroke="#1e1e1e" stroke-width="0.08">10</text>
<line x1="384.80" y1="277.75" x2="387.60" y2="277.75" stroke="#1a1a1a" stroke-width="0.9" />
<text transform="translate(376.96,281.05) scale(0.9500,1)" font-size="8.30" fill="#1e1e1e" stroke="#1e1e1e" stroke-width="0.08">8</text>
<line x1="384.80" y1="294.41" x2="387.60" y2="294.41" stroke="#1a1a1a" stroke-width="0.9" />
<text transform="translate(376.96,297.71) scale(0.9500,1)" font-size="8.30" fill="#1e1e1e" stroke="#1e1e1e" stroke-width="0.08">6</text>
<line x1="384.80" y1="311.07" x2="387.60" y2="311.07" stroke="#1a1a1a" stroke-width="0.9" />
<text transform="translate(376.85,314.38) scale(0.9500,1)" font-size="8.30" fill="#1e1e1e" stroke="#1e1e1e" stroke-width="0.08">4</text>
<line x1="384.80" y1="344.40" x2="387.60" y2="344.40" stroke="#1a1a1a" stroke-width="0.9" />
<text transform="translate(376.92,347.70) scale(0.9500,1)" font-size="8.30" fill="#1e1e1e" stroke="#1e1e1e" stroke-width="0.08">0</text>
<line x1="387.60" y1="344.40" x2="387.60" y2="346.90" stroke="#1a1a1a" stroke-width="0.9" />
<line x1="394.33" y1="344.40" x2="394.33" y2="346.90" stroke="#1a1a1a" stroke-width="0.9" />
<line x1="401.05" y1="344.40" x2="401.05" y2="346.90" stroke="#1a1a1a" stroke-width="0.9" />
<line x1="407.78" y1="344.40" x2="407.78" y2="346.90" stroke="#1a1a1a" stroke-width="0.9" />
<line x1="414.50" y1="344.40" x2="414.50" y2="346.90" stroke="#1a1a1a" stroke-width="0.9" />
<line x1="421.23" y1="344.40" x2="421.23" y2="346.90" stroke="#1a1a1a" stroke-width="0.9" />
<line x1="427.95" y1="344.40" x2="427.95" y2="346.90" stroke="#1a1a1a" stroke-width="0.9" />
<line x1="434.68" y1="344.40" x2="434.68" y2="346.90" stroke="#1a1a1a" stroke-width="0.9" />
<line x1="441.40" y1="344.40" x2="441.40" y2="346.90" stroke="#1a1a1a" stroke-width="0.9" />
<line x1="448.12" y1="344.40" x2="448.12" y2="346.90" stroke="#1a1a1a" stroke-width="0.9" />
<line x1="454.85" y1="344.40" x2="454.85" y2="346.90" stroke="#1a1a1a" stroke-width="0.9" />
<line x1="461.58" y1="344.40" x2="461.58" y2="346.90" stroke="#1a1a1a" stroke-width="0.9" />
<line x1="468.30" y1="344.40" x2="468.30" y2="346.90" stroke="#1a1a1a" stroke-width="0.9" />
<line x1="475.03" y1="344.40" x2="475.03" y2="346.90" stroke="#1a1a1a" stroke-width="0.9" />
<line x1="481.75" y1="344.40" x2="481.75" y2="346.90" stroke="#1a1a1a" stroke-width="0.9" />
<line x1="488.48" y1="344.40" x2="488.48" y2="346.90" stroke="#1a1a1a" stroke-width="0.9" />
<line x1="495.20" y1="344.40" x2="495.20" y2="346.90" stroke="#1a1a1a" stroke-width="0.9" />
<line x1="501.93" y1="344.40" x2="501.93" y2="346.90" stroke="#1a1a1a" stroke-width="0.9" />
<line x1="508.65" y1="344.40" x2="508.65" y2="346.90" stroke="#1a1a1a" stroke-width="0.9" />
<text transform="translate(385.34,356.70) scale(0.9800,1)" font-size="8.30" fill="#1e1e1e" stroke="#1e1e1e" stroke-width="0.08">0</text>
<text transform="translate(409.93,356.70) scale(0.9800,1)" font-size="8.30" fill="#1e1e1e" stroke="#1e1e1e" stroke-width="0.08">20</text>
<text transform="translate(436.94,356.70) scale(0.9800,1)" font-size="8.30" fill="#1e1e1e" stroke="#1e1e1e" stroke-width="0.08">40</text>
<text transform="translate(463.73,356.70) scale(0.9800,1)" font-size="8.30" fill="#1e1e1e" stroke="#1e1e1e" stroke-width="0.08">60</text>
<text transform="translate(490.66,356.70) scale(0.9800,1)" font-size="8.30" fill="#1e1e1e" stroke="#1e1e1e" stroke-width="0.08">80</text>
<polygon points="382.40,328.93 391.80,323.57 391.80,326.37 382.40,331.73" fill="#fff"/>
<line x1="382.40" y1="328.93" x2="391.80" y2="323.57" stroke="#222" stroke-width="1.0" />
<line x1="382.40" y1="331.73" x2="391.80" y2="326.37" stroke="#222" stroke-width="1.0" />
<text transform="translate(372.03,200.20) scale(1.1777,1)" font-size="11.05" font-weight="bold" fill="#000">F</text>
<text transform="translate(393.58,226.10) scale(1.0400,1)" font-size="9.01" fill="#1e1e1e" stroke="#1e1e1e" stroke-width="0.18">nT</text>
<g fill="#111"><circle cx="453.40" cy="233.30" r="1.3"/></g>
<g fill="#e8101e"><circle cx="453.40" cy="245.30" r="1.2"/></g>
<text transform="translate(458.14,235.60) scale(1.0000,1)" font-size="7.40" fill="#1e1e1e" stroke="#1e1e1e" stroke-width="0.1" letter-spacing="0.245">+/+ siblings</text>
<text transform="translate(458.14,247.40) scale(1.0000,1)" font-size="7.40" fill="#1e1e1e" stroke="#1e1e1e" stroke-width="0.1" letter-spacing="0.233">+/– patients</text>
<text transform="translate(440.45,371.00) scale(0.6494,1)" font-size="10.61" fill="#1e1e1e" stroke="#1e1e1e" stroke-width="0.3">Years</text>
<text transform="translate(15.2,220.67) rotate(-90) scale(0.8145,1)" font-size="9.52" fill="#1e1e1e" stroke="#1e1e1e" stroke-width="0.3">Telomere length (kb)</text>
<line x1="35.00" y1="376.30" x2="506.00" y2="376.30" stroke="#000" stroke-width="1.2" />
<polygon points="511.6,376.3 505.6,373.0 505.6,379.6" fill="#000"/>
<text transform="translate(265.29,386.30) scale(0.8706,1)" font-size="8.29" fill="#1e1e1e" stroke="#1e1e1e" stroke-width="0.3">Age</text>
<rect x="0.6" y="0.6" width="518.8" height="392.8" fill="none" stroke="#000" stroke-width="1.2"/>
</svg></body></html>
